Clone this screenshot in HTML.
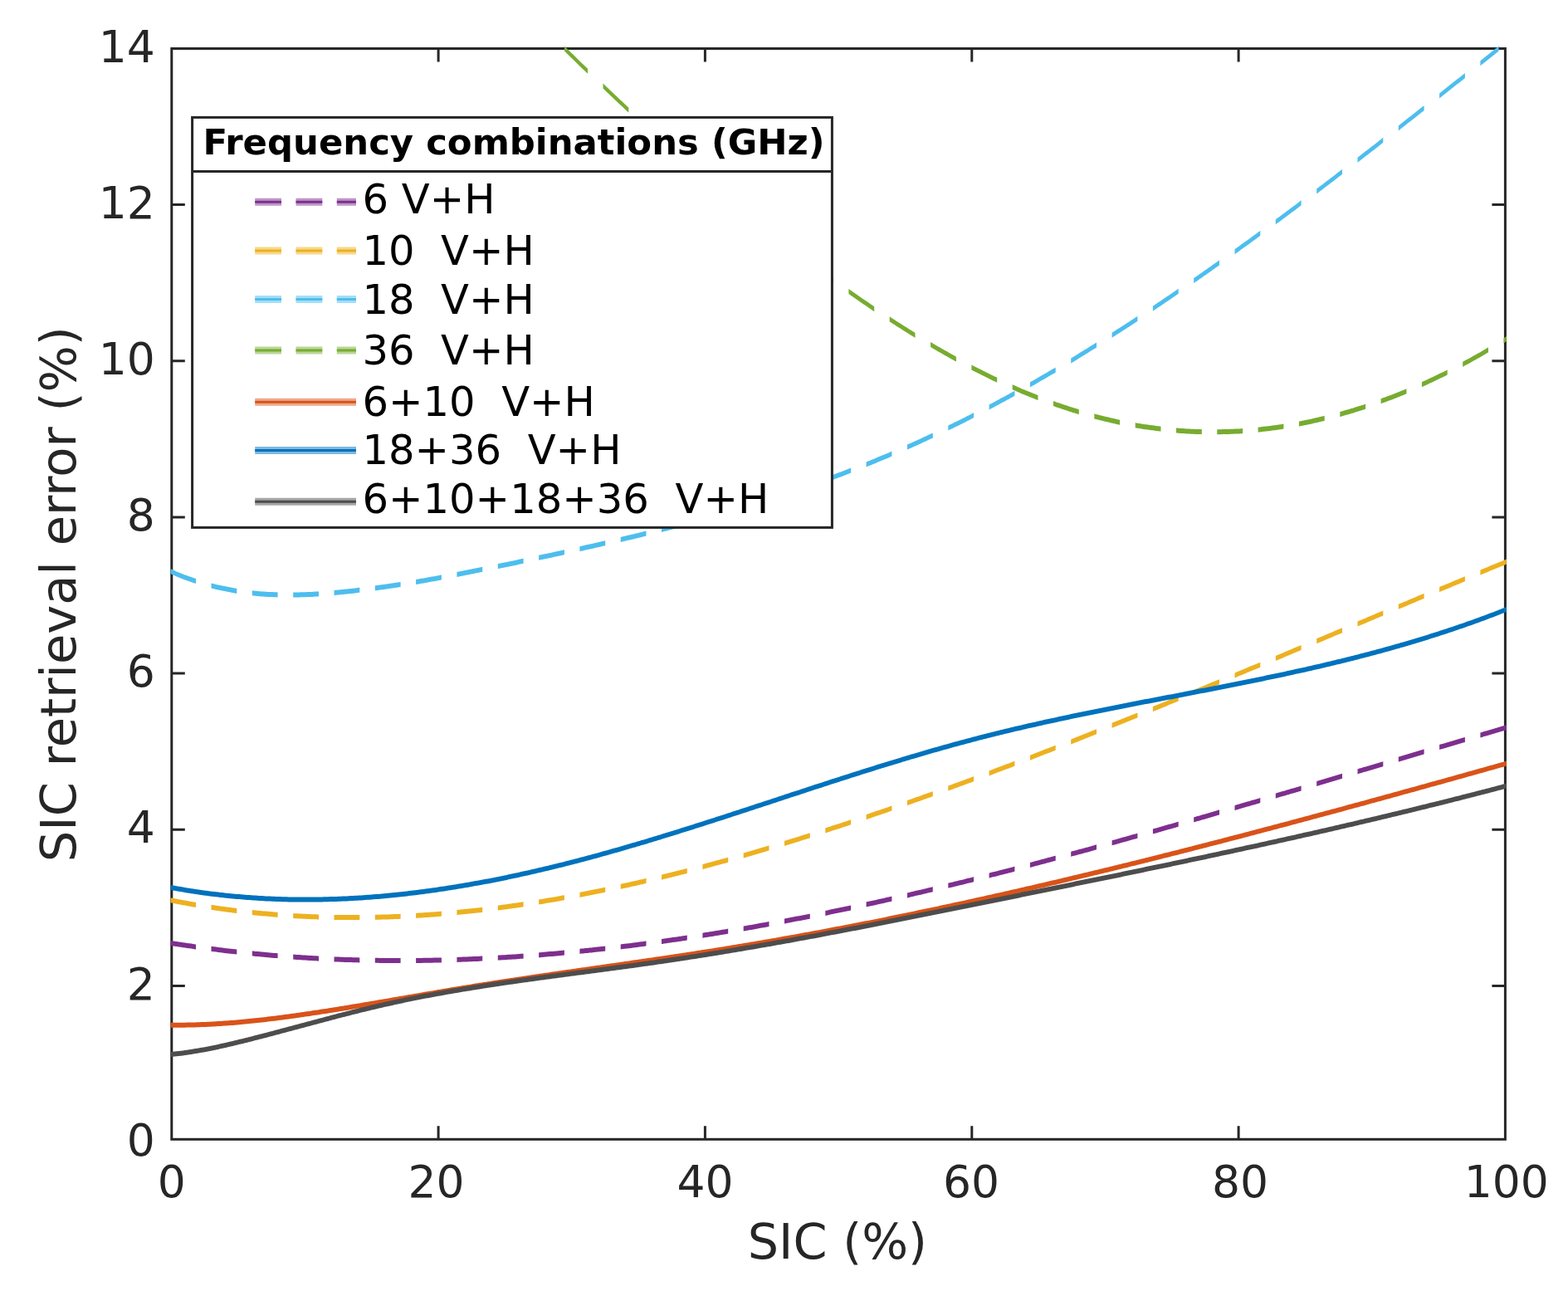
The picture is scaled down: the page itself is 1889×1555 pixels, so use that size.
<!DOCTYPE html>
<html><head><meta charset="utf-8"><title>SIC retrieval error</title>
<style>
html,body{margin:0;padding:0;background:#fff;overflow:hidden}
svg{display:block}
text{font-family:"DejaVu Sans","Liberation Sans",sans-serif}
</style></head><body>
<svg width="1889" height="1555" viewBox="0 0 1889 1555">
<rect width="1889" height="1555" fill="#fff"/>
<defs>
<clipPath id="ax"><rect x="205.3" y="40" width="1609.6" height="1340"/></clipPath>
<clipPath id="dA"><rect x="155.9" y="0" width="30.8" height="1555"/><rect x="205.2" y="0" width="30.8" height="1555"/><rect x="254.5" y="0" width="30.8" height="1555"/><rect x="303.8" y="0" width="30.8" height="1555"/><rect x="353.2" y="0" width="30.8" height="1555"/><rect x="402.5" y="0" width="30.8" height="1555"/><rect x="451.8" y="0" width="30.8" height="1555"/><rect x="501.1" y="0" width="30.8" height="1555"/><rect x="550.4" y="0" width="30.8" height="1555"/><rect x="599.8" y="0" width="30.8" height="1555"/><rect x="649.1" y="0" width="30.8" height="1555"/><rect x="698.4" y="0" width="30.8" height="1555"/><rect x="747.7" y="0" width="30.8" height="1555"/><rect x="797.0" y="0" width="30.8" height="1555"/><rect x="846.4" y="0" width="30.8" height="1555"/><rect x="895.7" y="0" width="30.8" height="1555"/><rect x="945.0" y="0" width="30.8" height="1555"/><rect x="994.3" y="0" width="30.8" height="1555"/><rect x="1043.6" y="0" width="30.8" height="1555"/><rect x="1093.0" y="0" width="30.8" height="1555"/><rect x="1142.3" y="0" width="30.8" height="1555"/><rect x="1191.6" y="0" width="30.8" height="1555"/><rect x="1240.9" y="0" width="30.8" height="1555"/><rect x="1290.2" y="0" width="30.8" height="1555"/><rect x="1339.6" y="0" width="30.8" height="1555"/><rect x="1388.9" y="0" width="30.8" height="1555"/><rect x="1438.2" y="0" width="30.8" height="1555"/><rect x="1487.5" y="0" width="30.8" height="1555"/><rect x="1536.8" y="0" width="30.8" height="1555"/><rect x="1586.2" y="0" width="30.8" height="1555"/><rect x="1635.5" y="0" width="30.8" height="1555"/><rect x="1684.8" y="0" width="30.8" height="1555"/><rect x="1734.1" y="0" width="30.8" height="1555"/><rect x="1783.4" y="0" width="32.1" height="1555"/><rect x="1832.8" y="0" width="30.8" height="1555"/></clipPath>
<clipPath id="dG"><rect x="134.7" y="0" width="30.8" height="1555"/><rect x="184.0" y="0" width="30.8" height="1555"/><rect x="233.3" y="0" width="30.8" height="1555"/><rect x="282.6" y="0" width="30.8" height="1555"/><rect x="331.9" y="0" width="30.8" height="1555"/><rect x="381.3" y="0" width="30.8" height="1555"/><rect x="430.6" y="0" width="30.8" height="1555"/><rect x="479.9" y="0" width="30.8" height="1555"/><rect x="529.2" y="0" width="30.8" height="1555"/><rect x="578.5" y="0" width="30.8" height="1555"/><rect x="627.9" y="0" width="30.8" height="1555"/><rect x="677.2" y="0" width="30.8" height="1555"/><rect x="726.5" y="0" width="30.8" height="1555"/><rect x="775.8" y="0" width="30.8" height="1555"/><rect x="825.1" y="0" width="30.8" height="1555"/><rect x="874.5" y="0" width="30.8" height="1555"/><rect x="923.8" y="0" width="30.8" height="1555"/><rect x="973.1" y="0" width="30.8" height="1555"/><rect x="1022.4" y="0" width="30.8" height="1555"/><rect x="1071.7" y="0" width="30.8" height="1555"/><rect x="1121.1" y="0" width="30.8" height="1555"/><rect x="1170.4" y="0" width="30.8" height="1555"/><rect x="1219.7" y="0" width="30.8" height="1555"/><rect x="1269.0" y="0" width="30.8" height="1555"/><rect x="1318.3" y="0" width="30.8" height="1555"/><rect x="1367.7" y="0" width="30.8" height="1555"/><rect x="1417.0" y="0" width="30.8" height="1555"/><rect x="1466.3" y="0" width="30.8" height="1555"/><rect x="1515.6" y="0" width="30.8" height="1555"/><rect x="1564.9" y="0" width="30.8" height="1555"/><rect x="1614.3" y="0" width="30.8" height="1555"/><rect x="1663.6" y="0" width="30.8" height="1555"/><rect x="1712.9" y="0" width="30.8" height="1555"/><rect x="1762.2" y="0" width="30.8" height="1555"/><rect x="1811.5" y="0" width="30.8" height="1555"/></clipPath>
</defs>
<g stroke="#262626" stroke-width="3" fill="none"><rect x="206.8" y="58.5" width="1606.6" height="1313.8"/><path d="M206.8 1187.5h16M1813.4 1187.5h-16M206.8 999.3h16M1813.4 999.3h-16M206.8 811.1h16M1813.4 811.1h-16M206.8 622.9h16M1813.4 622.9h-16M206.8 434.7h16M1813.4 434.7h-16M206.8 246.5h16M1813.4 246.5h-16M528.1 1372.3v-16M528.1 58.5v16M849.4 1372.3v-16M849.4 58.5v16M1170.8 1372.3v-16M1170.8 58.5v16M1492.1 1372.3v-16M1492.1 58.5v16"/></g>
<g clip-path="url(#ax)" stroke="none">
<g clip-path="url(#dA)"><path d="M205.3 1132.9L207.8 1133.3L210.3 1133.7L212.8 1134.1L215.3 1134.4L217.8 1134.8L220.3 1135.2L222.8 1135.6L225.3 1135.9L227.8 1136.3L230.3 1136.6L232.8 1137.0L235.3 1137.4L237.8 1137.7L240.3 1138.0L242.8 1138.4L245.3 1138.7L247.8 1139.0L250.3 1139.4L252.8 1139.7L255.3 1140.0L257.8 1140.3L260.3 1140.6L262.8 1141.0L265.3 1141.3L267.8 1141.6L270.3 1141.9L272.8 1142.2L275.3 1142.4L277.8 1142.7L280.3 1143.0L282.8 1143.3L285.3 1143.6L287.8 1143.8L290.3 1144.1L292.8 1144.4L295.3 1144.6L297.8 1144.9L300.3 1145.1L302.8 1145.4L305.3 1145.6L307.8 1145.9L310.3 1146.1L312.8 1146.3L315.3 1146.6L317.8 1146.8L320.3 1147.0L322.8 1147.2L325.3 1147.5L327.8 1147.7L330.3 1147.9L332.8 1148.1L335.3 1148.3L337.8 1148.5L340.3 1148.7L342.8 1148.9L345.3 1149.1L347.8 1149.2L350.3 1149.4L352.8 1149.6L355.3 1149.8L357.8 1149.9L360.3 1150.1L362.8 1150.3L365.3 1150.4L367.8 1150.6L370.3 1150.7L372.8 1150.9L375.3 1151.0L377.8 1151.2L380.3 1151.3L382.8 1151.4L385.3 1151.6L387.8 1151.7L390.3 1151.8L392.8 1151.9L395.3 1152.1L397.8 1152.2L400.3 1152.3L402.8 1152.4L405.3 1152.5L407.8 1152.6L410.3 1152.7L412.8 1152.8L415.3 1152.9L417.8 1152.9L420.3 1153.0L422.8 1153.1L425.3 1153.2L427.8 1153.3L430.3 1153.3L432.8 1153.4L435.3 1153.5L437.8 1153.5L440.3 1153.6L442.8 1153.6L445.3 1153.7L447.8 1153.7L450.3 1153.8L452.8 1153.8L455.3 1153.8L457.8 1153.9L460.3 1153.9L462.8 1153.9L465.3 1154.0L467.8 1154.0L470.3 1154.0L472.8 1154.0L475.3 1154.0L477.8 1154.0L480.3 1154.0L482.8 1154.0L485.3 1154.0L487.8 1154.0L490.3 1154.0L492.8 1154.0L495.3 1154.0L497.8 1154.0L500.3 1153.9L502.8 1153.9L505.3 1153.9L507.8 1153.9L510.3 1153.8L512.8 1153.8L515.3 1153.8L517.8 1153.7L520.3 1153.7L522.8 1153.6L525.3 1153.6L527.8 1153.5L530.3 1153.4L532.8 1153.4L535.3 1153.3L537.8 1153.3L540.3 1153.2L542.8 1153.1L545.3 1153.0L547.8 1153.0L550.3 1152.9L552.8 1152.8L555.3 1152.7L557.8 1152.6L560.3 1152.5L562.8 1152.4L565.3 1152.3L567.8 1152.2L570.3 1152.1L572.8 1152.0L575.3 1151.9L577.8 1151.8L580.3 1151.6L582.8 1151.5L585.3 1151.4L587.8 1151.3L590.3 1151.1L592.8 1151.0L595.3 1150.9L597.8 1150.7L600.3 1150.6L602.8 1150.4L605.3 1150.3L607.8 1150.2L610.3 1150.0L612.8 1149.8L615.3 1149.7L617.8 1149.5L620.3 1149.4L622.8 1149.2L625.3 1149.0L627.8 1148.8L630.3 1148.7L632.8 1148.5L635.3 1148.3L637.8 1148.1L640.3 1147.9L642.8 1147.8L645.3 1147.6L647.8 1147.4L650.3 1147.2L652.8 1147.0L655.3 1146.8L657.8 1146.6L660.3 1146.3L662.8 1146.1L665.3 1145.9L667.8 1145.7L670.3 1145.5L672.8 1145.3L675.3 1145.0L677.8 1144.8L680.3 1144.6L682.8 1144.3L685.3 1144.1L687.8 1143.9L690.3 1143.6L692.8 1143.4L695.3 1143.1L697.8 1142.9L700.3 1142.6L702.8 1142.4L705.3 1142.1L707.8 1141.9L710.3 1141.6L712.8 1141.4L715.3 1141.1L717.8 1140.8L720.3 1140.5L722.8 1140.3L725.3 1140.0L727.8 1139.7L730.3 1139.4L732.8 1139.1L735.3 1138.9L737.8 1138.6L740.3 1138.3L742.8 1138.0L745.3 1137.7L747.8 1137.4L750.3 1137.1L752.8 1136.8L755.3 1136.5L757.8 1136.2L760.3 1135.9L762.8 1135.5L765.3 1135.2L767.8 1134.9L770.3 1134.6L772.8 1134.3L775.3 1133.9L777.8 1133.6L780.3 1133.3L782.8 1132.9L785.3 1132.6L787.8 1132.3L790.3 1131.9L792.8 1131.6L795.3 1131.2L797.8 1130.9L800.3 1130.5L802.8 1130.2L805.3 1129.8L807.8 1129.5L810.3 1129.1L812.8 1128.8L815.3 1128.4L817.8 1128.0L820.3 1127.7L822.8 1127.3L825.3 1126.9L827.8 1126.5L830.3 1126.2L832.8 1125.8L835.3 1125.4L837.8 1125.0L840.3 1124.6L842.8 1124.3L845.3 1123.9L847.8 1123.5L850.3 1123.1L852.8 1122.7L855.3 1122.3L857.8 1121.9L860.3 1121.5L862.8 1121.1L865.3 1120.7L867.8 1120.3L870.3 1119.8L872.8 1119.4L875.3 1119.0L877.8 1118.6L880.3 1118.2L882.8 1117.7L885.3 1117.3L887.8 1116.9L890.3 1116.5L892.8 1116.0L895.3 1115.6L897.8 1115.2L900.3 1114.7L902.8 1114.3L905.3 1113.9L907.8 1113.4L910.3 1113.0L912.8 1112.5L915.3 1112.1L917.8 1111.6L920.3 1111.2L922.8 1110.7L925.3 1110.2L927.8 1109.8L930.3 1109.3L932.8 1108.9L935.3 1108.4L937.8 1107.9L940.3 1107.5L942.8 1107.0L945.3 1106.5L947.8 1106.0L950.3 1105.6L952.8 1105.1L955.3 1104.6L957.8 1104.1L960.3 1103.6L962.8 1103.2L965.3 1102.7L967.8 1102.2L970.3 1101.7L972.8 1101.2L975.3 1100.7L977.8 1100.2L980.3 1099.7L982.8 1099.2L985.3 1098.7L987.8 1098.2L990.3 1097.7L992.8 1097.2L995.3 1096.7L997.8 1096.2L1000.3 1095.6L1002.8 1095.1L1005.3 1094.6L1007.8 1094.1L1010.3 1093.6L1012.8 1093.0L1015.3 1092.5L1017.8 1092.0L1020.3 1091.5L1022.8 1090.9L1025.3 1090.4L1027.8 1089.9L1030.3 1089.3L1032.8 1088.8L1035.3 1088.3L1037.8 1087.7L1040.3 1087.2L1042.8 1086.6L1045.3 1086.1L1047.8 1085.5L1050.3 1085.0L1052.8 1084.5L1055.3 1083.9L1057.8 1083.3L1060.3 1082.8L1062.8 1082.2L1065.3 1081.7L1067.8 1081.1L1070.3 1080.6L1072.8 1080.0L1075.3 1079.4L1077.8 1078.9L1080.3 1078.3L1082.8 1077.7L1085.3 1077.2L1087.8 1076.6L1090.3 1076.0L1092.8 1075.4L1095.3 1074.9L1097.8 1074.3L1100.3 1073.7L1102.8 1073.1L1105.3 1072.5L1107.8 1072.0L1110.3 1071.4L1112.8 1070.8L1115.3 1070.2L1117.8 1069.6L1120.3 1069.0L1122.8 1068.4L1125.3 1067.8L1127.8 1067.2L1130.3 1066.6L1132.8 1066.0L1135.3 1065.4L1137.8 1064.8L1140.3 1064.2L1142.8 1063.6L1145.3 1063.0L1147.8 1062.4L1150.3 1061.8L1152.8 1061.2L1155.3 1060.6L1157.8 1060.0L1160.3 1059.4L1162.8 1058.8L1165.3 1058.1L1167.8 1057.5L1170.3 1056.9L1172.8 1056.3L1175.3 1055.7L1177.8 1055.0L1180.3 1054.4L1182.8 1053.8L1185.3 1053.2L1187.8 1052.5L1190.3 1051.9L1192.8 1051.3L1195.3 1050.6L1197.8 1050.0L1200.3 1049.4L1202.8 1048.7L1205.3 1048.1L1207.8 1047.5L1210.3 1046.8L1212.8 1046.2L1215.3 1045.5L1217.8 1044.9L1220.3 1044.3L1222.8 1043.6L1225.3 1043.0L1227.8 1042.3L1230.3 1041.7L1232.8 1041.0L1235.3 1040.4L1237.8 1039.7L1240.3 1039.1L1242.8 1038.4L1245.3 1037.8L1247.8 1037.1L1250.3 1036.4L1252.8 1035.8L1255.3 1035.1L1257.8 1034.5L1260.3 1033.8L1262.8 1033.1L1265.3 1032.5L1267.8 1031.8L1270.3 1031.1L1272.8 1030.5L1275.3 1029.8L1277.8 1029.1L1280.3 1028.5L1282.8 1027.8L1285.3 1027.1L1287.8 1026.5L1290.3 1025.8L1292.8 1025.1L1295.3 1024.4L1297.8 1023.8L1300.3 1023.1L1302.8 1022.4L1305.3 1021.7L1307.8 1021.0L1310.3 1020.4L1312.8 1019.7L1315.3 1019.0L1317.8 1018.3L1320.3 1017.6L1322.8 1016.9L1325.3 1016.3L1327.8 1015.6L1330.3 1014.9L1332.8 1014.2L1335.3 1013.5L1337.8 1012.8L1340.3 1012.1L1342.8 1011.4L1345.3 1010.7L1347.8 1010.0L1350.3 1009.3L1352.8 1008.6L1355.3 1007.9L1357.8 1007.2L1360.3 1006.5L1362.8 1005.8L1365.3 1005.1L1367.8 1004.4L1370.3 1003.7L1372.8 1003.0L1375.3 1002.3L1377.8 1001.6L1380.3 1000.9L1382.8 1000.2L1385.3 999.5L1387.8 998.8L1390.3 998.1L1392.8 997.4L1395.3 996.7L1397.8 996.0L1400.3 995.3L1402.8 994.5L1405.3 993.8L1407.8 993.1L1410.3 992.4L1412.8 991.7L1415.3 991.0L1417.8 990.3L1420.3 989.5L1422.8 988.8L1425.3 988.1L1427.8 987.4L1430.3 986.7L1432.8 986.0L1435.3 985.2L1437.8 984.5L1440.3 983.8L1442.8 983.1L1445.3 982.4L1447.8 981.6L1450.3 980.9L1452.8 980.2L1455.3 979.5L1457.8 978.7L1460.3 978.0L1462.8 977.3L1465.3 976.6L1467.8 975.8L1470.3 975.1L1472.8 974.4L1475.3 973.7L1477.8 972.9L1480.3 972.2L1482.8 971.5L1485.3 970.7L1487.8 970.0L1490.3 969.3L1492.8 968.5L1495.3 967.8L1497.8 967.1L1500.3 966.3L1502.8 965.6L1505.3 964.9L1507.8 964.1L1510.3 963.4L1512.8 962.7L1515.3 961.9L1517.8 961.2L1520.3 960.5L1522.8 959.7L1525.3 959.0L1527.8 958.3L1530.3 957.5L1532.8 956.8L1535.3 956.1L1537.8 955.3L1540.3 954.6L1542.8 953.8L1545.3 953.1L1547.8 952.4L1550.3 951.6L1552.8 950.9L1555.3 950.1L1557.8 949.4L1560.3 948.7L1562.8 947.9L1565.3 947.2L1567.8 946.4L1570.3 945.7L1572.8 945.0L1575.3 944.2L1577.8 943.5L1580.3 942.7L1582.8 942.0L1585.3 941.2L1587.8 940.5L1590.3 939.8L1592.8 939.0L1595.3 938.3L1597.8 937.5L1600.3 936.8L1602.8 936.0L1605.3 935.3L1607.8 934.6L1610.3 933.8L1612.8 933.1L1615.3 932.3L1617.8 931.6L1620.3 930.8L1622.8 930.1L1625.3 929.4L1627.8 928.6L1630.3 927.9L1632.8 927.1L1635.3 926.4L1637.8 925.6L1640.3 924.9L1642.8 924.1L1645.3 923.4L1647.8 922.7L1650.3 921.9L1652.8 921.2L1655.3 920.4L1657.8 919.7L1660.3 918.9L1662.8 918.2L1665.3 917.4L1667.8 916.7L1670.3 915.9L1672.8 915.2L1675.3 914.5L1677.8 913.7L1680.3 913.0L1682.8 912.2L1685.3 911.5L1687.8 910.7L1690.3 910.0L1692.8 909.3L1695.3 908.5L1697.8 907.8L1700.3 907.0L1702.8 906.3L1705.3 905.5L1707.8 904.8L1710.3 904.1L1712.8 903.3L1715.3 902.6L1717.8 901.8L1720.3 901.1L1722.8 900.3L1725.3 899.6L1727.8 898.9L1730.3 898.1L1732.8 897.4L1735.3 896.6L1737.8 895.9L1740.3 895.2L1742.8 894.4L1745.3 893.7L1747.8 892.9L1750.3 892.2L1752.8 891.5L1755.3 890.7L1757.8 890.0L1760.3 889.2L1762.8 888.5L1765.3 887.8L1767.8 887.0L1770.3 886.3L1772.8 885.6L1775.3 884.8L1777.8 884.1L1780.3 883.3L1782.8 882.6L1785.3 881.9L1787.8 881.1L1790.3 880.4L1792.8 879.7L1795.3 878.9L1797.8 878.2L1800.3 877.5L1802.8 876.7L1805.3 876.0L1807.8 875.3L1810.3 874.6L1812.8 873.8L1814.9 873.2L1814.9 879.2L1812.8 879.8L1810.3 880.6L1807.8 881.3L1805.3 882.0L1802.8 882.7L1800.3 883.5L1797.8 884.2L1795.3 884.9L1792.8 885.7L1790.3 886.4L1787.8 887.1L1785.3 887.9L1782.8 888.6L1780.3 889.3L1777.8 890.1L1775.3 890.8L1772.8 891.6L1770.3 892.3L1767.8 893.0L1765.3 893.8L1762.8 894.5L1760.3 895.2L1757.8 896.0L1755.3 896.7L1752.8 897.5L1750.3 898.2L1747.8 898.9L1745.3 899.7L1742.8 900.4L1740.3 901.2L1737.8 901.9L1735.3 902.6L1732.8 903.4L1730.3 904.1L1727.8 904.9L1725.3 905.6L1722.8 906.3L1720.3 907.1L1717.8 907.8L1715.3 908.6L1712.8 909.3L1710.3 910.1L1707.8 910.8L1705.3 911.5L1702.8 912.3L1700.3 913.0L1697.8 913.8L1695.3 914.5L1692.8 915.3L1690.3 916.0L1687.8 916.7L1685.3 917.5L1682.8 918.2L1680.3 919.0L1677.8 919.7L1675.3 920.5L1672.8 921.2L1670.3 921.9L1667.8 922.7L1665.3 923.4L1662.8 924.2L1660.3 924.9L1657.8 925.7L1655.3 926.4L1652.8 927.2L1650.3 927.9L1647.8 928.7L1645.3 929.4L1642.8 930.1L1640.3 930.9L1637.8 931.6L1635.3 932.4L1632.8 933.1L1630.3 933.9L1627.8 934.6L1625.3 935.4L1622.8 936.1L1620.3 936.8L1617.8 937.6L1615.3 938.3L1612.8 939.1L1610.3 939.8L1607.8 940.6L1605.3 941.3L1602.8 942.0L1600.3 942.8L1597.8 943.5L1595.3 944.3L1592.8 945.0L1590.3 945.8L1587.8 946.5L1585.3 947.2L1582.8 948.0L1580.3 948.7L1577.8 949.5L1575.3 950.2L1572.8 951.0L1570.3 951.7L1567.8 952.4L1565.3 953.2L1562.8 953.9L1560.3 954.7L1557.8 955.4L1555.3 956.1L1552.8 956.9L1550.3 957.6L1547.8 958.4L1545.3 959.1L1542.8 959.8L1540.3 960.6L1537.8 961.3L1535.3 962.1L1532.8 962.8L1530.3 963.5L1527.8 964.3L1525.3 965.0L1522.8 965.7L1520.3 966.5L1517.8 967.2L1515.3 967.9L1512.8 968.7L1510.3 969.4L1507.8 970.1L1505.3 970.9L1502.8 971.6L1500.3 972.3L1497.8 973.1L1495.3 973.8L1492.8 974.5L1490.3 975.3L1487.8 976.0L1485.3 976.7L1482.8 977.5L1480.3 978.2L1477.8 978.9L1475.3 979.7L1472.8 980.4L1470.3 981.1L1467.8 981.8L1465.3 982.6L1462.8 983.3L1460.3 984.0L1457.8 984.7L1455.3 985.5L1452.8 986.2L1450.3 986.9L1447.8 987.6L1445.3 988.4L1442.8 989.1L1440.3 989.8L1437.8 990.5L1435.3 991.2L1432.8 992.0L1430.3 992.7L1427.8 993.4L1425.3 994.1L1422.8 994.8L1420.3 995.5L1417.8 996.3L1415.3 997.0L1412.8 997.7L1410.3 998.4L1407.8 999.1L1405.3 999.8L1402.8 1000.5L1400.3 1001.3L1397.8 1002.0L1395.3 1002.7L1392.8 1003.4L1390.3 1004.1L1387.8 1004.8L1385.3 1005.5L1382.8 1006.2L1380.3 1006.9L1377.8 1007.6L1375.3 1008.3L1372.8 1009.0L1370.3 1009.7L1367.8 1010.4L1365.3 1011.1L1362.8 1011.8L1360.3 1012.5L1357.8 1013.2L1355.3 1013.9L1352.8 1014.6L1350.3 1015.3L1347.8 1016.0L1345.3 1016.7L1342.8 1017.4L1340.3 1018.1L1337.8 1018.8L1335.3 1019.5L1332.8 1020.2L1330.3 1020.9L1327.8 1021.6L1325.3 1022.3L1322.8 1022.9L1320.3 1023.6L1317.8 1024.3L1315.3 1025.0L1312.8 1025.7L1310.3 1026.4L1307.8 1027.0L1305.3 1027.7L1302.8 1028.4L1300.3 1029.1L1297.8 1029.8L1295.3 1030.4L1292.8 1031.1L1290.3 1031.8L1287.8 1032.5L1285.3 1033.1L1282.8 1033.8L1280.3 1034.5L1277.8 1035.1L1275.3 1035.8L1272.8 1036.5L1270.3 1037.1L1267.8 1037.8L1265.3 1038.5L1262.8 1039.1L1260.3 1039.8L1257.8 1040.5L1255.3 1041.1L1252.8 1041.8L1250.3 1042.4L1247.8 1043.1L1245.3 1043.8L1242.8 1044.4L1240.3 1045.1L1237.8 1045.7L1235.3 1046.4L1232.8 1047.0L1230.3 1047.7L1227.8 1048.3L1225.3 1049.0L1222.8 1049.6L1220.3 1050.3L1217.8 1050.9L1215.3 1051.5L1212.8 1052.2L1210.3 1052.8L1207.8 1053.5L1205.3 1054.1L1202.8 1054.7L1200.3 1055.4L1197.8 1056.0L1195.3 1056.6L1192.8 1057.3L1190.3 1057.9L1187.8 1058.5L1185.3 1059.2L1182.8 1059.8L1180.3 1060.4L1177.8 1061.0L1175.3 1061.7L1172.8 1062.3L1170.3 1062.9L1167.8 1063.5L1165.3 1064.1L1162.8 1064.8L1160.3 1065.4L1157.8 1066.0L1155.3 1066.6L1152.8 1067.2L1150.3 1067.8L1147.8 1068.4L1145.3 1069.0L1142.8 1069.6L1140.3 1070.2L1137.8 1070.8L1135.3 1071.4L1132.8 1072.0L1130.3 1072.6L1127.8 1073.2L1125.3 1073.8L1122.8 1074.4L1120.3 1075.0L1117.8 1075.6L1115.3 1076.2L1112.8 1076.8L1110.3 1077.4L1107.8 1078.0L1105.3 1078.5L1102.8 1079.1L1100.3 1079.7L1097.8 1080.3L1095.3 1080.9L1092.8 1081.4L1090.3 1082.0L1087.8 1082.6L1085.3 1083.2L1082.8 1083.7L1080.3 1084.3L1077.8 1084.9L1075.3 1085.4L1072.8 1086.0L1070.3 1086.6L1067.8 1087.1L1065.3 1087.7L1062.8 1088.2L1060.3 1088.8L1057.8 1089.3L1055.3 1089.9L1052.8 1090.5L1050.3 1091.0L1047.8 1091.5L1045.3 1092.1L1042.8 1092.6L1040.3 1093.2L1037.8 1093.7L1035.3 1094.3L1032.8 1094.8L1030.3 1095.3L1027.8 1095.9L1025.3 1096.4L1022.8 1096.9L1020.3 1097.5L1017.8 1098.0L1015.3 1098.5L1012.8 1099.0L1010.3 1099.6L1007.8 1100.1L1005.3 1100.6L1002.8 1101.1L1000.3 1101.6L997.8 1102.2L995.3 1102.7L992.8 1103.2L990.3 1103.7L987.8 1104.2L985.3 1104.7L982.8 1105.2L980.3 1105.7L977.8 1106.2L975.3 1106.7L972.8 1107.2L970.3 1107.7L967.8 1108.2L965.3 1108.7L962.8 1109.2L960.3 1109.6L957.8 1110.1L955.3 1110.6L952.8 1111.1L950.3 1111.6L947.8 1112.0L945.3 1112.5L942.8 1113.0L940.3 1113.5L937.8 1113.9L935.3 1114.4L932.8 1114.9L930.3 1115.3L927.8 1115.8L925.3 1116.2L922.8 1116.7L920.3 1117.2L917.8 1117.6L915.3 1118.1L912.8 1118.5L910.3 1119.0L907.8 1119.4L905.3 1119.9L902.8 1120.3L900.3 1120.7L897.8 1121.2L895.3 1121.6L892.8 1122.0L890.3 1122.5L887.8 1122.9L885.3 1123.3L882.8 1123.7L880.3 1124.2L877.8 1124.6L875.3 1125.0L872.8 1125.4L870.3 1125.8L867.8 1126.3L865.3 1126.7L862.8 1127.1L860.3 1127.5L857.8 1127.9L855.3 1128.3L852.8 1128.7L850.3 1129.1L847.8 1129.5L845.3 1129.9L842.8 1130.3L840.3 1130.6L837.8 1131.0L835.3 1131.4L832.8 1131.8L830.3 1132.2L827.8 1132.5L825.3 1132.9L822.8 1133.3L820.3 1133.7L817.8 1134.0L815.3 1134.4L812.8 1134.8L810.3 1135.1L807.8 1135.5L805.3 1135.8L802.8 1136.2L800.3 1136.5L797.8 1136.9L795.3 1137.2L792.8 1137.6L790.3 1137.9L787.8 1138.3L785.3 1138.6L782.8 1138.9L780.3 1139.3L777.8 1139.6L775.3 1139.9L772.8 1140.3L770.3 1140.6L767.8 1140.9L765.3 1141.2L762.8 1141.5L760.3 1141.9L757.8 1142.2L755.3 1142.5L752.8 1142.8L750.3 1143.1L747.8 1143.4L745.3 1143.7L742.8 1144.0L740.3 1144.3L737.8 1144.6L735.3 1144.9L732.8 1145.1L730.3 1145.4L727.8 1145.7L725.3 1146.0L722.8 1146.3L720.3 1146.5L717.8 1146.8L715.3 1147.1L712.8 1147.4L710.3 1147.6L707.8 1147.9L705.3 1148.1L702.8 1148.4L700.3 1148.6L697.8 1148.9L695.3 1149.1L692.8 1149.4L690.3 1149.6L687.8 1149.9L685.3 1150.1L682.8 1150.3L680.3 1150.6L677.8 1150.8L675.3 1151.0L672.8 1151.3L670.3 1151.5L667.8 1151.7L665.3 1151.9L662.8 1152.1L660.3 1152.3L657.8 1152.6L655.3 1152.8L652.8 1153.0L650.3 1153.2L647.8 1153.4L645.3 1153.6L642.8 1153.8L640.3 1153.9L637.8 1154.1L635.3 1154.3L632.8 1154.5L630.3 1154.7L627.8 1154.8L625.3 1155.0L622.8 1155.2L620.3 1155.4L617.8 1155.5L615.3 1155.7L612.8 1155.8L610.3 1156.0L607.8 1156.2L605.3 1156.3L602.8 1156.4L600.3 1156.6L597.8 1156.7L595.3 1156.9L592.8 1157.0L590.3 1157.1L587.8 1157.3L585.3 1157.4L582.8 1157.5L580.3 1157.6L577.8 1157.8L575.3 1157.9L572.8 1158.0L570.3 1158.1L567.8 1158.2L565.3 1158.3L562.8 1158.4L560.3 1158.5L557.8 1158.6L555.3 1158.7L552.8 1158.8L550.3 1158.9L547.8 1159.0L545.3 1159.0L542.8 1159.1L540.3 1159.2L537.8 1159.3L535.3 1159.3L532.8 1159.4L530.3 1159.4L527.8 1159.5L525.3 1159.6L522.8 1159.6L520.3 1159.7L517.8 1159.7L515.3 1159.8L512.8 1159.8L510.3 1159.8L507.8 1159.9L505.3 1159.9L502.8 1159.9L500.3 1159.9L497.8 1160.0L495.3 1160.0L492.8 1160.0L490.3 1160.0L487.8 1160.0L485.3 1160.0L482.8 1160.0L480.3 1160.0L477.8 1160.0L475.3 1160.0L472.8 1160.0L470.3 1160.0L467.8 1160.0L465.3 1160.0L462.8 1159.9L460.3 1159.9L457.8 1159.9L455.3 1159.8L452.8 1159.8L450.3 1159.8L447.8 1159.7L445.3 1159.7L442.8 1159.6L440.3 1159.6L437.8 1159.5L435.3 1159.5L432.8 1159.4L430.3 1159.3L427.8 1159.3L425.3 1159.2L422.8 1159.1L420.3 1159.0L417.8 1158.9L415.3 1158.9L412.8 1158.8L410.3 1158.7L407.8 1158.6L405.3 1158.5L402.8 1158.4L400.3 1158.3L397.8 1158.2L395.3 1158.1L392.8 1157.9L390.3 1157.8L387.8 1157.7L385.3 1157.6L382.8 1157.4L380.3 1157.3L377.8 1157.2L375.3 1157.0L372.8 1156.9L370.3 1156.7L367.8 1156.6L365.3 1156.4L362.8 1156.3L360.3 1156.1L357.8 1155.9L355.3 1155.8L352.8 1155.6L350.3 1155.4L347.8 1155.2L345.3 1155.1L342.8 1154.9L340.3 1154.7L337.8 1154.5L335.3 1154.3L332.8 1154.1L330.3 1153.9L327.8 1153.7L325.3 1153.5L322.8 1153.2L320.3 1153.0L317.8 1152.8L315.3 1152.6L312.8 1152.3L310.3 1152.1L307.8 1151.9L305.3 1151.6L302.8 1151.4L300.3 1151.1L297.8 1150.9L295.3 1150.6L292.8 1150.4L290.3 1150.1L287.8 1149.8L285.3 1149.6L282.8 1149.3L280.3 1149.0L277.8 1148.7L275.3 1148.4L272.8 1148.2L270.3 1147.9L267.8 1147.6L265.3 1147.3L262.8 1147.0L260.3 1146.6L257.8 1146.3L255.3 1146.0L252.8 1145.7L250.3 1145.4L247.8 1145.0L245.3 1144.7L242.8 1144.4L240.3 1144.0L237.8 1143.7L235.3 1143.4L232.8 1143.0L230.3 1142.6L227.8 1142.3L225.3 1141.9L222.8 1141.6L220.3 1141.2L217.8 1140.8L215.3 1140.4L212.8 1140.1L210.3 1139.7L207.8 1139.3L205.3 1138.9Z" fill="#7E2F8E"/></g>
<g clip-path="url(#dA)"><path d="M205.3 1081.3L207.8 1081.8L210.3 1082.3L212.8 1082.8L215.3 1083.2L217.8 1083.7L220.3 1084.2L222.8 1084.6L225.3 1085.1L227.8 1085.5L230.3 1085.9L232.8 1086.4L235.3 1086.8L237.8 1087.2L240.3 1087.6L242.8 1088.0L245.3 1088.4L247.8 1088.8L250.3 1089.2L252.8 1089.6L255.3 1089.9L257.8 1090.3L260.3 1090.7L262.8 1091.0L265.3 1091.4L267.8 1091.7L270.3 1092.1L272.8 1092.4L275.3 1092.7L277.8 1093.0L280.3 1093.4L282.8 1093.7L285.3 1094.0L287.8 1094.3L290.3 1094.6L292.8 1094.8L295.3 1095.1L297.8 1095.4L300.3 1095.7L302.8 1095.9L305.3 1096.2L307.8 1096.4L310.3 1096.7L312.8 1096.9L315.3 1097.2L317.8 1097.4L320.3 1097.6L322.8 1097.8L325.3 1098.0L327.8 1098.3L330.3 1098.5L332.8 1098.7L335.3 1098.8L337.8 1099.0L340.3 1099.2L342.8 1099.4L345.3 1099.6L347.8 1099.7L350.3 1099.9L352.8 1100.0L355.3 1100.2L357.8 1100.3L360.3 1100.4L362.8 1100.6L365.3 1100.7L367.8 1100.8L370.3 1100.9L372.8 1101.1L375.3 1101.2L377.8 1101.3L380.3 1101.3L382.8 1101.4L385.3 1101.5L387.8 1101.6L390.3 1101.7L392.8 1101.7L395.3 1101.8L397.8 1101.9L400.3 1101.9L402.8 1102.0L405.3 1102.0L407.8 1102.0L410.3 1102.1L412.8 1102.1L415.3 1102.1L417.8 1102.1L420.3 1102.1L422.8 1102.1L425.3 1102.1L427.8 1102.1L430.3 1102.1L432.8 1102.1L435.3 1102.1L437.8 1102.1L440.3 1102.1L442.8 1102.0L445.3 1102.0L447.8 1101.9L450.3 1101.9L452.8 1101.8L455.3 1101.8L457.8 1101.7L460.3 1101.6L462.8 1101.6L465.3 1101.5L467.8 1101.4L470.3 1101.3L472.8 1101.2L475.3 1101.1L477.8 1101.0L480.3 1100.9L482.8 1100.8L485.3 1100.7L487.8 1100.6L490.3 1100.5L492.8 1100.3L495.3 1100.2L497.8 1100.0L500.3 1099.9L502.8 1099.8L505.3 1099.6L507.8 1099.4L510.3 1099.3L512.8 1099.1L515.3 1098.9L517.8 1098.8L520.3 1098.6L522.8 1098.4L525.3 1098.2L527.8 1098.0L530.3 1097.8L532.8 1097.6L535.3 1097.4L537.8 1097.2L540.3 1097.0L542.8 1096.8L545.3 1096.5L547.8 1096.3L550.3 1096.1L552.8 1095.8L555.3 1095.6L557.8 1095.3L560.3 1095.1L562.8 1094.8L565.3 1094.6L567.8 1094.3L570.3 1094.0L572.8 1093.8L575.3 1093.5L577.8 1093.2L580.3 1092.9L582.8 1092.6L585.3 1092.3L587.8 1092.0L590.3 1091.7L592.8 1091.4L595.3 1091.1L597.8 1090.8L600.3 1090.5L602.8 1090.2L605.3 1089.8L607.8 1089.5L610.3 1089.2L612.8 1088.8L615.3 1088.5L617.8 1088.1L620.3 1087.8L622.8 1087.4L625.3 1087.1L627.8 1086.7L630.3 1086.3L632.8 1086.0L635.3 1085.6L637.8 1085.2L640.3 1084.8L642.8 1084.4L645.3 1084.1L647.8 1083.7L650.3 1083.3L652.8 1082.9L655.3 1082.5L657.8 1082.0L660.3 1081.6L662.8 1081.2L665.3 1080.8L667.8 1080.4L670.3 1079.9L672.8 1079.5L675.3 1079.1L677.8 1078.6L680.3 1078.2L682.8 1077.7L685.3 1077.3L687.8 1076.8L690.3 1076.4L692.8 1075.9L695.3 1075.4L697.8 1075.0L700.3 1074.5L702.8 1074.0L705.3 1073.5L707.8 1073.1L710.3 1072.6L712.8 1072.1L715.3 1071.6L717.8 1071.1L720.3 1070.6L722.8 1070.1L725.3 1069.6L727.8 1069.1L730.3 1068.5L732.8 1068.0L735.3 1067.5L737.8 1067.0L740.3 1066.4L742.8 1065.9L745.3 1065.4L747.8 1064.8L750.3 1064.3L752.8 1063.8L755.3 1063.2L757.8 1062.7L760.3 1062.1L762.8 1061.5L765.3 1061.0L767.8 1060.4L770.3 1059.8L772.8 1059.3L775.3 1058.7L777.8 1058.1L780.3 1057.5L782.8 1056.9L785.3 1056.4L787.8 1055.8L790.3 1055.2L792.8 1054.6L795.3 1054.0L797.8 1053.4L800.3 1052.8L802.8 1052.2L805.3 1051.5L807.8 1050.9L810.3 1050.3L812.8 1049.7L815.3 1049.1L817.8 1048.4L820.3 1047.8L822.8 1047.2L825.3 1046.5L827.8 1045.9L830.3 1045.3L832.8 1044.6L835.3 1044.0L837.8 1043.3L840.3 1042.7L842.8 1042.0L845.3 1041.3L847.8 1040.7L850.3 1040.0L852.8 1039.3L855.3 1038.7L857.8 1038.0L860.3 1037.3L862.8 1036.6L865.3 1036.0L867.8 1035.3L870.3 1034.6L872.8 1033.9L875.3 1033.2L877.8 1032.5L880.3 1031.8L882.8 1031.1L885.3 1030.4L887.8 1029.7L890.3 1029.0L892.8 1028.3L895.3 1027.6L897.8 1026.9L900.3 1026.1L902.8 1025.4L905.3 1024.7L907.8 1024.0L910.3 1023.2L912.8 1022.5L915.3 1021.8L917.8 1021.0L920.3 1020.3L922.8 1019.6L925.3 1018.8L927.8 1018.1L930.3 1017.3L932.8 1016.6L935.3 1015.8L937.8 1015.1L940.3 1014.3L942.8 1013.5L945.3 1012.8L947.8 1012.0L950.3 1011.2L952.8 1010.5L955.3 1009.7L957.8 1008.9L960.3 1008.2L962.8 1007.4L965.3 1006.6L967.8 1005.8L970.3 1005.0L972.8 1004.2L975.3 1003.5L977.8 1002.7L980.3 1001.9L982.8 1001.1L985.3 1000.3L987.8 999.5L990.3 998.7L992.8 997.9L995.3 997.1L997.8 996.3L1000.3 995.4L1002.8 994.6L1005.3 993.8L1007.8 993.0L1010.3 992.2L1012.8 991.4L1015.3 990.5L1017.8 989.7L1020.3 988.9L1022.8 988.1L1025.3 987.2L1027.8 986.4L1030.3 985.6L1032.8 984.7L1035.3 983.9L1037.8 983.1L1040.3 982.2L1042.8 981.4L1045.3 980.5L1047.8 979.7L1050.3 978.8L1052.8 978.0L1055.3 977.1L1057.8 976.3L1060.3 975.4L1062.8 974.6L1065.3 973.7L1067.8 972.9L1070.3 972.0L1072.8 971.1L1075.3 970.3L1077.8 969.4L1080.3 968.5L1082.8 967.7L1085.3 966.8L1087.8 965.9L1090.3 965.0L1092.8 964.2L1095.3 963.3L1097.8 962.4L1100.3 961.5L1102.8 960.6L1105.3 959.8L1107.8 958.9L1110.3 958.0L1112.8 957.1L1115.3 956.2L1117.8 955.3L1120.3 954.4L1122.8 953.5L1125.3 952.6L1127.8 951.7L1130.3 950.8L1132.8 949.9L1135.3 949.0L1137.8 948.1L1140.3 947.2L1142.8 946.3L1145.3 945.4L1147.8 944.5L1150.3 943.6L1152.8 942.7L1155.3 941.7L1157.8 940.8L1160.3 939.9L1162.8 939.0L1165.3 938.1L1167.8 937.2L1170.3 936.2L1172.8 935.3L1175.3 934.4L1177.8 933.5L1180.3 932.5L1182.8 931.6L1185.3 930.7L1187.8 929.7L1190.3 928.8L1192.8 927.9L1195.3 926.9L1197.8 926.0L1200.3 925.1L1202.8 924.1L1205.3 923.2L1207.8 922.2L1210.3 921.3L1212.8 920.3L1215.3 919.4L1217.8 918.4L1220.3 917.5L1222.8 916.5L1225.3 915.6L1227.8 914.6L1230.3 913.7L1232.8 912.7L1235.3 911.8L1237.8 910.8L1240.3 909.9L1242.8 908.9L1245.3 907.9L1247.8 907.0L1250.3 906.0L1252.8 905.0L1255.3 904.1L1257.8 903.1L1260.3 902.1L1262.8 901.2L1265.3 900.2L1267.8 899.2L1270.3 898.3L1272.8 897.3L1275.3 896.3L1277.8 895.3L1280.3 894.4L1282.8 893.4L1285.3 892.4L1287.8 891.4L1290.3 890.4L1292.8 889.5L1295.3 888.5L1297.8 887.5L1300.3 886.5L1302.8 885.5L1305.3 884.5L1307.8 883.6L1310.3 882.6L1312.8 881.6L1315.3 880.6L1317.8 879.6L1320.3 878.6L1322.8 877.6L1325.3 876.6L1327.8 875.6L1330.3 874.6L1332.8 873.6L1335.3 872.6L1337.8 871.6L1340.3 870.6L1342.8 869.6L1345.3 868.6L1347.8 867.6L1350.3 866.6L1352.8 865.6L1355.3 864.6L1357.8 863.6L1360.3 862.6L1362.8 861.6L1365.3 860.6L1367.8 859.6L1370.3 858.6L1372.8 857.6L1375.3 856.5L1377.8 855.5L1380.3 854.5L1382.8 853.5L1385.3 852.5L1387.8 851.5L1390.3 850.5L1392.8 849.4L1395.3 848.4L1397.8 847.4L1400.3 846.4L1402.8 845.4L1405.3 844.4L1407.8 843.3L1410.3 842.3L1412.8 841.3L1415.3 840.3L1417.8 839.2L1420.3 838.2L1422.8 837.2L1425.3 836.2L1427.8 835.1L1430.3 834.1L1432.8 833.1L1435.3 832.1L1437.8 831.0L1440.3 830.0L1442.8 829.0L1445.3 827.9L1447.8 826.9L1450.3 825.9L1452.8 824.9L1455.3 823.8L1457.8 822.8L1460.3 821.8L1462.8 820.7L1465.3 819.7L1467.8 818.7L1470.3 817.6L1472.8 816.6L1475.3 815.5L1477.8 814.5L1480.3 813.5L1482.8 812.4L1485.3 811.4L1487.8 810.4L1490.3 809.3L1492.8 808.3L1495.3 807.2L1497.8 806.2L1500.3 805.2L1502.8 804.1L1505.3 803.1L1507.8 802.0L1510.3 801.0L1512.8 800.0L1515.3 798.9L1517.8 797.9L1520.3 796.8L1522.8 795.8L1525.3 794.7L1527.8 793.7L1530.3 792.6L1532.8 791.6L1535.3 790.6L1537.8 789.5L1540.3 788.5L1542.8 787.4L1545.3 786.4L1547.8 785.3L1550.3 784.3L1552.8 783.2L1555.3 782.2L1557.8 781.1L1560.3 780.1L1562.8 779.0L1565.3 778.0L1567.8 776.9L1570.3 775.9L1572.8 774.8L1575.3 773.8L1577.8 772.7L1580.3 771.7L1582.8 770.6L1585.3 769.6L1587.8 768.5L1590.3 767.5L1592.8 766.4L1595.3 765.4L1597.8 764.3L1600.3 763.3L1602.8 762.2L1605.3 761.2L1607.8 760.1L1610.3 759.1L1612.8 758.0L1615.3 757.0L1617.8 755.9L1620.3 754.9L1622.8 753.8L1625.3 752.8L1627.8 751.7L1630.3 750.7L1632.8 749.6L1635.3 748.6L1637.8 747.5L1640.3 746.5L1642.8 745.4L1645.3 744.4L1647.8 743.3L1650.3 742.3L1652.8 741.2L1655.3 740.2L1657.8 739.1L1660.3 738.1L1662.8 737.0L1665.3 736.0L1667.8 734.9L1670.3 733.9L1672.8 732.8L1675.3 731.8L1677.8 730.7L1680.3 729.7L1682.8 728.6L1685.3 727.6L1687.8 726.5L1690.3 725.5L1692.8 724.4L1695.3 723.4L1697.8 722.3L1700.3 721.3L1702.8 720.2L1705.3 719.2L1707.8 718.1L1710.3 717.1L1712.8 716.0L1715.3 715.0L1717.8 713.9L1720.3 712.9L1722.8 711.8L1725.3 710.8L1727.8 709.7L1730.3 708.7L1732.8 707.7L1735.3 706.6L1737.8 705.6L1740.3 704.5L1742.8 703.5L1745.3 702.4L1747.8 701.4L1750.3 700.3L1752.8 699.3L1755.3 698.3L1757.8 697.2L1760.3 696.2L1762.8 695.1L1765.3 694.1L1767.8 693.1L1770.3 692.0L1772.8 691.0L1775.3 689.9L1777.8 688.9L1780.3 687.9L1782.8 686.8L1785.3 685.8L1787.8 684.7L1790.3 683.7L1792.8 682.7L1795.3 681.6L1797.8 680.6L1800.3 679.6L1802.8 678.5L1805.3 677.5L1807.8 676.5L1810.3 675.4L1812.8 674.4L1814.9 673.5L1814.9 679.5L1812.8 680.4L1810.3 681.4L1807.8 682.5L1805.3 683.5L1802.8 684.5L1800.3 685.6L1797.8 686.6L1795.3 687.6L1792.8 688.7L1790.3 689.7L1787.8 690.7L1785.3 691.8L1782.8 692.8L1780.3 693.9L1777.8 694.9L1775.3 695.9L1772.8 697.0L1770.3 698.0L1767.8 699.1L1765.3 700.1L1762.8 701.1L1760.3 702.2L1757.8 703.2L1755.3 704.3L1752.8 705.3L1750.3 706.3L1747.8 707.4L1745.3 708.4L1742.8 709.5L1740.3 710.5L1737.8 711.6L1735.3 712.6L1732.8 713.7L1730.3 714.7L1727.8 715.7L1725.3 716.8L1722.8 717.8L1720.3 718.9L1717.8 719.9L1715.3 721.0L1712.8 722.0L1710.3 723.1L1707.8 724.1L1705.3 725.2L1702.8 726.2L1700.3 727.3L1697.8 728.3L1695.3 729.4L1692.8 730.4L1690.3 731.5L1687.8 732.5L1685.3 733.6L1682.8 734.6L1680.3 735.7L1677.8 736.7L1675.3 737.8L1672.8 738.8L1670.3 739.9L1667.8 740.9L1665.3 742.0L1662.8 743.0L1660.3 744.1L1657.8 745.1L1655.3 746.2L1652.8 747.2L1650.3 748.3L1647.8 749.3L1645.3 750.4L1642.8 751.4L1640.3 752.5L1637.8 753.5L1635.3 754.6L1632.8 755.6L1630.3 756.7L1627.8 757.7L1625.3 758.8L1622.8 759.8L1620.3 760.9L1617.8 761.9L1615.3 763.0L1612.8 764.0L1610.3 765.1L1607.8 766.1L1605.3 767.2L1602.8 768.2L1600.3 769.3L1597.8 770.3L1595.3 771.4L1592.8 772.4L1590.3 773.5L1587.8 774.5L1585.3 775.6L1582.8 776.6L1580.3 777.7L1577.8 778.7L1575.3 779.8L1572.8 780.8L1570.3 781.9L1567.8 782.9L1565.3 784.0L1562.8 785.0L1560.3 786.1L1557.8 787.1L1555.3 788.2L1552.8 789.2L1550.3 790.3L1547.8 791.3L1545.3 792.4L1542.8 793.4L1540.3 794.5L1537.8 795.5L1535.3 796.6L1532.8 797.6L1530.3 798.6L1527.8 799.7L1525.3 800.7L1522.8 801.8L1520.3 802.8L1517.8 803.9L1515.3 804.9L1512.8 806.0L1510.3 807.0L1507.8 808.0L1505.3 809.1L1502.8 810.1L1500.3 811.2L1497.8 812.2L1495.3 813.2L1492.8 814.3L1490.3 815.3L1487.8 816.4L1485.3 817.4L1482.8 818.4L1480.3 819.5L1477.8 820.5L1475.3 821.5L1472.8 822.6L1470.3 823.6L1467.8 824.7L1465.3 825.7L1462.8 826.7L1460.3 827.8L1457.8 828.8L1455.3 829.8L1452.8 830.9L1450.3 831.9L1447.8 832.9L1445.3 833.9L1442.8 835.0L1440.3 836.0L1437.8 837.0L1435.3 838.1L1432.8 839.1L1430.3 840.1L1427.8 841.1L1425.3 842.2L1422.8 843.2L1420.3 844.2L1417.8 845.2L1415.3 846.3L1412.8 847.3L1410.3 848.3L1407.8 849.3L1405.3 850.4L1402.8 851.4L1400.3 852.4L1397.8 853.4L1395.3 854.4L1392.8 855.4L1390.3 856.5L1387.8 857.5L1385.3 858.5L1382.8 859.5L1380.3 860.5L1377.8 861.5L1375.3 862.5L1372.8 863.6L1370.3 864.6L1367.8 865.6L1365.3 866.6L1362.8 867.6L1360.3 868.6L1357.8 869.6L1355.3 870.6L1352.8 871.6L1350.3 872.6L1347.8 873.6L1345.3 874.6L1342.8 875.6L1340.3 876.6L1337.8 877.6L1335.3 878.6L1332.8 879.6L1330.3 880.6L1327.8 881.6L1325.3 882.6L1322.8 883.6L1320.3 884.6L1317.8 885.6L1315.3 886.6L1312.8 887.6L1310.3 888.6L1307.8 889.6L1305.3 890.5L1302.8 891.5L1300.3 892.5L1297.8 893.5L1295.3 894.5L1292.8 895.5L1290.3 896.4L1287.8 897.4L1285.3 898.4L1282.8 899.4L1280.3 900.4L1277.8 901.3L1275.3 902.3L1272.8 903.3L1270.3 904.3L1267.8 905.2L1265.3 906.2L1262.8 907.2L1260.3 908.1L1257.8 909.1L1255.3 910.1L1252.8 911.0L1250.3 912.0L1247.8 913.0L1245.3 913.9L1242.8 914.9L1240.3 915.9L1237.8 916.8L1235.3 917.8L1232.8 918.7L1230.3 919.7L1227.8 920.6L1225.3 921.6L1222.8 922.5L1220.3 923.5L1217.8 924.4L1215.3 925.4L1212.8 926.3L1210.3 927.3L1207.8 928.2L1205.3 929.2L1202.8 930.1L1200.3 931.1L1197.8 932.0L1195.3 932.9L1192.8 933.9L1190.3 934.8L1187.8 935.7L1185.3 936.7L1182.8 937.6L1180.3 938.5L1177.8 939.5L1175.3 940.4L1172.8 941.3L1170.3 942.2L1167.8 943.2L1165.3 944.1L1162.8 945.0L1160.3 945.9L1157.8 946.8L1155.3 947.7L1152.8 948.7L1150.3 949.6L1147.8 950.5L1145.3 951.4L1142.8 952.3L1140.3 953.2L1137.8 954.1L1135.3 955.0L1132.8 955.9L1130.3 956.8L1127.8 957.7L1125.3 958.6L1122.8 959.5L1120.3 960.4L1117.8 961.3L1115.3 962.2L1112.8 963.1L1110.3 964.0L1107.8 964.9L1105.3 965.8L1102.8 966.6L1100.3 967.5L1097.8 968.4L1095.3 969.3L1092.8 970.2L1090.3 971.0L1087.8 971.9L1085.3 972.8L1082.8 973.7L1080.3 974.5L1077.8 975.4L1075.3 976.3L1072.8 977.1L1070.3 978.0L1067.8 978.9L1065.3 979.7L1062.8 980.6L1060.3 981.4L1057.8 982.3L1055.3 983.1L1052.8 984.0L1050.3 984.8L1047.8 985.7L1045.3 986.5L1042.8 987.4L1040.3 988.2L1037.8 989.1L1035.3 989.9L1032.8 990.7L1030.3 991.6L1027.8 992.4L1025.3 993.2L1022.8 994.1L1020.3 994.9L1017.8 995.7L1015.3 996.5L1012.8 997.4L1010.3 998.2L1007.8 999.0L1005.3 999.8L1002.8 1000.6L1000.3 1001.4L997.8 1002.3L995.3 1003.1L992.8 1003.9L990.3 1004.7L987.8 1005.5L985.3 1006.3L982.8 1007.1L980.3 1007.9L977.8 1008.7L975.3 1009.5L972.8 1010.2L970.3 1011.0L967.8 1011.8L965.3 1012.6L962.8 1013.4L960.3 1014.2L957.8 1014.9L955.3 1015.7L952.8 1016.5L950.3 1017.2L947.8 1018.0L945.3 1018.8L942.8 1019.5L940.3 1020.3L937.8 1021.1L935.3 1021.8L932.8 1022.6L930.3 1023.3L927.8 1024.1L925.3 1024.8L922.8 1025.6L920.3 1026.3L917.8 1027.0L915.3 1027.8L912.8 1028.5L910.3 1029.2L907.8 1030.0L905.3 1030.7L902.8 1031.4L900.3 1032.1L897.8 1032.9L895.3 1033.6L892.8 1034.3L890.3 1035.0L887.8 1035.7L885.3 1036.4L882.8 1037.1L880.3 1037.8L877.8 1038.5L875.3 1039.2L872.8 1039.9L870.3 1040.6L867.8 1041.3L865.3 1042.0L862.8 1042.6L860.3 1043.3L857.8 1044.0L855.3 1044.7L852.8 1045.3L850.3 1046.0L847.8 1046.7L845.3 1047.3L842.8 1048.0L840.3 1048.7L837.8 1049.3L835.3 1050.0L832.8 1050.6L830.3 1051.3L827.8 1051.9L825.3 1052.5L822.8 1053.2L820.3 1053.8L817.8 1054.4L815.3 1055.1L812.8 1055.7L810.3 1056.3L807.8 1056.9L805.3 1057.5L802.8 1058.2L800.3 1058.8L797.8 1059.4L795.3 1060.0L792.8 1060.6L790.3 1061.2L787.8 1061.8L785.3 1062.4L782.8 1062.9L780.3 1063.5L777.8 1064.1L775.3 1064.7L772.8 1065.3L770.3 1065.8L767.8 1066.4L765.3 1067.0L762.8 1067.5L760.3 1068.1L757.8 1068.7L755.3 1069.2L752.8 1069.8L750.3 1070.3L747.8 1070.8L745.3 1071.4L742.8 1071.9L740.3 1072.4L737.8 1073.0L735.3 1073.5L732.8 1074.0L730.3 1074.5L727.8 1075.1L725.3 1075.6L722.8 1076.1L720.3 1076.6L717.8 1077.1L715.3 1077.6L712.8 1078.1L710.3 1078.6L707.8 1079.1L705.3 1079.5L702.8 1080.0L700.3 1080.5L697.8 1081.0L695.3 1081.4L692.8 1081.9L690.3 1082.4L687.8 1082.8L685.3 1083.3L682.8 1083.7L680.3 1084.2L677.8 1084.6L675.3 1085.1L672.8 1085.5L670.3 1085.9L667.8 1086.4L665.3 1086.8L662.8 1087.2L660.3 1087.6L657.8 1088.0L655.3 1088.5L652.8 1088.9L650.3 1089.3L647.8 1089.7L645.3 1090.1L642.8 1090.4L640.3 1090.8L637.8 1091.2L635.3 1091.6L632.8 1092.0L630.3 1092.3L627.8 1092.7L625.3 1093.1L622.8 1093.4L620.3 1093.8L617.8 1094.1L615.3 1094.5L612.8 1094.8L610.3 1095.2L607.8 1095.5L605.3 1095.8L602.8 1096.2L600.3 1096.5L597.8 1096.8L595.3 1097.1L592.8 1097.4L590.3 1097.7L587.8 1098.0L585.3 1098.3L582.8 1098.6L580.3 1098.9L577.8 1099.2L575.3 1099.5L572.8 1099.8L570.3 1100.0L567.8 1100.3L565.3 1100.6L562.8 1100.8L560.3 1101.1L557.8 1101.3L555.3 1101.6L552.8 1101.8L550.3 1102.1L547.8 1102.3L545.3 1102.5L542.8 1102.8L540.3 1103.0L537.8 1103.2L535.3 1103.4L532.8 1103.6L530.3 1103.8L527.8 1104.0L525.3 1104.2L522.8 1104.4L520.3 1104.6L517.8 1104.8L515.3 1104.9L512.8 1105.1L510.3 1105.3L507.8 1105.4L505.3 1105.6L502.8 1105.8L500.3 1105.9L497.8 1106.0L495.3 1106.2L492.8 1106.3L490.3 1106.5L487.8 1106.6L485.3 1106.7L482.8 1106.8L480.3 1106.9L477.8 1107.0L475.3 1107.1L472.8 1107.2L470.3 1107.3L467.8 1107.4L465.3 1107.5L462.8 1107.6L460.3 1107.6L457.8 1107.7L455.3 1107.8L452.8 1107.8L450.3 1107.9L447.8 1107.9L445.3 1108.0L442.8 1108.0L440.3 1108.1L437.8 1108.1L435.3 1108.1L432.8 1108.1L430.3 1108.1L427.8 1108.1L425.3 1108.1L422.8 1108.1L420.3 1108.1L417.8 1108.1L415.3 1108.1L412.8 1108.1L410.3 1108.1L407.8 1108.0L405.3 1108.0L402.8 1108.0L400.3 1107.9L397.8 1107.9L395.3 1107.8L392.8 1107.7L390.3 1107.7L387.8 1107.6L385.3 1107.5L382.8 1107.4L380.3 1107.3L377.8 1107.3L375.3 1107.2L372.8 1107.1L370.3 1106.9L367.8 1106.8L365.3 1106.7L362.8 1106.6L360.3 1106.4L357.8 1106.3L355.3 1106.2L352.8 1106.0L350.3 1105.9L347.8 1105.7L345.3 1105.6L342.8 1105.4L340.3 1105.2L337.8 1105.0L335.3 1104.8L332.8 1104.7L330.3 1104.5L327.8 1104.3L325.3 1104.0L322.8 1103.8L320.3 1103.6L317.8 1103.4L315.3 1103.2L312.8 1102.9L310.3 1102.7L307.8 1102.4L305.3 1102.2L302.8 1101.9L300.3 1101.7L297.8 1101.4L295.3 1101.1L292.8 1100.8L290.3 1100.6L287.8 1100.3L285.3 1100.0L282.8 1099.7L280.3 1099.4L277.8 1099.0L275.3 1098.7L272.8 1098.4L270.3 1098.1L267.8 1097.7L265.3 1097.4L262.8 1097.0L260.3 1096.7L257.8 1096.3L255.3 1095.9L252.8 1095.6L250.3 1095.2L247.8 1094.8L245.3 1094.4L242.8 1094.0L240.3 1093.6L237.8 1093.2L235.3 1092.8L232.8 1092.4L230.3 1091.9L227.8 1091.5L225.3 1091.1L222.8 1090.6L220.3 1090.2L217.8 1089.7L215.3 1089.2L212.8 1088.8L210.3 1088.3L207.8 1087.8L205.3 1087.3Z" fill="#EDB120"/></g>
<g clip-path="url(#dA)"><path d="M205.3 685.1L207.8 686.2L210.3 687.3L212.8 688.4L215.3 689.4L217.8 690.4L220.3 691.4L222.8 692.4L225.3 693.3L227.8 694.2L230.3 695.1L232.8 696.0L235.3 696.8L237.8 697.6L240.3 698.4L242.8 699.2L245.3 699.9L247.8 700.6L250.3 701.3L252.8 702.0L255.3 702.7L257.8 703.3L260.3 703.9L262.8 704.5L265.3 705.1L267.8 705.6L270.3 706.1L272.8 706.6L275.3 707.1L277.8 707.6L280.3 708.0L282.8 708.5L285.3 708.9L287.8 709.3L290.3 709.6L292.8 710.0L295.3 710.3L297.8 710.6L300.3 710.9L302.8 711.2L305.3 711.5L307.8 711.7L310.3 712.0L312.8 712.2L315.3 712.4L317.8 712.5L320.3 712.7L322.8 712.9L325.3 713.0L327.8 713.1L330.3 713.2L332.8 713.3L335.3 713.4L337.8 713.4L340.3 713.5L342.8 713.5L345.3 713.5L347.8 713.6L350.3 713.5L352.8 713.5L355.3 713.5L357.8 713.5L360.3 713.4L362.8 713.3L365.3 713.3L367.8 713.2L370.3 713.1L372.8 713.0L375.3 712.9L377.8 712.7L380.3 712.6L382.8 712.4L385.3 712.3L387.8 712.1L390.3 711.9L392.8 711.8L395.3 711.6L397.8 711.4L400.3 711.2L402.8 710.9L405.3 710.7L407.8 710.5L410.3 710.2L412.8 710.0L415.3 709.8L417.8 709.5L420.3 709.2L422.8 709.0L425.3 708.7L427.8 708.4L430.3 708.1L432.8 707.8L435.3 707.5L437.8 707.2L440.3 706.9L442.8 706.6L445.3 706.3L447.8 706.0L450.3 705.6L452.8 705.3L455.3 705.0L457.8 704.6L460.3 704.3L462.8 703.9L465.3 703.6L467.8 703.2L470.3 702.8L472.8 702.5L475.3 702.1L477.8 701.7L480.3 701.3L482.8 700.9L485.3 700.5L487.8 700.1L490.3 699.7L492.8 699.3L495.3 698.9L497.8 698.5L500.3 698.1L502.8 697.7L505.3 697.2L507.8 696.8L510.3 696.4L512.8 695.9L515.3 695.5L517.8 695.1L520.3 694.6L522.8 694.2L525.3 693.7L527.8 693.2L530.3 692.8L532.8 692.3L535.3 691.9L537.8 691.4L540.3 690.9L542.8 690.5L545.3 690.0L547.8 689.5L550.3 689.0L552.8 688.5L555.3 688.1L557.8 687.6L560.3 687.1L562.8 686.6L565.3 686.1L567.8 685.6L570.3 685.1L572.8 684.6L575.3 684.1L577.8 683.6L580.3 683.1L582.8 682.6L585.3 682.1L587.8 681.6L590.3 681.1L592.8 680.6L595.3 680.0L597.8 679.5L600.3 679.0L602.8 678.5L605.3 678.0L607.8 677.5L610.3 676.9L612.8 676.4L615.3 675.9L617.8 675.4L620.3 674.9L622.8 674.4L625.3 673.8L627.8 673.3L630.3 672.8L632.8 672.3L635.3 671.7L637.8 671.2L640.3 670.7L642.8 670.2L645.3 669.6L647.8 669.1L650.3 668.6L652.8 668.0L655.3 667.5L657.8 667.0L660.3 666.4L662.8 665.9L665.3 665.4L667.8 664.8L670.3 664.3L672.8 663.8L675.3 663.2L677.8 662.7L680.3 662.1L682.8 661.6L685.3 661.0L687.8 660.5L690.3 660.0L692.8 659.4L695.3 658.8L697.8 658.3L700.3 657.7L702.8 657.2L705.3 656.6L707.8 656.1L710.3 655.5L712.8 655.0L715.3 654.4L717.8 653.8L720.3 653.3L722.8 652.7L725.3 652.1L727.8 651.6L730.3 651.0L732.8 650.4L735.3 649.8L737.8 649.2L740.3 648.7L742.8 648.1L745.3 647.5L747.8 646.9L750.3 646.3L752.8 645.7L755.3 645.1L757.8 644.5L760.3 644.0L762.8 643.4L765.3 642.8L767.8 642.2L770.3 641.5L772.8 640.9L775.3 640.3L777.8 639.7L780.3 639.1L782.8 638.5L785.3 637.9L787.8 637.2L790.3 636.6L792.8 636.0L795.3 635.4L797.8 634.7L800.3 634.1L802.8 633.5L805.3 632.8L807.8 632.2L810.3 631.6L812.8 630.9L815.3 630.3L817.8 629.6L820.3 629.0L822.8 628.3L825.3 627.6L827.8 627.0L830.3 626.3L832.8 625.6L835.3 625.0L837.8 624.3L840.3 623.6L842.8 622.9L845.3 622.3L847.8 621.6L850.3 620.9L852.8 620.2L855.3 619.5L857.8 618.8L860.3 618.1L862.8 617.4L865.3 616.7L867.8 616.0L870.3 615.3L872.8 614.5L875.3 613.8L877.8 613.1L880.3 612.4L882.8 611.6L885.3 610.9L887.8 610.2L890.3 609.4L892.8 608.7L895.3 607.9L897.8 607.2L900.3 606.4L902.8 605.7L905.3 604.9L907.8 604.2L910.3 603.4L912.8 602.6L915.3 601.8L917.8 601.1L920.3 600.3L922.8 599.5L925.3 598.7L927.8 597.9L930.3 597.1L932.8 596.3L935.3 595.5L937.8 594.7L940.3 593.9L942.8 593.0L945.3 592.2L947.8 591.4L950.3 590.6L952.8 589.7L955.3 588.9L957.8 588.0L960.3 587.2L962.8 586.3L965.3 585.5L967.8 584.6L970.3 583.8L972.8 582.9L975.3 582.0L977.8 581.2L980.3 580.3L982.8 579.4L985.3 578.5L987.8 577.6L990.3 576.7L992.8 575.8L995.3 574.9L997.8 574.0L1000.3 573.1L1002.8 572.1L1005.3 571.2L1007.8 570.3L1010.3 569.3L1012.8 568.4L1015.3 567.5L1017.8 566.5L1020.3 565.5L1022.8 564.6L1025.3 563.6L1027.8 562.7L1030.3 561.7L1032.8 560.7L1035.3 559.7L1037.8 558.7L1040.3 557.7L1042.8 556.7L1045.3 555.7L1047.8 554.7L1050.3 553.7L1052.8 552.7L1055.3 551.7L1057.8 550.6L1060.3 549.6L1062.8 548.5L1065.3 547.5L1067.8 546.5L1070.3 545.4L1072.8 544.3L1075.3 543.3L1077.8 542.2L1080.3 541.1L1082.8 540.0L1085.3 538.9L1087.8 537.8L1090.3 536.7L1092.8 535.6L1095.3 534.5L1097.8 533.4L1100.3 532.3L1102.8 531.2L1105.3 530.0L1107.8 528.9L1110.3 527.7L1112.8 526.6L1115.3 525.4L1117.8 524.3L1120.3 523.1L1122.8 521.9L1125.3 520.7L1127.8 519.6L1130.3 518.4L1132.8 517.2L1135.3 516.0L1137.8 514.8L1140.3 513.6L1142.8 512.3L1145.3 511.1L1147.8 509.9L1150.3 508.6L1152.8 507.4L1155.3 506.2L1157.8 504.9L1160.3 503.7L1162.8 502.4L1165.3 501.1L1167.8 499.9L1170.3 498.6L1172.8 497.3L1175.3 496.0L1177.8 494.7L1180.3 493.4L1182.8 492.1L1185.3 490.8L1187.8 489.5L1190.3 488.2L1192.8 486.8L1195.3 485.5L1197.8 484.2L1200.3 482.8L1202.8 481.5L1205.3 480.1L1207.8 478.8L1210.3 477.4L1212.8 476.1L1215.3 474.7L1217.8 473.3L1220.3 471.9L1222.8 470.6L1225.3 469.2L1227.8 467.8L1230.3 466.4L1232.8 465.0L1235.3 463.6L1237.8 462.2L1240.3 460.7L1242.8 459.3L1245.3 457.9L1247.8 456.5L1250.3 455.0L1252.8 453.6L1255.3 452.1L1257.8 450.7L1260.3 449.2L1262.8 447.8L1265.3 446.3L1267.8 444.8L1270.3 443.4L1272.8 441.9L1275.3 440.4L1277.8 438.9L1280.3 437.4L1282.8 435.9L1285.3 434.4L1287.8 432.9L1290.3 431.4L1292.8 429.9L1295.3 428.4L1297.8 426.9L1300.3 425.3L1302.8 423.8L1305.3 422.3L1307.8 420.7L1310.3 419.2L1312.8 417.6L1315.3 416.1L1317.8 414.5L1320.3 413.0L1322.8 411.4L1325.3 409.8L1327.8 408.3L1330.3 406.7L1332.8 405.1L1335.3 403.5L1337.8 401.9L1340.3 400.3L1342.8 398.7L1345.3 397.1L1347.8 395.5L1350.3 393.9L1352.8 392.3L1355.3 390.7L1357.8 389.1L1360.3 387.5L1362.8 385.8L1365.3 384.2L1367.8 382.6L1370.3 380.9L1372.8 379.3L1375.3 377.6L1377.8 376.0L1380.3 374.3L1382.8 372.7L1385.3 371.0L1387.8 369.4L1390.3 367.7L1392.8 366.0L1395.3 364.3L1397.8 362.7L1400.3 361.0L1402.8 359.3L1405.3 357.6L1407.8 355.9L1410.3 354.2L1412.8 352.5L1415.3 350.8L1417.8 349.1L1420.3 347.4L1422.8 345.7L1425.3 344.0L1427.8 342.2L1430.3 340.5L1432.8 338.8L1435.3 337.1L1437.8 335.3L1440.3 333.6L1442.8 331.9L1445.3 330.1L1447.8 328.4L1450.3 326.6L1452.8 324.9L1455.3 323.1L1457.8 321.4L1460.3 319.6L1462.8 317.8L1465.3 316.1L1467.8 314.3L1470.3 312.5L1472.8 310.7L1475.3 309.0L1477.8 307.2L1480.3 305.4L1482.8 303.6L1485.3 301.8L1487.8 300.0L1490.3 298.2L1492.8 296.4L1495.3 294.6L1497.8 292.8L1500.3 291.0L1502.8 289.2L1505.3 287.4L1507.8 285.6L1510.3 283.8L1512.8 281.9L1515.3 280.1L1517.8 278.3L1520.3 276.5L1522.8 274.6L1525.3 272.8L1527.8 271.0L1530.3 269.1L1532.8 267.3L1535.3 265.4L1537.8 263.6L1540.3 261.7L1542.8 259.9L1545.3 258.0L1547.8 256.2L1550.3 254.3L1552.8 252.5L1555.3 250.6L1557.8 248.7L1560.3 246.9L1562.8 245.0L1565.3 243.1L1567.8 241.2L1570.3 239.4L1572.8 237.5L1575.3 235.6L1577.8 233.7L1580.3 231.8L1582.8 229.9L1585.3 228.1L1587.8 226.2L1590.3 224.3L1592.8 222.4L1595.3 220.5L1597.8 218.6L1600.3 216.7L1602.8 214.8L1605.3 212.9L1607.8 211.0L1610.3 209.0L1612.8 207.1L1615.3 205.2L1617.8 203.3L1620.3 201.4L1622.8 199.5L1625.3 197.5L1627.8 195.6L1630.3 193.7L1632.8 191.8L1635.3 189.8L1637.8 187.9L1640.3 186.0L1642.8 184.1L1645.3 182.1L1647.8 180.2L1650.3 178.2L1652.8 176.3L1655.3 174.4L1657.8 172.4L1660.3 170.5L1662.8 168.5L1665.3 166.6L1667.8 164.6L1670.3 162.7L1672.8 160.7L1675.3 158.8L1677.8 156.8L1680.3 154.9L1682.8 152.9L1685.3 151.0L1687.8 149.0L1690.3 147.0L1692.8 145.1L1695.3 143.1L1697.8 141.1L1700.3 139.2L1702.8 137.2L1705.3 135.2L1707.8 133.3L1710.3 131.3L1712.8 129.3L1715.3 127.4L1717.8 125.4L1720.3 123.4L1722.8 121.4L1725.3 119.4L1727.8 117.5L1730.3 115.5L1732.8 113.5L1735.3 111.5L1737.8 109.5L1740.3 107.6L1742.8 105.6L1745.3 103.6L1747.8 101.6L1750.3 99.6L1752.8 97.6L1755.3 95.6L1757.8 93.7L1760.3 91.7L1762.8 89.7L1765.3 87.7L1767.8 85.7L1770.3 83.7L1772.8 81.7L1775.3 79.7L1777.8 77.7L1780.3 75.7L1782.8 73.7L1785.3 71.7L1787.8 69.7L1790.3 67.7L1792.8 65.7L1795.3 63.7L1797.8 61.7L1800.3 59.7L1802.8 57.7L1805.3 55.7L1805.6 55.5L1805.6 61.5L1805.3 61.7L1802.8 63.7L1800.3 65.7L1797.8 67.7L1795.3 69.7L1792.8 71.7L1790.3 73.7L1787.8 75.7L1785.3 77.7L1782.8 79.7L1780.3 81.7L1777.8 83.7L1775.3 85.7L1772.8 87.7L1770.3 89.7L1767.8 91.7L1765.3 93.7L1762.8 95.7L1760.3 97.7L1757.8 99.7L1755.3 101.6L1752.8 103.6L1750.3 105.6L1747.8 107.6L1745.3 109.6L1742.8 111.6L1740.3 113.6L1737.8 115.5L1735.3 117.5L1732.8 119.5L1730.3 121.5L1727.8 123.5L1725.3 125.4L1722.8 127.4L1720.3 129.4L1717.8 131.4L1715.3 133.4L1712.8 135.3L1710.3 137.3L1707.8 139.3L1705.3 141.2L1702.8 143.2L1700.3 145.2L1697.8 147.1L1695.3 149.1L1692.8 151.1L1690.3 153.0L1687.8 155.0L1685.3 157.0L1682.8 158.9L1680.3 160.9L1677.8 162.8L1675.3 164.8L1672.8 166.7L1670.3 168.7L1667.8 170.6L1665.3 172.6L1662.8 174.5L1660.3 176.5L1657.8 178.4L1655.3 180.4L1652.8 182.3L1650.3 184.2L1647.8 186.2L1645.3 188.1L1642.8 190.1L1640.3 192.0L1637.8 193.9L1635.3 195.8L1632.8 197.8L1630.3 199.7L1627.8 201.6L1625.3 203.5L1622.8 205.5L1620.3 207.4L1617.8 209.3L1615.3 211.2L1612.8 213.1L1610.3 215.0L1607.8 217.0L1605.3 218.9L1602.8 220.8L1600.3 222.7L1597.8 224.6L1595.3 226.5L1592.8 228.4L1590.3 230.3L1587.8 232.2L1585.3 234.1L1582.8 235.9L1580.3 237.8L1577.8 239.7L1575.3 241.6L1572.8 243.5L1570.3 245.4L1567.8 247.2L1565.3 249.1L1562.8 251.0L1560.3 252.9L1557.8 254.7L1555.3 256.6L1552.8 258.5L1550.3 260.3L1547.8 262.2L1545.3 264.0L1542.8 265.9L1540.3 267.7L1537.8 269.6L1535.3 271.4L1532.8 273.3L1530.3 275.1L1527.8 277.0L1525.3 278.8L1522.8 280.6L1520.3 282.5L1517.8 284.3L1515.3 286.1L1512.8 287.9L1510.3 289.8L1507.8 291.6L1505.3 293.4L1502.8 295.2L1500.3 297.0L1497.8 298.8L1495.3 300.6L1492.8 302.4L1490.3 304.2L1487.8 306.0L1485.3 307.8L1482.8 309.6L1480.3 311.4L1477.8 313.2L1475.3 315.0L1472.8 316.7L1470.3 318.5L1467.8 320.3L1465.3 322.1L1462.8 323.8L1460.3 325.6L1457.8 327.4L1455.3 329.1L1452.8 330.9L1450.3 332.6L1447.8 334.4L1445.3 336.1L1442.8 337.9L1440.3 339.6L1437.8 341.3L1435.3 343.1L1432.8 344.8L1430.3 346.5L1427.8 348.2L1425.3 350.0L1422.8 351.7L1420.3 353.4L1417.8 355.1L1415.3 356.8L1412.8 358.5L1410.3 360.2L1407.8 361.9L1405.3 363.6L1402.8 365.3L1400.3 367.0L1397.8 368.7L1395.3 370.3L1392.8 372.0L1390.3 373.7L1387.8 375.4L1385.3 377.0L1382.8 378.7L1380.3 380.3L1377.8 382.0L1375.3 383.6L1372.8 385.3L1370.3 386.9L1367.8 388.6L1365.3 390.2L1362.8 391.8L1360.3 393.5L1357.8 395.1L1355.3 396.7L1352.8 398.3L1350.3 399.9L1347.8 401.5L1345.3 403.1L1342.8 404.7L1340.3 406.3L1337.8 407.9L1335.3 409.5L1332.8 411.1L1330.3 412.7L1327.8 414.3L1325.3 415.8L1322.8 417.4L1320.3 419.0L1317.8 420.5L1315.3 422.1L1312.8 423.6L1310.3 425.2L1307.8 426.7L1305.3 428.3L1302.8 429.8L1300.3 431.3L1297.8 432.9L1295.3 434.4L1292.8 435.9L1290.3 437.4L1287.8 438.9L1285.3 440.4L1282.8 441.9L1280.3 443.4L1277.8 444.9L1275.3 446.4L1272.8 447.9L1270.3 449.4L1267.8 450.8L1265.3 452.3L1262.8 453.8L1260.3 455.2L1257.8 456.7L1255.3 458.1L1252.8 459.6L1250.3 461.0L1247.8 462.5L1245.3 463.9L1242.8 465.3L1240.3 466.7L1237.8 468.2L1235.3 469.6L1232.8 471.0L1230.3 472.4L1227.8 473.8L1225.3 475.2L1222.8 476.6L1220.3 477.9L1217.8 479.3L1215.3 480.7L1212.8 482.1L1210.3 483.4L1207.8 484.8L1205.3 486.1L1202.8 487.5L1200.3 488.8L1197.8 490.2L1195.3 491.5L1192.8 492.8L1190.3 494.2L1187.8 495.5L1185.3 496.8L1182.8 498.1L1180.3 499.4L1177.8 500.7L1175.3 502.0L1172.8 503.3L1170.3 504.6L1167.8 505.9L1165.3 507.1L1162.8 508.4L1160.3 509.7L1157.8 510.9L1155.3 512.2L1152.8 513.4L1150.3 514.6L1147.8 515.9L1145.3 517.1L1142.8 518.3L1140.3 519.6L1137.8 520.8L1135.3 522.0L1132.8 523.2L1130.3 524.4L1127.8 525.6L1125.3 526.7L1122.8 527.9L1120.3 529.1L1117.8 530.3L1115.3 531.4L1112.8 532.6L1110.3 533.7L1107.8 534.9L1105.3 536.0L1102.8 537.2L1100.3 538.3L1097.8 539.4L1095.3 540.5L1092.8 541.6L1090.3 542.7L1087.8 543.8L1085.3 544.9L1082.8 546.0L1080.3 547.1L1077.8 548.2L1075.3 549.3L1072.8 550.3L1070.3 551.4L1067.8 552.5L1065.3 553.5L1062.8 554.5L1060.3 555.6L1057.8 556.6L1055.3 557.7L1052.8 558.7L1050.3 559.7L1047.8 560.7L1045.3 561.7L1042.8 562.7L1040.3 563.7L1037.8 564.7L1035.3 565.7L1032.8 566.7L1030.3 567.7L1027.8 568.7L1025.3 569.6L1022.8 570.6L1020.3 571.5L1017.8 572.5L1015.3 573.5L1012.8 574.4L1010.3 575.3L1007.8 576.3L1005.3 577.2L1002.8 578.1L1000.3 579.1L997.8 580.0L995.3 580.9L992.8 581.8L990.3 582.7L987.8 583.6L985.3 584.5L982.8 585.4L980.3 586.3L977.8 587.2L975.3 588.0L972.8 588.9L970.3 589.8L967.8 590.6L965.3 591.5L962.8 592.3L960.3 593.2L957.8 594.0L955.3 594.9L952.8 595.7L950.3 596.6L947.8 597.4L945.3 598.2L942.8 599.0L940.3 599.9L937.8 600.7L935.3 601.5L932.8 602.3L930.3 603.1L927.8 603.9L925.3 604.7L922.8 605.5L920.3 606.3L917.8 607.1L915.3 607.8L912.8 608.6L910.3 609.4L907.8 610.2L905.3 610.9L902.8 611.7L900.3 612.4L897.8 613.2L895.3 613.9L892.8 614.7L890.3 615.4L887.8 616.2L885.3 616.9L882.8 617.6L880.3 618.4L877.8 619.1L875.3 619.8L872.8 620.5L870.3 621.3L867.8 622.0L865.3 622.7L862.8 623.4L860.3 624.1L857.8 624.8L855.3 625.5L852.8 626.2L850.3 626.9L847.8 627.6L845.3 628.3L842.8 628.9L840.3 629.6L837.8 630.3L835.3 631.0L832.8 631.6L830.3 632.3L827.8 633.0L825.3 633.6L822.8 634.3L820.3 635.0L817.8 635.6L815.3 636.3L812.8 636.9L810.3 637.6L807.8 638.2L805.3 638.8L802.8 639.5L800.3 640.1L797.8 640.7L795.3 641.4L792.8 642.0L790.3 642.6L787.8 643.2L785.3 643.9L782.8 644.5L780.3 645.1L777.8 645.7L775.3 646.3L772.8 646.9L770.3 647.5L767.8 648.2L765.3 648.8L762.8 649.4L760.3 650.0L757.8 650.5L755.3 651.1L752.8 651.7L750.3 652.3L747.8 652.9L745.3 653.5L742.8 654.1L740.3 654.7L737.8 655.2L735.3 655.8L732.8 656.4L730.3 657.0L727.8 657.6L725.3 658.1L722.8 658.7L720.3 659.3L717.8 659.8L715.3 660.4L712.8 661.0L710.3 661.5L707.8 662.1L705.3 662.6L702.8 663.2L700.3 663.7L697.8 664.3L695.3 664.8L692.8 665.4L690.3 666.0L687.8 666.5L685.3 667.0L682.8 667.6L680.3 668.1L677.8 668.7L675.3 669.2L672.8 669.8L670.3 670.3L667.8 670.8L665.3 671.4L662.8 671.9L660.3 672.4L657.8 673.0L655.3 673.5L652.8 674.0L650.3 674.6L647.8 675.1L645.3 675.6L642.8 676.2L640.3 676.7L637.8 677.2L635.3 677.7L632.8 678.3L630.3 678.8L627.8 679.3L625.3 679.8L622.8 680.4L620.3 680.9L617.8 681.4L615.3 681.9L612.8 682.4L610.3 682.9L607.8 683.5L605.3 684.0L602.8 684.5L600.3 685.0L597.8 685.5L595.3 686.0L592.8 686.6L590.3 687.1L587.8 687.6L585.3 688.1L582.8 688.6L580.3 689.1L577.8 689.6L575.3 690.1L572.8 690.6L570.3 691.1L567.8 691.6L565.3 692.1L562.8 692.6L560.3 693.1L557.8 693.6L555.3 694.1L552.8 694.5L550.3 695.0L547.8 695.5L545.3 696.0L542.8 696.5L540.3 696.9L537.8 697.4L535.3 697.9L532.8 698.3L530.3 698.8L527.8 699.2L525.3 699.7L522.8 700.2L520.3 700.6L517.8 701.1L515.3 701.5L512.8 701.9L510.3 702.4L507.8 702.8L505.3 703.2L502.8 703.7L500.3 704.1L497.8 704.5L495.3 704.9L492.8 705.3L490.3 705.7L487.8 706.1L485.3 706.5L482.8 706.9L480.3 707.3L477.8 707.7L475.3 708.1L472.8 708.5L470.3 708.8L467.8 709.2L465.3 709.6L462.8 709.9L460.3 710.3L457.8 710.6L455.3 711.0L452.8 711.3L450.3 711.6L447.8 712.0L445.3 712.3L442.8 712.6L440.3 712.9L437.8 713.2L435.3 713.5L432.8 713.8L430.3 714.1L427.8 714.4L425.3 714.7L422.8 715.0L420.3 715.2L417.8 715.5L415.3 715.8L412.8 716.0L410.3 716.2L407.8 716.5L405.3 716.7L402.8 716.9L400.3 717.2L397.8 717.4L395.3 717.6L392.8 717.8L390.3 717.9L387.8 718.1L385.3 718.3L382.8 718.4L380.3 718.6L377.8 718.7L375.3 718.9L372.8 719.0L370.3 719.1L367.8 719.2L365.3 719.3L362.8 719.3L360.3 719.4L357.8 719.5L355.3 719.5L352.8 719.5L350.3 719.5L347.8 719.6L345.3 719.5L342.8 719.5L340.3 719.5L337.8 719.4L335.3 719.4L332.8 719.3L330.3 719.2L327.8 719.1L325.3 719.0L322.8 718.9L320.3 718.7L317.8 718.5L315.3 718.4L312.8 718.2L310.3 718.0L307.8 717.7L305.3 717.5L302.8 717.2L300.3 716.9L297.8 716.6L295.3 716.3L292.8 716.0L290.3 715.6L287.8 715.3L285.3 714.9L282.8 714.5L280.3 714.0L277.8 713.6L275.3 713.1L272.8 712.6L270.3 712.1L267.8 711.6L265.3 711.1L262.8 710.5L260.3 709.9L257.8 709.3L255.3 708.7L252.8 708.0L250.3 707.3L247.8 706.6L245.3 705.9L242.8 705.2L240.3 704.4L237.8 703.6L235.3 702.8L232.8 702.0L230.3 701.1L227.8 700.2L225.3 699.3L222.8 698.4L220.3 697.4L217.8 696.4L215.3 695.4L212.8 694.4L210.3 693.3L207.8 692.2L205.3 691.1Z" fill="#4DBEEE"/></g>
<g clip-path="url(#dG)"><path d="M680.0 55.5L680.3 55.8L682.8 58.3L685.3 60.7L687.8 63.2L690.3 65.6L692.8 68.1L695.3 70.5L697.8 72.9L700.3 75.4L702.8 77.8L705.3 80.2L707.8 82.6L710.3 85.0L712.8 87.4L715.3 89.8L717.8 92.3L720.3 94.6L722.8 97.0L725.3 99.4L727.8 101.8L730.3 104.2L732.8 106.6L735.3 108.9L737.8 111.3L740.3 113.7L742.8 116.0L745.3 118.4L747.8 120.7L750.3 123.1L752.8 125.4L755.3 127.7L757.8 130.1L760.3 132.4L762.8 134.7L765.3 137.0L767.8 139.4L770.3 141.7L772.8 144.0L775.3 146.3L777.8 148.6L780.3 150.9L782.8 153.2L785.3 155.4L787.8 157.7L790.3 160.0L792.8 162.2L795.3 164.5L797.8 166.8L800.3 169.0L802.8 171.3L805.3 173.5L807.8 175.8L810.3 178.0L812.8 180.2L815.3 182.4L817.8 184.7L820.3 186.9L822.8 189.1L825.3 191.3L827.8 193.5L830.3 195.7L832.8 197.9L835.3 200.1L837.8 202.2L840.3 204.4L842.8 206.6L845.3 208.7L847.8 210.9L850.3 213.1L852.8 215.2L855.3 217.4L857.8 219.5L860.3 221.6L862.8 223.8L865.3 225.9L867.8 228.0L870.3 230.1L872.8 232.2L875.3 234.3L877.8 236.4L880.3 238.5L882.8 240.6L885.3 242.7L887.8 244.8L890.3 246.8L892.8 248.9L895.3 250.9L897.8 253.0L900.3 255.0L902.8 257.1L905.3 259.1L907.8 261.2L910.3 263.2L912.8 265.2L915.3 267.2L917.8 269.2L920.3 271.2L922.8 273.2L925.3 275.2L927.8 277.2L930.3 279.2L932.8 281.2L935.3 283.1L937.8 285.1L940.3 287.1L942.8 289.0L945.3 291.0L947.8 292.9L950.3 294.8L952.8 296.8L955.3 298.7L957.8 300.6L960.3 302.5L962.8 304.4L965.3 306.3L967.8 308.2L970.3 310.1L972.8 312.0L975.3 313.9L977.8 315.7L980.3 317.6L982.8 319.4L985.3 321.3L987.8 323.1L990.3 325.0L992.8 326.8L995.3 328.6L997.8 330.5L1000.3 332.3L1002.8 334.1L1005.3 335.9L1007.8 337.7L1010.3 339.5L1012.8 341.2L1015.3 343.0L1017.8 344.8L1020.3 346.6L1022.8 348.3L1025.3 350.1L1027.8 351.8L1030.3 353.5L1032.8 355.3L1035.3 357.0L1037.8 358.7L1040.3 360.4L1042.8 362.1L1045.3 363.8L1047.8 365.5L1050.3 367.2L1052.8 368.9L1055.3 370.6L1057.8 372.2L1060.3 373.9L1062.8 375.5L1065.3 377.2L1067.8 378.8L1070.3 380.5L1072.8 382.1L1075.3 383.7L1077.8 385.3L1080.3 386.9L1082.8 388.5L1085.3 390.1L1087.8 391.7L1090.3 393.3L1092.8 394.8L1095.3 396.4L1097.8 397.9L1100.3 399.5L1102.8 401.0L1105.3 402.5L1107.8 404.1L1110.3 405.6L1112.8 407.1L1115.3 408.6L1117.8 410.1L1120.3 411.6L1122.8 413.0L1125.3 414.5L1127.8 415.9L1130.3 417.4L1132.8 418.8L1135.3 420.3L1137.8 421.7L1140.3 423.1L1142.8 424.5L1145.3 425.9L1147.8 427.3L1150.3 428.7L1152.8 430.0L1155.3 431.4L1157.8 432.8L1160.3 434.1L1162.8 435.4L1165.3 436.8L1167.8 438.1L1170.3 439.4L1172.8 440.7L1175.3 442.0L1177.8 443.3L1180.3 444.5L1182.8 445.8L1185.3 447.0L1187.8 448.3L1190.3 449.5L1192.8 450.7L1195.3 452.0L1197.8 453.2L1200.3 454.3L1202.8 455.5L1205.3 456.7L1207.8 457.9L1210.3 459.0L1212.8 460.2L1215.3 461.3L1217.8 462.4L1220.3 463.5L1222.8 464.6L1225.3 465.7L1227.8 466.8L1230.3 467.9L1232.8 468.9L1235.3 470.0L1237.8 471.0L1240.3 472.0L1242.8 473.1L1245.3 474.1L1247.8 475.1L1250.3 476.0L1252.8 477.0L1255.3 478.0L1257.8 478.9L1260.3 479.9L1262.8 480.8L1265.3 481.7L1267.8 482.6L1270.3 483.5L1272.8 484.4L1275.3 485.3L1277.8 486.1L1280.3 487.0L1282.8 487.8L1285.3 488.6L1287.8 489.4L1290.3 490.2L1292.8 491.0L1295.3 491.8L1297.8 492.6L1300.3 493.3L1302.8 494.1L1305.3 494.8L1307.8 495.5L1310.3 496.2L1312.8 496.9L1315.3 497.6L1317.8 498.3L1320.3 498.9L1322.8 499.6L1325.3 500.2L1327.8 500.8L1330.3 501.4L1332.8 502.0L1335.3 502.6L1337.8 503.2L1340.3 503.8L1342.8 504.3L1345.3 504.9L1347.8 505.4L1350.3 505.9L1352.8 506.4L1355.3 506.9L1357.8 507.4L1360.3 507.9L1362.8 508.3L1365.3 508.8L1367.8 509.2L1370.3 509.7L1372.8 510.1L1375.3 510.5L1377.8 510.9L1380.3 511.2L1382.8 511.6L1385.3 512.0L1387.8 512.3L1390.3 512.6L1392.8 513.0L1395.3 513.3L1397.8 513.6L1400.3 513.9L1402.8 514.1L1405.3 514.4L1407.8 514.6L1410.3 514.9L1412.8 515.1L1415.3 515.3L1417.8 515.5L1420.3 515.7L1422.8 515.9L1425.3 516.1L1427.8 516.2L1430.3 516.4L1432.8 516.5L1435.3 516.7L1437.8 516.8L1440.3 516.9L1442.8 517.0L1445.3 517.0L1447.8 517.1L1450.3 517.2L1452.8 517.2L1455.3 517.2L1457.8 517.3L1460.3 517.3L1462.8 517.3L1465.3 517.3L1467.8 517.2L1470.3 517.2L1472.8 517.1L1475.3 517.1L1477.8 517.0L1480.3 516.9L1482.8 516.8L1485.3 516.7L1487.8 516.6L1490.3 516.5L1492.8 516.4L1495.3 516.2L1497.8 516.1L1500.3 515.9L1502.8 515.7L1505.3 515.5L1507.8 515.3L1510.3 515.1L1512.8 514.8L1515.3 514.6L1517.8 514.4L1520.3 514.1L1522.8 513.8L1525.3 513.5L1527.8 513.2L1530.3 512.9L1532.8 512.6L1535.3 512.3L1537.8 511.9L1540.3 511.6L1542.8 511.2L1545.3 510.8L1547.8 510.5L1550.3 510.1L1552.8 509.6L1555.3 509.2L1557.8 508.8L1560.3 508.3L1562.8 507.9L1565.3 507.4L1567.8 506.9L1570.3 506.5L1572.8 506.0L1575.3 505.4L1577.8 504.9L1580.3 504.4L1582.8 503.8L1585.3 503.3L1587.8 502.7L1590.3 502.1L1592.8 501.6L1595.3 501.0L1597.8 500.3L1600.3 499.7L1602.8 499.1L1605.3 498.4L1607.8 497.8L1610.3 497.1L1612.8 496.4L1615.3 495.7L1617.8 495.0L1620.3 494.3L1622.8 493.6L1625.3 492.9L1627.8 492.1L1630.3 491.4L1632.8 490.6L1635.3 489.8L1637.8 489.0L1640.3 488.2L1642.8 487.4L1645.3 486.6L1647.8 485.8L1650.3 484.9L1652.8 484.1L1655.3 483.2L1657.8 482.3L1660.3 481.4L1662.8 480.5L1665.3 479.6L1667.8 478.7L1670.3 477.8L1672.8 476.8L1675.3 475.9L1677.8 474.9L1680.3 473.9L1682.8 472.9L1685.3 471.9L1687.8 470.9L1690.3 469.9L1692.8 468.9L1695.3 467.8L1697.8 466.8L1700.3 465.7L1702.8 464.6L1705.3 463.5L1707.8 462.4L1710.3 461.3L1712.8 460.2L1715.3 459.1L1717.8 457.9L1720.3 456.8L1722.8 455.6L1725.3 454.4L1727.8 453.2L1730.3 452.1L1732.8 450.8L1735.3 449.6L1737.8 448.4L1740.3 447.2L1742.8 445.9L1745.3 444.6L1747.8 443.4L1750.3 442.1L1752.8 440.8L1755.3 439.5L1757.8 438.2L1760.3 436.8L1762.8 435.5L1765.3 434.1L1767.8 432.8L1770.3 431.4L1772.8 430.0L1775.3 428.6L1777.8 427.2L1780.3 425.8L1782.8 424.4L1785.3 423.0L1787.8 421.5L1790.3 420.1L1792.8 418.6L1795.3 417.1L1797.8 415.6L1800.3 414.1L1802.8 412.6L1805.3 411.1L1807.8 409.6L1810.3 408.0L1812.8 406.5L1814.9 405.1L1814.9 411.1L1812.8 412.5L1810.3 414.0L1807.8 415.6L1805.3 417.1L1802.8 418.6L1800.3 420.1L1797.8 421.6L1795.3 423.1L1792.8 424.6L1790.3 426.1L1787.8 427.5L1785.3 429.0L1782.8 430.4L1780.3 431.8L1777.8 433.2L1775.3 434.6L1772.8 436.0L1770.3 437.4L1767.8 438.8L1765.3 440.1L1762.8 441.5L1760.3 442.8L1757.8 444.2L1755.3 445.5L1752.8 446.8L1750.3 448.1L1747.8 449.4L1745.3 450.6L1742.8 451.9L1740.3 453.2L1737.8 454.4L1735.3 455.6L1732.8 456.8L1730.3 458.1L1727.8 459.2L1725.3 460.4L1722.8 461.6L1720.3 462.8L1717.8 463.9L1715.3 465.1L1712.8 466.2L1710.3 467.3L1707.8 468.4L1705.3 469.5L1702.8 470.6L1700.3 471.7L1697.8 472.8L1695.3 473.8L1692.8 474.9L1690.3 475.9L1687.8 476.9L1685.3 477.9L1682.8 478.9L1680.3 479.9L1677.8 480.9L1675.3 481.9L1672.8 482.8L1670.3 483.8L1667.8 484.7L1665.3 485.6L1662.8 486.5L1660.3 487.4L1657.8 488.3L1655.3 489.2L1652.8 490.1L1650.3 490.9L1647.8 491.8L1645.3 492.6L1642.8 493.4L1640.3 494.2L1637.8 495.0L1635.3 495.8L1632.8 496.6L1630.3 497.4L1627.8 498.1L1625.3 498.9L1622.8 499.6L1620.3 500.3L1617.8 501.0L1615.3 501.7L1612.8 502.4L1610.3 503.1L1607.8 503.8L1605.3 504.4L1602.8 505.1L1600.3 505.7L1597.8 506.3L1595.3 507.0L1592.8 507.6L1590.3 508.1L1587.8 508.7L1585.3 509.3L1582.8 509.8L1580.3 510.4L1577.8 510.9L1575.3 511.4L1572.8 512.0L1570.3 512.5L1567.8 512.9L1565.3 513.4L1562.8 513.9L1560.3 514.3L1557.8 514.8L1555.3 515.2L1552.8 515.6L1550.3 516.1L1547.8 516.5L1545.3 516.8L1542.8 517.2L1540.3 517.6L1537.8 517.9L1535.3 518.3L1532.8 518.6L1530.3 518.9L1527.8 519.2L1525.3 519.5L1522.8 519.8L1520.3 520.1L1517.8 520.4L1515.3 520.6L1512.8 520.8L1510.3 521.1L1507.8 521.3L1505.3 521.5L1502.8 521.7L1500.3 521.9L1497.8 522.1L1495.3 522.2L1492.8 522.4L1490.3 522.5L1487.8 522.6L1485.3 522.7L1482.8 522.8L1480.3 522.9L1477.8 523.0L1475.3 523.1L1472.8 523.1L1470.3 523.2L1467.8 523.2L1465.3 523.3L1462.8 523.3L1460.3 523.3L1457.8 523.3L1455.3 523.2L1452.8 523.2L1450.3 523.2L1447.8 523.1L1445.3 523.0L1442.8 523.0L1440.3 522.9L1437.8 522.8L1435.3 522.7L1432.8 522.5L1430.3 522.4L1427.8 522.2L1425.3 522.1L1422.8 521.9L1420.3 521.7L1417.8 521.5L1415.3 521.3L1412.8 521.1L1410.3 520.9L1407.8 520.6L1405.3 520.4L1402.8 520.1L1400.3 519.9L1397.8 519.6L1395.3 519.3L1392.8 519.0L1390.3 518.6L1387.8 518.3L1385.3 518.0L1382.8 517.6L1380.3 517.2L1377.8 516.9L1375.3 516.5L1372.8 516.1L1370.3 515.7L1367.8 515.2L1365.3 514.8L1362.8 514.3L1360.3 513.9L1357.8 513.4L1355.3 512.9L1352.8 512.4L1350.3 511.9L1347.8 511.4L1345.3 510.9L1342.8 510.3L1340.3 509.8L1337.8 509.2L1335.3 508.6L1332.8 508.0L1330.3 507.4L1327.8 506.8L1325.3 506.2L1322.8 505.6L1320.3 504.9L1317.8 504.3L1315.3 503.6L1312.8 502.9L1310.3 502.2L1307.8 501.5L1305.3 500.8L1302.8 500.1L1300.3 499.3L1297.8 498.6L1295.3 497.8L1292.8 497.0L1290.3 496.2L1287.8 495.4L1285.3 494.6L1282.8 493.8L1280.3 493.0L1277.8 492.1L1275.3 491.3L1272.8 490.4L1270.3 489.5L1267.8 488.6L1265.3 487.7L1262.8 486.8L1260.3 485.9L1257.8 484.9L1255.3 484.0L1252.8 483.0L1250.3 482.0L1247.8 481.1L1245.3 480.1L1242.8 479.1L1240.3 478.0L1237.8 477.0L1235.3 476.0L1232.8 474.9L1230.3 473.9L1227.8 472.8L1225.3 471.7L1222.8 470.6L1220.3 469.5L1217.8 468.4L1215.3 467.3L1212.8 466.2L1210.3 465.0L1207.8 463.9L1205.3 462.7L1202.8 461.5L1200.3 460.3L1197.8 459.2L1195.3 458.0L1192.8 456.7L1190.3 455.5L1187.8 454.3L1185.3 453.0L1182.8 451.8L1180.3 450.5L1177.8 449.3L1175.3 448.0L1172.8 446.7L1170.3 445.4L1167.8 444.1L1165.3 442.8L1162.8 441.4L1160.3 440.1L1157.8 438.8L1155.3 437.4L1152.8 436.0L1150.3 434.7L1147.8 433.3L1145.3 431.9L1142.8 430.5L1140.3 429.1L1137.8 427.7L1135.3 426.3L1132.8 424.8L1130.3 423.4L1127.8 421.9L1125.3 420.5L1122.8 419.0L1120.3 417.6L1117.8 416.1L1115.3 414.6L1112.8 413.1L1110.3 411.6L1107.8 410.1L1105.3 408.5L1102.8 407.0L1100.3 405.5L1097.8 403.9L1095.3 402.4L1092.8 400.8L1090.3 399.3L1087.8 397.7L1085.3 396.1L1082.8 394.5L1080.3 392.9L1077.8 391.3L1075.3 389.7L1072.8 388.1L1070.3 386.5L1067.8 384.8L1065.3 383.2L1062.8 381.5L1060.3 379.9L1057.8 378.2L1055.3 376.6L1052.8 374.9L1050.3 373.2L1047.8 371.5L1045.3 369.8L1042.8 368.1L1040.3 366.4L1037.8 364.7L1035.3 363.0L1032.8 361.3L1030.3 359.5L1027.8 357.8L1025.3 356.1L1022.8 354.3L1020.3 352.6L1017.8 350.8L1015.3 349.0L1012.8 347.2L1010.3 345.5L1007.8 343.7L1005.3 341.9L1002.8 340.1L1000.3 338.3L997.8 336.5L995.3 334.6L992.8 332.8L990.3 331.0L987.8 329.1L985.3 327.3L982.8 325.4L980.3 323.6L977.8 321.7L975.3 319.9L972.8 318.0L970.3 316.1L967.8 314.2L965.3 312.3L962.8 310.4L960.3 308.5L957.8 306.6L955.3 304.7L952.8 302.8L950.3 300.8L947.8 298.9L945.3 297.0L942.8 295.0L940.3 293.1L937.8 291.1L935.3 289.1L932.8 287.2L930.3 285.2L927.8 283.2L925.3 281.2L922.8 279.2L920.3 277.2L917.8 275.2L915.3 273.2L912.8 271.2L910.3 269.2L907.8 267.2L905.3 265.1L902.8 263.1L900.3 261.0L897.8 259.0L895.3 256.9L892.8 254.9L890.3 252.8L887.8 250.8L885.3 248.7L882.8 246.6L880.3 244.5L877.8 242.4L875.3 240.3L872.8 238.2L870.3 236.1L867.8 234.0L865.3 231.9L862.8 229.8L860.3 227.6L857.8 225.5L855.3 223.4L852.8 221.2L850.3 219.1L847.8 216.9L845.3 214.7L842.8 212.6L840.3 210.4L837.8 208.2L835.3 206.1L832.8 203.9L830.3 201.7L827.8 199.5L825.3 197.3L822.8 195.1L820.3 192.9L817.8 190.7L815.3 188.4L812.8 186.2L810.3 184.0L807.8 181.8L805.3 179.5L802.8 177.3L800.3 175.0L797.8 172.8L795.3 170.5L792.8 168.2L790.3 166.0L787.8 163.7L785.3 161.4L782.8 159.2L780.3 156.9L777.8 154.6L775.3 152.3L772.8 150.0L770.3 147.7L767.8 145.4L765.3 143.0L762.8 140.7L760.3 138.4L757.8 136.1L755.3 133.7L752.8 131.4L750.3 129.1L747.8 126.7L745.3 124.4L742.8 122.0L740.3 119.7L737.8 117.3L735.3 114.9L732.8 112.6L730.3 110.2L727.8 107.8L725.3 105.4L722.8 103.0L720.3 100.6L717.8 98.3L715.3 95.8L712.8 93.4L710.3 91.0L707.8 88.6L705.3 86.2L702.8 83.8L700.3 81.4L697.8 78.9L695.3 76.5L692.8 74.1L690.3 71.6L687.8 69.2L685.3 66.7L682.8 64.3L680.3 61.8L680.0 61.5Z" fill="#77AC30"/></g>
<path d="M205.3 1231.7L207.8 1231.7L210.3 1231.8L212.8 1231.8L215.3 1231.8L217.8 1231.7L220.3 1231.7L222.8 1231.7L225.3 1231.6L227.8 1231.6L230.3 1231.5L232.8 1231.5L235.3 1231.4L237.8 1231.3L240.3 1231.2L242.8 1231.1L245.3 1231.0L247.8 1230.9L250.3 1230.8L252.8 1230.7L255.3 1230.6L257.8 1230.4L260.3 1230.3L262.8 1230.1L265.3 1230.0L267.8 1229.8L270.3 1229.6L272.8 1229.4L275.3 1229.2L277.8 1229.1L280.3 1228.9L282.8 1228.7L285.3 1228.4L287.8 1228.2L290.3 1228.0L292.8 1227.8L295.3 1227.5L297.8 1227.3L300.3 1227.0L302.8 1226.8L305.3 1226.5L307.8 1226.3L310.3 1226.0L312.8 1225.7L315.3 1225.5L317.8 1225.2L320.3 1224.9L322.8 1224.6L325.3 1224.3L327.8 1224.0L330.3 1223.7L332.8 1223.4L335.3 1223.1L337.8 1222.7L340.3 1222.4L342.8 1222.1L345.3 1221.8L347.8 1221.4L350.3 1221.1L352.8 1220.7L355.3 1220.4L357.8 1220.0L360.3 1219.7L362.8 1219.3L365.3 1219.0L367.8 1218.6L370.3 1218.3L372.8 1217.9L375.3 1217.5L377.8 1217.1L380.3 1216.8L382.8 1216.4L385.3 1216.0L387.8 1215.6L390.3 1215.2L392.8 1214.9L395.3 1214.5L397.8 1214.1L400.3 1213.7L402.8 1213.3L405.3 1212.9L407.8 1212.5L410.3 1212.1L412.8 1211.7L415.3 1211.3L417.8 1210.9L420.3 1210.4L422.8 1210.0L425.3 1209.6L427.8 1209.2L430.3 1208.8L432.8 1208.4L435.3 1208.0L437.8 1207.5L440.3 1207.1L442.8 1206.7L445.3 1206.3L447.8 1205.8L450.3 1205.4L452.8 1205.0L455.3 1204.6L457.8 1204.1L460.3 1203.7L462.8 1203.3L465.3 1202.9L467.8 1202.4L470.3 1202.0L472.8 1201.6L475.3 1201.1L477.8 1200.7L480.3 1200.3L482.8 1199.8L485.3 1199.4L487.8 1199.0L490.3 1198.5L492.8 1198.1L495.3 1197.7L497.8 1197.2L500.3 1196.8L502.8 1196.4L505.3 1195.9L507.8 1195.5L510.3 1195.1L512.8 1194.6L515.3 1194.2L517.8 1193.8L520.3 1193.4L522.8 1192.9L525.3 1192.5L527.8 1192.1L530.3 1191.7L532.8 1191.2L535.3 1190.8L537.8 1190.4L540.3 1190.0L542.8 1189.6L545.3 1189.1L547.8 1188.7L550.3 1188.3L552.8 1187.9L555.3 1187.5L557.8 1187.1L560.3 1186.7L562.8 1186.3L565.3 1185.9L567.8 1185.4L570.3 1185.0L572.8 1184.6L575.3 1184.2L577.8 1183.8L580.3 1183.4L582.8 1183.1L585.3 1182.7L587.8 1182.3L590.3 1181.9L592.8 1181.5L595.3 1181.1L597.8 1180.7L600.3 1180.3L602.8 1179.9L605.3 1179.6L607.8 1179.2L610.3 1178.8L612.8 1178.4L615.3 1178.0L617.8 1177.7L620.3 1177.3L622.8 1176.9L625.3 1176.5L627.8 1176.2L630.3 1175.8L632.8 1175.4L635.3 1175.0L637.8 1174.7L640.3 1174.3L642.8 1173.9L645.3 1173.6L647.8 1173.2L650.3 1172.8L652.8 1172.5L655.3 1172.1L657.8 1171.7L660.3 1171.4L662.8 1171.0L665.3 1170.6L667.8 1170.3L670.3 1169.9L672.8 1169.6L675.3 1169.2L677.8 1168.8L680.3 1168.5L682.8 1168.1L685.3 1167.8L687.8 1167.4L690.3 1167.0L692.8 1166.7L695.3 1166.3L697.8 1166.0L700.3 1165.6L702.8 1165.2L705.3 1164.9L707.8 1164.5L710.3 1164.2L712.8 1163.8L715.3 1163.5L717.8 1163.1L720.3 1162.7L722.8 1162.4L725.3 1162.0L727.8 1161.7L730.3 1161.3L732.8 1161.0L735.3 1160.6L737.8 1160.2L740.3 1159.9L742.8 1159.5L745.3 1159.2L747.8 1158.8L750.3 1158.4L752.8 1158.1L755.3 1157.7L757.8 1157.4L760.3 1157.0L762.8 1156.6L765.3 1156.3L767.8 1155.9L770.3 1155.6L772.8 1155.2L775.3 1154.8L777.8 1154.5L780.3 1154.1L782.8 1153.7L785.3 1153.4L787.8 1153.0L790.3 1152.6L792.8 1152.3L795.3 1151.9L797.8 1151.5L800.3 1151.2L802.8 1150.8L805.3 1150.4L807.8 1150.1L810.3 1149.7L812.8 1149.3L815.3 1148.9L817.8 1148.6L820.3 1148.2L822.8 1147.8L825.3 1147.4L827.8 1147.0L830.3 1146.7L832.8 1146.3L835.3 1145.9L837.8 1145.5L840.3 1145.1L842.8 1144.7L845.3 1144.3L847.8 1143.9L850.3 1143.6L852.8 1143.2L855.3 1142.8L857.8 1142.4L860.3 1142.0L862.8 1141.6L865.3 1141.2L867.8 1140.8L870.3 1140.4L872.8 1140.0L875.3 1139.6L877.8 1139.2L880.3 1138.7L882.8 1138.3L885.3 1137.9L887.8 1137.5L890.3 1137.1L892.8 1136.7L895.3 1136.3L897.8 1135.8L900.3 1135.4L902.8 1135.0L905.3 1134.6L907.8 1134.2L910.3 1133.7L912.8 1133.3L915.3 1132.9L917.8 1132.5L920.3 1132.0L922.8 1131.6L925.3 1131.2L927.8 1130.7L930.3 1130.3L932.8 1129.9L935.3 1129.4L937.8 1129.0L940.3 1128.5L942.8 1128.1L945.3 1127.6L947.8 1127.2L950.3 1126.8L952.8 1126.3L955.3 1125.9L957.8 1125.4L960.3 1125.0L962.8 1124.5L965.3 1124.0L967.8 1123.6L970.3 1123.1L972.8 1122.7L975.3 1122.2L977.8 1121.8L980.3 1121.3L982.8 1120.8L985.3 1120.4L987.8 1119.9L990.3 1119.4L992.8 1119.0L995.3 1118.5L997.8 1118.0L1000.3 1117.6L1002.8 1117.1L1005.3 1116.6L1007.8 1116.1L1010.3 1115.7L1012.8 1115.2L1015.3 1114.7L1017.8 1114.2L1020.3 1113.7L1022.8 1113.3L1025.3 1112.8L1027.8 1112.3L1030.3 1111.8L1032.8 1111.3L1035.3 1110.8L1037.8 1110.3L1040.3 1109.8L1042.8 1109.3L1045.3 1108.9L1047.8 1108.4L1050.3 1107.9L1052.8 1107.4L1055.3 1106.9L1057.8 1106.4L1060.3 1105.9L1062.8 1105.4L1065.3 1104.9L1067.8 1104.4L1070.3 1103.8L1072.8 1103.3L1075.3 1102.8L1077.8 1102.3L1080.3 1101.8L1082.8 1101.3L1085.3 1100.8L1087.8 1100.3L1090.3 1099.8L1092.8 1099.2L1095.3 1098.7L1097.8 1098.2L1100.3 1097.7L1102.8 1097.2L1105.3 1096.6L1107.8 1096.1L1110.3 1095.6L1112.8 1095.1L1115.3 1094.6L1117.8 1094.0L1120.3 1093.5L1122.8 1093.0L1125.3 1092.4L1127.8 1091.9L1130.3 1091.4L1132.8 1090.8L1135.3 1090.3L1137.8 1089.8L1140.3 1089.2L1142.8 1088.7L1145.3 1088.2L1147.8 1087.6L1150.3 1087.1L1152.8 1086.5L1155.3 1086.0L1157.8 1085.4L1160.3 1084.9L1162.8 1084.4L1165.3 1083.8L1167.8 1083.3L1170.3 1082.7L1172.8 1082.2L1175.3 1081.6L1177.8 1081.1L1180.3 1080.5L1182.8 1080.0L1185.3 1079.4L1187.8 1078.8L1190.3 1078.3L1192.8 1077.7L1195.3 1077.2L1197.8 1076.6L1200.3 1076.0L1202.8 1075.5L1205.3 1074.9L1207.8 1074.4L1210.3 1073.8L1212.8 1073.2L1215.3 1072.7L1217.8 1072.1L1220.3 1071.5L1222.8 1071.0L1225.3 1070.4L1227.8 1069.8L1230.3 1069.2L1232.8 1068.7L1235.3 1068.1L1237.8 1067.5L1240.3 1066.9L1242.8 1066.4L1245.3 1065.8L1247.8 1065.2L1250.3 1064.6L1252.8 1064.0L1255.3 1063.5L1257.8 1062.9L1260.3 1062.3L1262.8 1061.7L1265.3 1061.1L1267.8 1060.5L1270.3 1060.0L1272.8 1059.4L1275.3 1058.8L1277.8 1058.2L1280.3 1057.6L1282.8 1057.0L1285.3 1056.4L1287.8 1055.8L1290.3 1055.2L1292.8 1054.6L1295.3 1054.0L1297.8 1053.4L1300.3 1052.8L1302.8 1052.2L1305.3 1051.6L1307.8 1051.0L1310.3 1050.4L1312.8 1049.8L1315.3 1049.2L1317.8 1048.6L1320.3 1048.0L1322.8 1047.4L1325.3 1046.8L1327.8 1046.2L1330.3 1045.6L1332.8 1045.0L1335.3 1044.4L1337.8 1043.8L1340.3 1043.2L1342.8 1042.6L1345.3 1041.9L1347.8 1041.3L1350.3 1040.7L1352.8 1040.1L1355.3 1039.5L1357.8 1038.9L1360.3 1038.2L1362.8 1037.6L1365.3 1037.0L1367.8 1036.4L1370.3 1035.8L1372.8 1035.2L1375.3 1034.5L1377.8 1033.9L1380.3 1033.3L1382.8 1032.7L1385.3 1032.0L1387.8 1031.4L1390.3 1030.8L1392.8 1030.2L1395.3 1029.5L1397.8 1028.9L1400.3 1028.3L1402.8 1027.6L1405.3 1027.0L1407.8 1026.4L1410.3 1025.7L1412.8 1025.1L1415.3 1024.5L1417.8 1023.9L1420.3 1023.2L1422.8 1022.6L1425.3 1021.9L1427.8 1021.3L1430.3 1020.7L1432.8 1020.0L1435.3 1019.4L1437.8 1018.8L1440.3 1018.1L1442.8 1017.5L1445.3 1016.8L1447.8 1016.2L1450.3 1015.5L1452.8 1014.9L1455.3 1014.3L1457.8 1013.6L1460.3 1013.0L1462.8 1012.3L1465.3 1011.7L1467.8 1011.0L1470.3 1010.4L1472.8 1009.7L1475.3 1009.1L1477.8 1008.4L1480.3 1007.8L1482.8 1007.1L1485.3 1006.5L1487.8 1005.8L1490.3 1005.2L1492.8 1004.5L1495.3 1003.9L1497.8 1003.2L1500.3 1002.6L1502.8 1001.9L1505.3 1001.3L1507.8 1000.6L1510.3 999.9L1512.8 999.3L1515.3 998.6L1517.8 998.0L1520.3 997.3L1522.8 996.6L1525.3 996.0L1527.8 995.3L1530.3 994.7L1532.8 994.0L1535.3 993.3L1537.8 992.7L1540.3 992.0L1542.8 991.3L1545.3 990.7L1547.8 990.0L1550.3 989.4L1552.8 988.7L1555.3 988.0L1557.8 987.3L1560.3 986.7L1562.8 986.0L1565.3 985.3L1567.8 984.7L1570.3 984.0L1572.8 983.3L1575.3 982.7L1577.8 982.0L1580.3 981.3L1582.8 980.6L1585.3 980.0L1587.8 979.3L1590.3 978.6L1592.8 978.0L1595.3 977.3L1597.8 976.6L1600.3 975.9L1602.8 975.3L1605.3 974.6L1607.8 973.9L1610.3 973.2L1612.8 972.5L1615.3 971.9L1617.8 971.2L1620.3 970.5L1622.8 969.8L1625.3 969.1L1627.8 968.5L1630.3 967.8L1632.8 967.1L1635.3 966.4L1637.8 965.7L1640.3 965.1L1642.8 964.4L1645.3 963.7L1647.8 963.0L1650.3 962.3L1652.8 961.6L1655.3 961.0L1657.8 960.3L1660.3 959.6L1662.8 958.9L1665.3 958.2L1667.8 957.5L1670.3 956.8L1672.8 956.2L1675.3 955.5L1677.8 954.8L1680.3 954.1L1682.8 953.4L1685.3 952.7L1687.8 952.0L1690.3 951.3L1692.8 950.6L1695.3 950.0L1697.8 949.3L1700.3 948.6L1702.8 947.9L1705.3 947.2L1707.8 946.5L1710.3 945.8L1712.8 945.1L1715.3 944.4L1717.8 943.7L1720.3 943.0L1722.8 942.3L1725.3 941.6L1727.8 941.0L1730.3 940.3L1732.8 939.6L1735.3 938.9L1737.8 938.2L1740.3 937.5L1742.8 936.8L1745.3 936.1L1747.8 935.4L1750.3 934.7L1752.8 934.0L1755.3 933.3L1757.8 932.6L1760.3 931.9L1762.8 931.2L1765.3 930.5L1767.8 929.8L1770.3 929.1L1772.8 928.4L1775.3 927.7L1777.8 927.0L1780.3 926.3L1782.8 925.6L1785.3 924.9L1787.8 924.2L1790.3 923.5L1792.8 922.8L1795.3 922.1L1797.8 921.4L1800.3 920.7L1802.8 920.0L1805.3 919.3L1807.8 918.6L1810.3 917.9L1812.8 917.2L1814.9 916.6L1814.9 922.6L1812.8 923.2L1810.3 923.9L1807.8 924.6L1805.3 925.3L1802.8 926.0L1800.3 926.7L1797.8 927.4L1795.3 928.1L1792.8 928.8L1790.3 929.5L1787.8 930.2L1785.3 930.9L1782.8 931.6L1780.3 932.3L1777.8 933.0L1775.3 933.7L1772.8 934.4L1770.3 935.1L1767.8 935.8L1765.3 936.5L1762.8 937.2L1760.3 937.9L1757.8 938.6L1755.3 939.3L1752.8 940.0L1750.3 940.7L1747.8 941.4L1745.3 942.1L1742.8 942.8L1740.3 943.5L1737.8 944.2L1735.3 944.9L1732.8 945.6L1730.3 946.3L1727.8 947.0L1725.3 947.6L1722.8 948.3L1720.3 949.0L1717.8 949.7L1715.3 950.4L1712.8 951.1L1710.3 951.8L1707.8 952.5L1705.3 953.2L1702.8 953.9L1700.3 954.6L1697.8 955.3L1695.3 956.0L1692.8 956.6L1690.3 957.3L1687.8 958.0L1685.3 958.7L1682.8 959.4L1680.3 960.1L1677.8 960.8L1675.3 961.5L1672.8 962.2L1670.3 962.8L1667.8 963.5L1665.3 964.2L1662.8 964.9L1660.3 965.6L1657.8 966.3L1655.3 967.0L1652.8 967.6L1650.3 968.3L1647.8 969.0L1645.3 969.7L1642.8 970.4L1640.3 971.1L1637.8 971.7L1635.3 972.4L1632.8 973.1L1630.3 973.8L1627.8 974.5L1625.3 975.1L1622.8 975.8L1620.3 976.5L1617.8 977.2L1615.3 977.9L1612.8 978.5L1610.3 979.2L1607.8 979.9L1605.3 980.6L1602.8 981.3L1600.3 981.9L1597.8 982.6L1595.3 983.3L1592.8 984.0L1590.3 984.6L1587.8 985.3L1585.3 986.0L1582.8 986.6L1580.3 987.3L1577.8 988.0L1575.3 988.7L1572.8 989.3L1570.3 990.0L1567.8 990.7L1565.3 991.3L1562.8 992.0L1560.3 992.7L1557.8 993.3L1555.3 994.0L1552.8 994.7L1550.3 995.4L1547.8 996.0L1545.3 996.7L1542.8 997.3L1540.3 998.0L1537.8 998.7L1535.3 999.3L1532.8 1000.0L1530.3 1000.7L1527.8 1001.3L1525.3 1002.0L1522.8 1002.6L1520.3 1003.3L1517.8 1004.0L1515.3 1004.6L1512.8 1005.3L1510.3 1005.9L1507.8 1006.6L1505.3 1007.3L1502.8 1007.9L1500.3 1008.6L1497.8 1009.2L1495.3 1009.9L1492.8 1010.5L1490.3 1011.2L1487.8 1011.8L1485.3 1012.5L1482.8 1013.1L1480.3 1013.8L1477.8 1014.4L1475.3 1015.1L1472.8 1015.7L1470.3 1016.4L1467.8 1017.0L1465.3 1017.7L1462.8 1018.3L1460.3 1019.0L1457.8 1019.6L1455.3 1020.3L1452.8 1020.9L1450.3 1021.5L1447.8 1022.2L1445.3 1022.8L1442.8 1023.5L1440.3 1024.1L1437.8 1024.8L1435.3 1025.4L1432.8 1026.0L1430.3 1026.7L1427.8 1027.3L1425.3 1027.9L1422.8 1028.6L1420.3 1029.2L1417.8 1029.9L1415.3 1030.5L1412.8 1031.1L1410.3 1031.7L1407.8 1032.4L1405.3 1033.0L1402.8 1033.6L1400.3 1034.3L1397.8 1034.9L1395.3 1035.5L1392.8 1036.2L1390.3 1036.8L1387.8 1037.4L1385.3 1038.0L1382.8 1038.7L1380.3 1039.3L1377.8 1039.9L1375.3 1040.5L1372.8 1041.2L1370.3 1041.8L1367.8 1042.4L1365.3 1043.0L1362.8 1043.6L1360.3 1044.2L1357.8 1044.9L1355.3 1045.5L1352.8 1046.1L1350.3 1046.7L1347.8 1047.3L1345.3 1047.9L1342.8 1048.6L1340.3 1049.2L1337.8 1049.8L1335.3 1050.4L1332.8 1051.0L1330.3 1051.6L1327.8 1052.2L1325.3 1052.8L1322.8 1053.4L1320.3 1054.0L1317.8 1054.6L1315.3 1055.2L1312.8 1055.8L1310.3 1056.4L1307.8 1057.0L1305.3 1057.6L1302.8 1058.2L1300.3 1058.8L1297.8 1059.4L1295.3 1060.0L1292.8 1060.6L1290.3 1061.2L1287.8 1061.8L1285.3 1062.4L1282.8 1063.0L1280.3 1063.6L1277.8 1064.2L1275.3 1064.8L1272.8 1065.4L1270.3 1066.0L1267.8 1066.5L1265.3 1067.1L1262.8 1067.7L1260.3 1068.3L1257.8 1068.9L1255.3 1069.5L1252.8 1070.0L1250.3 1070.6L1247.8 1071.2L1245.3 1071.8L1242.8 1072.4L1240.3 1072.9L1237.8 1073.5L1235.3 1074.1L1232.8 1074.7L1230.3 1075.2L1227.8 1075.8L1225.3 1076.4L1222.8 1077.0L1220.3 1077.5L1217.8 1078.1L1215.3 1078.7L1212.8 1079.2L1210.3 1079.8L1207.8 1080.4L1205.3 1080.9L1202.8 1081.5L1200.3 1082.0L1197.8 1082.6L1195.3 1083.2L1192.8 1083.7L1190.3 1084.3L1187.8 1084.8L1185.3 1085.4L1182.8 1086.0L1180.3 1086.5L1177.8 1087.1L1175.3 1087.6L1172.8 1088.2L1170.3 1088.7L1167.8 1089.3L1165.3 1089.8L1162.8 1090.4L1160.3 1090.9L1157.8 1091.4L1155.3 1092.0L1152.8 1092.5L1150.3 1093.1L1147.8 1093.6L1145.3 1094.2L1142.8 1094.7L1140.3 1095.2L1137.8 1095.8L1135.3 1096.3L1132.8 1096.8L1130.3 1097.4L1127.8 1097.9L1125.3 1098.4L1122.8 1099.0L1120.3 1099.5L1117.8 1100.0L1115.3 1100.6L1112.8 1101.1L1110.3 1101.6L1107.8 1102.1L1105.3 1102.6L1102.8 1103.2L1100.3 1103.7L1097.8 1104.2L1095.3 1104.7L1092.8 1105.2L1090.3 1105.8L1087.8 1106.3L1085.3 1106.8L1082.8 1107.3L1080.3 1107.8L1077.8 1108.3L1075.3 1108.8L1072.8 1109.3L1070.3 1109.8L1067.8 1110.4L1065.3 1110.9L1062.8 1111.4L1060.3 1111.9L1057.8 1112.4L1055.3 1112.9L1052.8 1113.4L1050.3 1113.9L1047.8 1114.4L1045.3 1114.9L1042.8 1115.3L1040.3 1115.8L1037.8 1116.3L1035.3 1116.8L1032.8 1117.3L1030.3 1117.8L1027.8 1118.3L1025.3 1118.8L1022.8 1119.3L1020.3 1119.7L1017.8 1120.2L1015.3 1120.7L1012.8 1121.2L1010.3 1121.7L1007.8 1122.1L1005.3 1122.6L1002.8 1123.1L1000.3 1123.6L997.8 1124.0L995.3 1124.5L992.8 1125.0L990.3 1125.4L987.8 1125.9L985.3 1126.4L982.8 1126.8L980.3 1127.3L977.8 1127.8L975.3 1128.2L972.8 1128.7L970.3 1129.1L967.8 1129.6L965.3 1130.0L962.8 1130.5L960.3 1131.0L957.8 1131.4L955.3 1131.9L952.8 1132.3L950.3 1132.8L947.8 1133.2L945.3 1133.6L942.8 1134.1L940.3 1134.5L937.8 1135.0L935.3 1135.4L932.8 1135.9L930.3 1136.3L927.8 1136.7L925.3 1137.2L922.8 1137.6L920.3 1138.0L917.8 1138.5L915.3 1138.9L912.8 1139.3L910.3 1139.7L907.8 1140.2L905.3 1140.6L902.8 1141.0L900.3 1141.4L897.8 1141.8L895.3 1142.3L892.8 1142.7L890.3 1143.1L887.8 1143.5L885.3 1143.9L882.8 1144.3L880.3 1144.7L877.8 1145.2L875.3 1145.6L872.8 1146.0L870.3 1146.4L867.8 1146.8L865.3 1147.2L862.8 1147.6L860.3 1148.0L857.8 1148.4L855.3 1148.8L852.8 1149.2L850.3 1149.6L847.8 1149.9L845.3 1150.3L842.8 1150.7L840.3 1151.1L837.8 1151.5L835.3 1151.9L832.8 1152.3L830.3 1152.7L827.8 1153.0L825.3 1153.4L822.8 1153.8L820.3 1154.2L817.8 1154.6L815.3 1154.9L812.8 1155.3L810.3 1155.7L807.8 1156.1L805.3 1156.4L802.8 1156.8L800.3 1157.2L797.8 1157.5L795.3 1157.9L792.8 1158.3L790.3 1158.6L787.8 1159.0L785.3 1159.4L782.8 1159.7L780.3 1160.1L777.8 1160.5L775.3 1160.8L772.8 1161.2L770.3 1161.6L767.8 1161.9L765.3 1162.3L762.8 1162.6L760.3 1163.0L757.8 1163.4L755.3 1163.7L752.8 1164.1L750.3 1164.4L747.8 1164.8L745.3 1165.2L742.8 1165.5L740.3 1165.9L737.8 1166.2L735.3 1166.6L732.8 1167.0L730.3 1167.3L727.8 1167.7L725.3 1168.0L722.8 1168.4L720.3 1168.7L717.8 1169.1L715.3 1169.5L712.8 1169.8L710.3 1170.2L707.8 1170.5L705.3 1170.9L702.8 1171.2L700.3 1171.6L697.8 1172.0L695.3 1172.3L692.8 1172.7L690.3 1173.0L687.8 1173.4L685.3 1173.8L682.8 1174.1L680.3 1174.5L677.8 1174.8L675.3 1175.2L672.8 1175.6L670.3 1175.9L667.8 1176.3L665.3 1176.6L662.8 1177.0L660.3 1177.4L657.8 1177.7L655.3 1178.1L652.8 1178.5L650.3 1178.8L647.8 1179.2L645.3 1179.6L642.8 1179.9L640.3 1180.3L637.8 1180.7L635.3 1181.0L632.8 1181.4L630.3 1181.8L627.8 1182.2L625.3 1182.5L622.8 1182.9L620.3 1183.3L617.8 1183.7L615.3 1184.0L612.8 1184.4L610.3 1184.8L607.8 1185.2L605.3 1185.6L602.8 1185.9L600.3 1186.3L597.8 1186.7L595.3 1187.1L592.8 1187.5L590.3 1187.9L587.8 1188.3L585.3 1188.7L582.8 1189.1L580.3 1189.4L577.8 1189.8L575.3 1190.2L572.8 1190.6L570.3 1191.0L567.8 1191.4L565.3 1191.9L562.8 1192.3L560.3 1192.7L557.8 1193.1L555.3 1193.5L552.8 1193.9L550.3 1194.3L547.8 1194.7L545.3 1195.1L542.8 1195.6L540.3 1196.0L537.8 1196.4L535.3 1196.8L532.8 1197.2L530.3 1197.7L527.8 1198.1L525.3 1198.5L522.8 1198.9L520.3 1199.4L517.8 1199.8L515.3 1200.2L512.8 1200.6L510.3 1201.1L507.8 1201.5L505.3 1201.9L502.8 1202.4L500.3 1202.8L497.8 1203.2L495.3 1203.7L492.8 1204.1L490.3 1204.5L487.8 1205.0L485.3 1205.4L482.8 1205.8L480.3 1206.3L477.8 1206.7L475.3 1207.1L472.8 1207.6L470.3 1208.0L467.8 1208.4L465.3 1208.9L462.8 1209.3L460.3 1209.7L457.8 1210.1L455.3 1210.6L452.8 1211.0L450.3 1211.4L447.8 1211.8L445.3 1212.3L442.8 1212.7L440.3 1213.1L437.8 1213.5L435.3 1214.0L432.8 1214.4L430.3 1214.8L427.8 1215.2L425.3 1215.6L422.8 1216.0L420.3 1216.4L417.8 1216.9L415.3 1217.3L412.8 1217.7L410.3 1218.1L407.8 1218.5L405.3 1218.9L402.8 1219.3L400.3 1219.7L397.8 1220.1L395.3 1220.5L392.8 1220.9L390.3 1221.2L387.8 1221.6L385.3 1222.0L382.8 1222.4L380.3 1222.8L377.8 1223.1L375.3 1223.5L372.8 1223.9L370.3 1224.3L367.8 1224.6L365.3 1225.0L362.8 1225.3L360.3 1225.7L357.8 1226.0L355.3 1226.4L352.8 1226.7L350.3 1227.1L347.8 1227.4L345.3 1227.8L342.8 1228.1L340.3 1228.4L337.8 1228.7L335.3 1229.1L332.8 1229.4L330.3 1229.7L327.8 1230.0L325.3 1230.3L322.8 1230.6L320.3 1230.9L317.8 1231.2L315.3 1231.5L312.8 1231.7L310.3 1232.0L307.8 1232.3L305.3 1232.5L302.8 1232.8L300.3 1233.0L297.8 1233.3L295.3 1233.5L292.8 1233.8L290.3 1234.0L287.8 1234.2L285.3 1234.4L282.8 1234.7L280.3 1234.9L277.8 1235.1L275.3 1235.2L272.8 1235.4L270.3 1235.6L267.8 1235.8L265.3 1236.0L262.8 1236.1L260.3 1236.3L257.8 1236.4L255.3 1236.6L252.8 1236.7L250.3 1236.8L247.8 1236.9L245.3 1237.0L242.8 1237.1L240.3 1237.2L237.8 1237.3L235.3 1237.4L232.8 1237.5L230.3 1237.5L227.8 1237.6L225.3 1237.6L222.8 1237.7L220.3 1237.7L217.8 1237.7L215.3 1237.8L212.8 1237.8L210.3 1237.8L207.8 1237.7L205.3 1237.7Z" fill="#D95319"/>
<path d="M205.3 1065.9L207.8 1066.4L210.3 1066.8L212.8 1067.3L215.3 1067.7L217.8 1068.1L220.3 1068.6L222.8 1069.0L225.3 1069.4L227.8 1069.8L230.3 1070.2L232.8 1070.5L235.3 1070.9L237.8 1071.3L240.3 1071.7L242.8 1072.0L245.3 1072.4L247.8 1072.7L250.3 1073.0L252.8 1073.4L255.3 1073.7L257.8 1074.0L260.3 1074.3L262.8 1074.6L265.3 1074.9L267.8 1075.1L270.3 1075.4L272.8 1075.7L275.3 1075.9L277.8 1076.2L280.3 1076.4L282.8 1076.7L285.3 1076.9L287.8 1077.1L290.3 1077.3L292.8 1077.5L295.3 1077.7L297.8 1077.9L300.3 1078.1L302.8 1078.3L305.3 1078.5L307.8 1078.6L310.3 1078.8L312.8 1079.0L315.3 1079.1L317.8 1079.2L320.3 1079.4L322.8 1079.5L325.3 1079.6L327.8 1079.7L330.3 1079.8L332.8 1079.9L335.3 1080.0L337.8 1080.1L340.3 1080.2L342.8 1080.2L345.3 1080.3L347.8 1080.4L350.3 1080.4L352.8 1080.5L355.3 1080.5L357.8 1080.5L360.3 1080.5L362.8 1080.6L365.3 1080.6L367.8 1080.6L370.3 1080.6L372.8 1080.6L375.3 1080.6L377.8 1080.5L380.3 1080.5L382.8 1080.5L385.3 1080.4L387.8 1080.4L390.3 1080.3L392.8 1080.3L395.3 1080.2L397.8 1080.1L400.3 1080.1L402.8 1080.0L405.3 1079.9L407.8 1079.8L410.3 1079.7L412.8 1079.6L415.3 1079.5L417.8 1079.4L420.3 1079.2L422.8 1079.1L425.3 1079.0L427.8 1078.8L430.3 1078.7L432.8 1078.5L435.3 1078.4L437.8 1078.2L440.3 1078.0L442.8 1077.8L445.3 1077.7L447.8 1077.5L450.3 1077.3L452.8 1077.1L455.3 1076.9L457.8 1076.7L460.3 1076.4L462.8 1076.2L465.3 1076.0L467.8 1075.8L470.3 1075.5L472.8 1075.3L475.3 1075.0L477.8 1074.8L480.3 1074.5L482.8 1074.2L485.3 1074.0L487.8 1073.7L490.3 1073.4L492.8 1073.1L495.3 1072.8L497.8 1072.5L500.3 1072.2L502.8 1071.9L505.3 1071.6L507.8 1071.3L510.3 1070.9L512.8 1070.6L515.3 1070.3L517.8 1069.9L520.3 1069.6L522.8 1069.2L525.3 1068.9L527.8 1068.5L530.3 1068.1L532.8 1067.8L535.3 1067.4L537.8 1067.0L540.3 1066.6L542.8 1066.2L545.3 1065.8L547.8 1065.4L550.3 1065.0L552.8 1064.6L555.3 1064.2L557.8 1063.8L560.3 1063.3L562.8 1062.9L565.3 1062.5L567.8 1062.0L570.3 1061.6L572.8 1061.1L575.3 1060.7L577.8 1060.2L580.3 1059.8L582.8 1059.3L585.3 1058.8L587.8 1058.4L590.3 1057.9L592.8 1057.4L595.3 1056.9L597.8 1056.4L600.3 1055.9L602.8 1055.4L605.3 1054.9L607.8 1054.4L610.3 1053.9L612.8 1053.3L615.3 1052.8L617.8 1052.3L620.3 1051.8L622.8 1051.2L625.3 1050.7L627.8 1050.1L630.3 1049.6L632.8 1049.0L635.3 1048.5L637.8 1047.9L640.3 1047.3L642.8 1046.8L645.3 1046.2L647.8 1045.6L650.3 1045.0L652.8 1044.4L655.3 1043.8L657.8 1043.3L660.3 1042.7L662.8 1042.1L665.3 1041.4L667.8 1040.8L670.3 1040.2L672.8 1039.6L675.3 1039.0L677.8 1038.4L680.3 1037.7L682.8 1037.1L685.3 1036.5L687.8 1035.8L690.3 1035.2L692.8 1034.5L695.3 1033.9L697.8 1033.2L700.3 1032.6L702.8 1031.9L705.3 1031.2L707.8 1030.6L710.3 1029.9L712.8 1029.2L715.3 1028.6L717.8 1027.9L720.3 1027.2L722.8 1026.5L725.3 1025.8L727.8 1025.1L730.3 1024.4L732.8 1023.7L735.3 1023.0L737.8 1022.3L740.3 1021.6L742.8 1020.9L745.3 1020.2L747.8 1019.5L750.3 1018.7L752.8 1018.0L755.3 1017.3L757.8 1016.6L760.3 1015.8L762.8 1015.1L765.3 1014.4L767.8 1013.6L770.3 1012.9L772.8 1012.1L775.3 1011.4L777.8 1010.7L780.3 1009.9L782.8 1009.1L785.3 1008.4L787.8 1007.6L790.3 1006.9L792.8 1006.1L795.3 1005.4L797.8 1004.6L800.3 1003.8L802.8 1003.1L805.3 1002.3L807.8 1001.5L810.3 1000.7L812.8 1000.0L815.3 999.2L817.8 998.4L820.3 997.6L822.8 996.8L825.3 996.0L827.8 995.3L830.3 994.5L832.8 993.7L835.3 992.9L837.8 992.1L840.3 991.3L842.8 990.5L845.3 989.7L847.8 988.9L850.3 988.1L852.8 987.3L855.3 986.5L857.8 985.7L860.3 984.9L862.8 984.1L865.3 983.3L867.8 982.5L870.3 981.7L872.8 980.9L875.3 980.0L877.8 979.2L880.3 978.4L882.8 977.6L885.3 976.8L887.8 976.0L890.3 975.2L892.8 974.3L895.3 973.5L897.8 972.7L900.3 971.9L902.8 971.1L905.3 970.3L907.8 969.4L910.3 968.6L912.8 967.8L915.3 967.0L917.8 966.2L920.3 965.3L922.8 964.5L925.3 963.7L927.8 962.9L930.3 962.0L932.8 961.2L935.3 960.4L937.8 959.6L940.3 958.8L942.8 957.9L945.3 957.1L947.8 956.3L950.3 955.5L952.8 954.6L955.3 953.8L957.8 953.0L960.3 952.2L962.8 951.4L965.3 950.5L967.8 949.7L970.3 948.9L972.8 948.1L975.3 947.3L977.8 946.5L980.3 945.6L982.8 944.8L985.3 944.0L987.8 943.2L990.3 942.4L992.8 941.6L995.3 940.8L997.8 939.9L1000.3 939.1L1002.8 938.3L1005.3 937.5L1007.8 936.7L1010.3 935.9L1012.8 935.1L1015.3 934.3L1017.8 933.5L1020.3 932.7L1022.8 931.9L1025.3 931.1L1027.8 930.3L1030.3 929.5L1032.8 928.7L1035.3 927.9L1037.8 927.1L1040.3 926.3L1042.8 925.5L1045.3 924.7L1047.8 924.0L1050.3 923.2L1052.8 922.4L1055.3 921.6L1057.8 920.8L1060.3 920.1L1062.8 919.3L1065.3 918.5L1067.8 917.7L1070.3 917.0L1072.8 916.2L1075.3 915.4L1077.8 914.7L1080.3 913.9L1082.8 913.2L1085.3 912.4L1087.8 911.6L1090.3 910.9L1092.8 910.1L1095.3 909.4L1097.8 908.6L1100.3 907.9L1102.8 907.2L1105.3 906.4L1107.8 905.7L1110.3 905.0L1112.8 904.2L1115.3 903.5L1117.8 902.8L1120.3 902.0L1122.8 901.3L1125.3 900.6L1127.8 899.9L1130.3 899.2L1132.8 898.5L1135.3 897.8L1137.8 897.1L1140.3 896.4L1142.8 895.7L1145.3 895.0L1147.8 894.3L1150.3 893.6L1152.8 892.9L1155.3 892.2L1157.8 891.6L1160.3 890.9L1162.8 890.2L1165.3 889.5L1167.8 888.9L1170.3 888.2L1172.8 887.6L1175.3 886.9L1177.8 886.2L1180.3 885.6L1182.8 885.0L1185.3 884.3L1187.8 883.7L1190.3 883.0L1192.8 882.4L1195.3 881.8L1197.8 881.2L1200.3 880.6L1202.8 879.9L1205.3 879.3L1207.8 878.7L1210.3 878.1L1212.8 877.5L1215.3 876.9L1217.8 876.3L1220.3 875.7L1222.8 875.1L1225.3 874.5L1227.8 873.9L1230.3 873.4L1232.8 872.8L1235.3 872.2L1237.8 871.6L1240.3 871.1L1242.8 870.5L1245.3 869.9L1247.8 869.4L1250.3 868.8L1252.8 868.2L1255.3 867.7L1257.8 867.1L1260.3 866.6L1262.8 866.0L1265.3 865.5L1267.8 864.9L1270.3 864.4L1272.8 863.9L1275.3 863.3L1277.8 862.8L1280.3 862.2L1282.8 861.7L1285.3 861.2L1287.8 860.7L1290.3 860.1L1292.8 859.6L1295.3 859.1L1297.8 858.6L1300.3 858.0L1302.8 857.5L1305.3 857.0L1307.8 856.5L1310.3 856.0L1312.8 855.5L1315.3 855.0L1317.8 854.5L1320.3 854.0L1322.8 853.4L1325.3 852.9L1327.8 852.4L1330.3 851.9L1332.8 851.4L1335.3 850.9L1337.8 850.4L1340.3 849.9L1342.8 849.5L1345.3 849.0L1347.8 848.5L1350.3 848.0L1352.8 847.5L1355.3 847.0L1357.8 846.5L1360.3 846.0L1362.8 845.5L1365.3 845.0L1367.8 844.6L1370.3 844.1L1372.8 843.6L1375.3 843.1L1377.8 842.6L1380.3 842.1L1382.8 841.7L1385.3 841.2L1387.8 840.7L1390.3 840.2L1392.8 839.7L1395.3 839.2L1397.8 838.8L1400.3 838.3L1402.8 837.8L1405.3 837.3L1407.8 836.8L1410.3 836.4L1412.8 835.9L1415.3 835.4L1417.8 834.9L1420.3 834.4L1422.8 834.0L1425.3 833.5L1427.8 833.0L1430.3 832.5L1432.8 832.0L1435.3 831.6L1437.8 831.1L1440.3 830.6L1442.8 830.1L1445.3 829.6L1447.8 829.1L1450.3 828.7L1452.8 828.2L1455.3 827.7L1457.8 827.2L1460.3 826.7L1462.8 826.2L1465.3 825.7L1467.8 825.2L1470.3 824.8L1472.8 824.3L1475.3 823.8L1477.8 823.3L1480.3 822.8L1482.8 822.3L1485.3 821.8L1487.8 821.3L1490.3 820.8L1492.8 820.3L1495.3 819.8L1497.8 819.3L1500.3 818.8L1502.8 818.3L1505.3 817.8L1507.8 817.3L1510.3 816.7L1512.8 816.2L1515.3 815.7L1517.8 815.2L1520.3 814.7L1522.8 814.2L1525.3 813.6L1527.8 813.1L1530.3 812.6L1532.8 812.1L1535.3 811.5L1537.8 811.0L1540.3 810.5L1542.8 809.9L1545.3 809.4L1547.8 808.9L1550.3 808.3L1552.8 807.8L1555.3 807.2L1557.8 806.7L1560.3 806.1L1562.8 805.6L1565.3 805.0L1567.8 804.5L1570.3 803.9L1572.8 803.4L1575.3 802.8L1577.8 802.2L1580.3 801.7L1582.8 801.1L1585.3 800.5L1587.8 799.9L1590.3 799.4L1592.8 798.8L1595.3 798.2L1597.8 797.6L1600.3 797.0L1602.8 796.4L1605.3 795.8L1607.8 795.2L1610.3 794.6L1612.8 794.0L1615.3 793.4L1617.8 792.8L1620.3 792.2L1622.8 791.5L1625.3 790.9L1627.8 790.3L1630.3 789.7L1632.8 789.0L1635.3 788.4L1637.8 787.8L1640.3 787.1L1642.8 786.5L1645.3 785.8L1647.8 785.2L1650.3 784.5L1652.8 783.8L1655.3 783.2L1657.8 782.5L1660.3 781.8L1662.8 781.2L1665.3 780.5L1667.8 779.8L1670.3 779.1L1672.8 778.4L1675.3 777.7L1677.8 777.0L1680.3 776.3L1682.8 775.6L1685.3 774.9L1687.8 774.1L1690.3 773.4L1692.8 772.7L1695.3 772.0L1697.8 771.2L1700.3 770.5L1702.8 769.7L1705.3 769.0L1707.8 768.2L1710.3 767.5L1712.8 766.7L1715.3 765.9L1717.8 765.2L1720.3 764.4L1722.8 763.6L1725.3 762.8L1727.8 762.0L1730.3 761.2L1732.8 760.4L1735.3 759.6L1737.8 758.8L1740.3 758.0L1742.8 757.2L1745.3 756.3L1747.8 755.5L1750.3 754.7L1752.8 753.8L1755.3 753.0L1757.8 752.1L1760.3 751.2L1762.8 750.4L1765.3 749.5L1767.8 748.6L1770.3 747.7L1772.8 746.9L1775.3 746.0L1777.8 745.1L1780.3 744.2L1782.8 743.2L1785.3 742.3L1787.8 741.4L1790.3 740.5L1792.8 739.5L1795.3 738.6L1797.8 737.7L1800.3 736.7L1802.8 735.7L1805.3 734.8L1807.8 733.8L1810.3 732.8L1812.8 731.8L1814.9 731.0L1814.9 737.0L1812.8 737.8L1810.3 738.8L1807.8 739.8L1805.3 740.8L1802.8 741.7L1800.3 742.7L1797.8 743.7L1795.3 744.6L1792.8 745.5L1790.3 746.5L1787.8 747.4L1785.3 748.3L1782.8 749.2L1780.3 750.2L1777.8 751.1L1775.3 752.0L1772.8 752.9L1770.3 753.7L1767.8 754.6L1765.3 755.5L1762.8 756.4L1760.3 757.2L1757.8 758.1L1755.3 759.0L1752.8 759.8L1750.3 760.7L1747.8 761.5L1745.3 762.3L1742.8 763.2L1740.3 764.0L1737.8 764.8L1735.3 765.6L1732.8 766.4L1730.3 767.2L1727.8 768.0L1725.3 768.8L1722.8 769.6L1720.3 770.4L1717.8 771.2L1715.3 771.9L1712.8 772.7L1710.3 773.5L1707.8 774.2L1705.3 775.0L1702.8 775.7L1700.3 776.5L1697.8 777.2L1695.3 778.0L1692.8 778.7L1690.3 779.4L1687.8 780.1L1685.3 780.9L1682.8 781.6L1680.3 782.3L1677.8 783.0L1675.3 783.7L1672.8 784.4L1670.3 785.1L1667.8 785.8L1665.3 786.5L1662.8 787.2L1660.3 787.8L1657.8 788.5L1655.3 789.2L1652.8 789.8L1650.3 790.5L1647.8 791.2L1645.3 791.8L1642.8 792.5L1640.3 793.1L1637.8 793.8L1635.3 794.4L1632.8 795.0L1630.3 795.7L1627.8 796.3L1625.3 796.9L1622.8 797.5L1620.3 798.2L1617.8 798.8L1615.3 799.4L1612.8 800.0L1610.3 800.6L1607.8 801.2L1605.3 801.8L1602.8 802.4L1600.3 803.0L1597.8 803.6L1595.3 804.2L1592.8 804.8L1590.3 805.4L1587.8 805.9L1585.3 806.5L1582.8 807.1L1580.3 807.7L1577.8 808.2L1575.3 808.8L1572.8 809.4L1570.3 809.9L1567.8 810.5L1565.3 811.0L1562.8 811.6L1560.3 812.1L1557.8 812.7L1555.3 813.2L1552.8 813.8L1550.3 814.3L1547.8 814.9L1545.3 815.4L1542.8 815.9L1540.3 816.5L1537.8 817.0L1535.3 817.5L1532.8 818.1L1530.3 818.6L1527.8 819.1L1525.3 819.6L1522.8 820.2L1520.3 820.7L1517.8 821.2L1515.3 821.7L1512.8 822.2L1510.3 822.7L1507.8 823.3L1505.3 823.8L1502.8 824.3L1500.3 824.8L1497.8 825.3L1495.3 825.8L1492.8 826.3L1490.3 826.8L1487.8 827.3L1485.3 827.8L1482.8 828.3L1480.3 828.8L1477.8 829.3L1475.3 829.8L1472.8 830.3L1470.3 830.8L1467.8 831.2L1465.3 831.7L1462.8 832.2L1460.3 832.7L1457.8 833.2L1455.3 833.7L1452.8 834.2L1450.3 834.7L1447.8 835.1L1445.3 835.6L1442.8 836.1L1440.3 836.6L1437.8 837.1L1435.3 837.6L1432.8 838.0L1430.3 838.5L1427.8 839.0L1425.3 839.5L1422.8 840.0L1420.3 840.4L1417.8 840.9L1415.3 841.4L1412.8 841.9L1410.3 842.4L1407.8 842.8L1405.3 843.3L1402.8 843.8L1400.3 844.3L1397.8 844.8L1395.3 845.2L1392.8 845.7L1390.3 846.2L1387.8 846.7L1385.3 847.2L1382.8 847.7L1380.3 848.1L1377.8 848.6L1375.3 849.1L1372.8 849.6L1370.3 850.1L1367.8 850.6L1365.3 851.0L1362.8 851.5L1360.3 852.0L1357.8 852.5L1355.3 853.0L1352.8 853.5L1350.3 854.0L1347.8 854.5L1345.3 855.0L1342.8 855.5L1340.3 855.9L1337.8 856.4L1335.3 856.9L1332.8 857.4L1330.3 857.9L1327.8 858.4L1325.3 858.9L1322.8 859.4L1320.3 860.0L1317.8 860.5L1315.3 861.0L1312.8 861.5L1310.3 862.0L1307.8 862.5L1305.3 863.0L1302.8 863.5L1300.3 864.0L1297.8 864.6L1295.3 865.1L1292.8 865.6L1290.3 866.1L1287.8 866.7L1285.3 867.2L1282.8 867.7L1280.3 868.2L1277.8 868.8L1275.3 869.3L1272.8 869.9L1270.3 870.4L1267.8 870.9L1265.3 871.5L1262.8 872.0L1260.3 872.6L1257.8 873.1L1255.3 873.7L1252.8 874.2L1250.3 874.8L1247.8 875.4L1245.3 875.9L1242.8 876.5L1240.3 877.1L1237.8 877.6L1235.3 878.2L1232.8 878.8L1230.3 879.4L1227.8 879.9L1225.3 880.5L1222.8 881.1L1220.3 881.7L1217.8 882.3L1215.3 882.9L1212.8 883.5L1210.3 884.1L1207.8 884.7L1205.3 885.3L1202.8 885.9L1200.3 886.6L1197.8 887.2L1195.3 887.8L1192.8 888.4L1190.3 889.0L1187.8 889.7L1185.3 890.3L1182.8 891.0L1180.3 891.6L1177.8 892.2L1175.3 892.9L1172.8 893.6L1170.3 894.2L1167.8 894.9L1165.3 895.5L1162.8 896.2L1160.3 896.9L1157.8 897.6L1155.3 898.2L1152.8 898.9L1150.3 899.6L1147.8 900.3L1145.3 901.0L1142.8 901.7L1140.3 902.4L1137.8 903.1L1135.3 903.8L1132.8 904.5L1130.3 905.2L1127.8 905.9L1125.3 906.6L1122.8 907.3L1120.3 908.0L1117.8 908.8L1115.3 909.5L1112.8 910.2L1110.3 911.0L1107.8 911.7L1105.3 912.4L1102.8 913.2L1100.3 913.9L1097.8 914.6L1095.3 915.4L1092.8 916.1L1090.3 916.9L1087.8 917.6L1085.3 918.4L1082.8 919.2L1080.3 919.9L1077.8 920.7L1075.3 921.4L1072.8 922.2L1070.3 923.0L1067.8 923.7L1065.3 924.5L1062.8 925.3L1060.3 926.1L1057.8 926.8L1055.3 927.6L1052.8 928.4L1050.3 929.2L1047.8 930.0L1045.3 930.7L1042.8 931.5L1040.3 932.3L1037.8 933.1L1035.3 933.9L1032.8 934.7L1030.3 935.5L1027.8 936.3L1025.3 937.1L1022.8 937.9L1020.3 938.7L1017.8 939.5L1015.3 940.3L1012.8 941.1L1010.3 941.9L1007.8 942.7L1005.3 943.5L1002.8 944.3L1000.3 945.1L997.8 945.9L995.3 946.8L992.8 947.6L990.3 948.4L987.8 949.2L985.3 950.0L982.8 950.8L980.3 951.6L977.8 952.5L975.3 953.3L972.8 954.1L970.3 954.9L967.8 955.7L965.3 956.5L962.8 957.4L960.3 958.2L957.8 959.0L955.3 959.8L952.8 960.6L950.3 961.5L947.8 962.3L945.3 963.1L942.8 963.9L940.3 964.8L937.8 965.6L935.3 966.4L932.8 967.2L930.3 968.0L927.8 968.9L925.3 969.7L922.8 970.5L920.3 971.3L917.8 972.2L915.3 973.0L912.8 973.8L910.3 974.6L907.8 975.4L905.3 976.3L902.8 977.1L900.3 977.9L897.8 978.7L895.3 979.5L892.8 980.3L890.3 981.2L887.8 982.0L885.3 982.8L882.8 983.6L880.3 984.4L877.8 985.2L875.3 986.0L872.8 986.9L870.3 987.7L867.8 988.5L865.3 989.3L862.8 990.1L860.3 990.9L857.8 991.7L855.3 992.5L852.8 993.3L850.3 994.1L847.8 994.9L845.3 995.7L842.8 996.5L840.3 997.3L837.8 998.1L835.3 998.9L832.8 999.7L830.3 1000.5L827.8 1001.3L825.3 1002.0L822.8 1002.8L820.3 1003.6L817.8 1004.4L815.3 1005.2L812.8 1006.0L810.3 1006.7L807.8 1007.5L805.3 1008.3L802.8 1009.1L800.3 1009.8L797.8 1010.6L795.3 1011.4L792.8 1012.1L790.3 1012.9L787.8 1013.6L785.3 1014.4L782.8 1015.1L780.3 1015.9L777.8 1016.7L775.3 1017.4L772.8 1018.1L770.3 1018.9L767.8 1019.6L765.3 1020.4L762.8 1021.1L760.3 1021.8L757.8 1022.6L755.3 1023.3L752.8 1024.0L750.3 1024.7L747.8 1025.5L745.3 1026.2L742.8 1026.9L740.3 1027.6L737.8 1028.3L735.3 1029.0L732.8 1029.7L730.3 1030.4L727.8 1031.1L725.3 1031.8L722.8 1032.5L720.3 1033.2L717.8 1033.9L715.3 1034.6L712.8 1035.2L710.3 1035.9L707.8 1036.6L705.3 1037.2L702.8 1037.9L700.3 1038.6L697.8 1039.2L695.3 1039.9L692.8 1040.5L690.3 1041.2L687.8 1041.8L685.3 1042.5L682.8 1043.1L680.3 1043.7L677.8 1044.4L675.3 1045.0L672.8 1045.6L670.3 1046.2L667.8 1046.8L665.3 1047.4L662.8 1048.1L660.3 1048.7L657.8 1049.3L655.3 1049.8L652.8 1050.4L650.3 1051.0L647.8 1051.6L645.3 1052.2L642.8 1052.8L640.3 1053.3L637.8 1053.9L635.3 1054.5L632.8 1055.0L630.3 1055.6L627.8 1056.1L625.3 1056.7L622.8 1057.2L620.3 1057.8L617.8 1058.3L615.3 1058.8L612.8 1059.3L610.3 1059.9L607.8 1060.4L605.3 1060.9L602.8 1061.4L600.3 1061.9L597.8 1062.4L595.3 1062.9L592.8 1063.4L590.3 1063.9L587.8 1064.4L585.3 1064.8L582.8 1065.3L580.3 1065.8L577.8 1066.2L575.3 1066.7L572.8 1067.1L570.3 1067.6L567.8 1068.0L565.3 1068.5L562.8 1068.9L560.3 1069.3L557.8 1069.8L555.3 1070.2L552.8 1070.6L550.3 1071.0L547.8 1071.4L545.3 1071.8L542.8 1072.2L540.3 1072.6L537.8 1073.0L535.3 1073.4L532.8 1073.8L530.3 1074.1L527.8 1074.5L525.3 1074.9L522.8 1075.2L520.3 1075.6L517.8 1075.9L515.3 1076.3L512.8 1076.6L510.3 1076.9L507.8 1077.3L505.3 1077.6L502.8 1077.9L500.3 1078.2L497.8 1078.5L495.3 1078.8L492.8 1079.1L490.3 1079.4L487.8 1079.7L485.3 1080.0L482.8 1080.2L480.3 1080.5L477.8 1080.8L475.3 1081.0L472.8 1081.3L470.3 1081.5L467.8 1081.8L465.3 1082.0L462.8 1082.2L460.3 1082.4L457.8 1082.7L455.3 1082.9L452.8 1083.1L450.3 1083.3L447.8 1083.5L445.3 1083.7L442.8 1083.8L440.3 1084.0L437.8 1084.2L435.3 1084.4L432.8 1084.5L430.3 1084.7L427.8 1084.8L425.3 1085.0L422.8 1085.1L420.3 1085.2L417.8 1085.4L415.3 1085.5L412.8 1085.6L410.3 1085.7L407.8 1085.8L405.3 1085.9L402.8 1086.0L400.3 1086.1L397.8 1086.1L395.3 1086.2L392.8 1086.3L390.3 1086.3L387.8 1086.4L385.3 1086.4L382.8 1086.5L380.3 1086.5L377.8 1086.5L375.3 1086.6L372.8 1086.6L370.3 1086.6L367.8 1086.6L365.3 1086.6L362.8 1086.6L360.3 1086.5L357.8 1086.5L355.3 1086.5L352.8 1086.5L350.3 1086.4L347.8 1086.4L345.3 1086.3L342.8 1086.2L340.3 1086.2L337.8 1086.1L335.3 1086.0L332.8 1085.9L330.3 1085.8L327.8 1085.7L325.3 1085.6L322.8 1085.5L320.3 1085.4L317.8 1085.2L315.3 1085.1L312.8 1085.0L310.3 1084.8L307.8 1084.6L305.3 1084.5L302.8 1084.3L300.3 1084.1L297.8 1083.9L295.3 1083.7L292.8 1083.5L290.3 1083.3L287.8 1083.1L285.3 1082.9L282.8 1082.7L280.3 1082.4L277.8 1082.2L275.3 1081.9L272.8 1081.7L270.3 1081.4L267.8 1081.1L265.3 1080.9L262.8 1080.6L260.3 1080.3L257.8 1080.0L255.3 1079.7L252.8 1079.4L250.3 1079.0L247.8 1078.7L245.3 1078.4L242.8 1078.0L240.3 1077.7L237.8 1077.3L235.3 1076.9L232.8 1076.5L230.3 1076.2L227.8 1075.8L225.3 1075.4L222.8 1075.0L220.3 1074.6L217.8 1074.1L215.3 1073.7L212.8 1073.3L210.3 1072.8L207.8 1072.4L205.3 1071.9Z" fill="#0072BD"/>
<path d="M205.3 1267.1L207.8 1266.8L210.3 1266.6L212.8 1266.3L215.3 1266.0L217.8 1265.7L220.3 1265.4L222.8 1265.0L225.3 1264.7L227.8 1264.3L230.3 1263.9L232.8 1263.5L235.3 1263.1L237.8 1262.7L240.3 1262.3L242.8 1261.8L245.3 1261.4L247.8 1260.9L250.3 1260.4L252.8 1259.9L255.3 1259.4L257.8 1258.9L260.3 1258.4L262.8 1257.9L265.3 1257.3L267.8 1256.8L270.3 1256.2L272.8 1255.7L275.3 1255.1L277.8 1254.5L280.3 1253.9L282.8 1253.3L285.3 1252.7L287.8 1252.1L290.3 1251.5L292.8 1250.9L295.3 1250.3L297.8 1249.7L300.3 1249.0L302.8 1248.4L305.3 1247.8L307.8 1247.1L310.3 1246.5L312.8 1245.8L315.3 1245.2L317.8 1244.5L320.3 1243.9L322.8 1243.2L325.3 1242.6L327.8 1241.9L330.3 1241.2L332.8 1240.6L335.3 1239.9L337.8 1239.2L340.3 1238.6L342.8 1237.9L345.3 1237.2L347.8 1236.6L350.3 1235.9L352.8 1235.2L355.3 1234.6L357.8 1233.9L360.3 1233.2L362.8 1232.6L365.3 1231.9L367.8 1231.2L370.3 1230.5L372.8 1229.9L375.3 1229.2L377.8 1228.5L380.3 1227.9L382.8 1227.2L385.3 1226.5L387.8 1225.9L390.3 1225.2L392.8 1224.5L395.3 1223.9L397.8 1223.2L400.3 1222.6L402.8 1221.9L405.3 1221.3L407.8 1220.6L410.3 1220.0L412.8 1219.3L415.3 1218.7L417.8 1218.0L420.3 1217.4L422.8 1216.8L425.3 1216.1L427.8 1215.5L430.3 1214.9L432.8 1214.3L435.3 1213.6L437.8 1213.0L440.3 1212.4L442.8 1211.8L445.3 1211.2L447.8 1210.6L450.3 1210.0L452.8 1209.4L455.3 1208.8L457.8 1208.2L460.3 1207.7L462.8 1207.1L465.3 1206.5L467.8 1206.0L470.3 1205.4L472.8 1204.9L475.3 1204.3L477.8 1203.8L480.3 1203.2L482.8 1202.7L485.3 1202.2L487.8 1201.6L490.3 1201.1L492.8 1200.6L495.3 1200.1L497.8 1199.6L500.3 1199.1L502.8 1198.6L505.3 1198.1L507.8 1197.6L510.3 1197.1L512.8 1196.6L515.3 1196.2L517.8 1195.7L520.3 1195.2L522.8 1194.8L525.3 1194.3L527.8 1193.8L530.3 1193.4L532.8 1192.9L535.3 1192.5L537.8 1192.0L540.3 1191.6L542.8 1191.2L545.3 1190.7L547.8 1190.3L550.3 1189.9L552.8 1189.4L555.3 1189.0L557.8 1188.6L560.3 1188.2L562.8 1187.8L565.3 1187.4L567.8 1187.0L570.3 1186.6L572.8 1186.2L575.3 1185.8L577.8 1185.4L580.3 1185.0L582.8 1184.6L585.3 1184.2L587.8 1183.8L590.3 1183.4L592.8 1183.1L595.3 1182.7L597.8 1182.3L600.3 1181.9L602.8 1181.6L605.3 1181.2L607.8 1180.8L610.3 1180.5L612.8 1180.1L615.3 1179.7L617.8 1179.4L620.3 1179.0L622.8 1178.7L625.3 1178.3L627.8 1177.9L630.3 1177.6L632.8 1177.2L635.3 1176.9L637.8 1176.6L640.3 1176.2L642.8 1175.9L645.3 1175.5L647.8 1175.2L650.3 1174.8L652.8 1174.5L655.3 1174.2L657.8 1173.8L660.3 1173.5L662.8 1173.2L665.3 1172.8L667.8 1172.5L670.3 1172.2L672.8 1171.8L675.3 1171.5L677.8 1171.2L680.3 1170.8L682.8 1170.5L685.3 1170.2L687.8 1169.8L690.3 1169.5L692.8 1169.2L695.3 1168.8L697.8 1168.5L700.3 1168.2L702.8 1167.9L705.3 1167.5L707.8 1167.2L710.3 1166.9L712.8 1166.5L715.3 1166.2L717.8 1165.9L720.3 1165.6L722.8 1165.2L725.3 1164.9L727.8 1164.6L730.3 1164.2L732.8 1163.9L735.3 1163.6L737.8 1163.2L740.3 1162.9L742.8 1162.6L745.3 1162.2L747.8 1161.9L750.3 1161.6L752.8 1161.2L755.3 1160.9L757.8 1160.5L760.3 1160.2L762.8 1159.9L765.3 1159.5L767.8 1159.2L770.3 1158.8L772.8 1158.5L775.3 1158.1L777.8 1157.8L780.3 1157.4L782.8 1157.1L785.3 1156.7L787.8 1156.4L790.3 1156.0L792.8 1155.6L795.3 1155.3L797.8 1154.9L800.3 1154.5L802.8 1154.2L805.3 1153.8L807.8 1153.4L810.3 1153.1L812.8 1152.7L815.3 1152.3L817.8 1151.9L820.3 1151.6L822.8 1151.2L825.3 1150.8L827.8 1150.4L830.3 1150.0L832.8 1149.6L835.3 1149.3L837.8 1148.9L840.3 1148.5L842.8 1148.1L845.3 1147.7L847.8 1147.3L850.3 1146.9L852.8 1146.5L855.3 1146.1L857.8 1145.7L860.3 1145.3L862.8 1144.9L865.3 1144.5L867.8 1144.1L870.3 1143.7L872.8 1143.3L875.3 1142.8L877.8 1142.4L880.3 1142.0L882.8 1141.6L885.3 1141.2L887.8 1140.8L890.3 1140.3L892.8 1139.9L895.3 1139.5L897.8 1139.1L900.3 1138.6L902.8 1138.2L905.3 1137.8L907.8 1137.4L910.3 1136.9L912.8 1136.5L915.3 1136.1L917.8 1135.6L920.3 1135.2L922.8 1134.8L925.3 1134.3L927.8 1133.9L930.3 1133.4L932.8 1133.0L935.3 1132.6L937.8 1132.1L940.3 1131.7L942.8 1131.2L945.3 1130.8L947.8 1130.3L950.3 1129.9L952.8 1129.4L955.3 1129.0L957.8 1128.5L960.3 1128.1L962.8 1127.6L965.3 1127.1L967.8 1126.7L970.3 1126.2L972.8 1125.8L975.3 1125.3L977.8 1124.8L980.3 1124.4L982.8 1123.9L985.3 1123.4L987.8 1123.0L990.3 1122.5L992.8 1122.0L995.3 1121.6L997.8 1121.1L1000.3 1120.6L1002.8 1120.1L1005.3 1119.7L1007.8 1119.2L1010.3 1118.7L1012.8 1118.2L1015.3 1117.7L1017.8 1117.3L1020.3 1116.8L1022.8 1116.3L1025.3 1115.8L1027.8 1115.3L1030.3 1114.9L1032.8 1114.4L1035.3 1113.9L1037.8 1113.4L1040.3 1112.9L1042.8 1112.4L1045.3 1111.9L1047.8 1111.4L1050.3 1110.9L1052.8 1110.5L1055.3 1110.0L1057.8 1109.5L1060.3 1109.0L1062.8 1108.5L1065.3 1108.0L1067.8 1107.5L1070.3 1107.0L1072.8 1106.5L1075.3 1106.0L1077.8 1105.5L1080.3 1105.0L1082.8 1104.5L1085.3 1104.0L1087.8 1103.5L1090.3 1103.0L1092.8 1102.5L1095.3 1102.0L1097.8 1101.5L1100.3 1101.0L1102.8 1100.5L1105.3 1100.0L1107.8 1099.5L1110.3 1099.0L1112.8 1098.5L1115.3 1098.0L1117.8 1097.5L1120.3 1097.0L1122.8 1096.5L1125.3 1096.0L1127.8 1095.5L1130.3 1095.0L1132.8 1094.5L1135.3 1094.0L1137.8 1093.5L1140.3 1093.0L1142.8 1092.5L1145.3 1092.0L1147.8 1091.5L1150.3 1091.0L1152.8 1090.5L1155.3 1090.0L1157.8 1089.5L1160.3 1089.0L1162.8 1088.5L1165.3 1088.0L1167.8 1087.5L1170.3 1087.0L1172.8 1086.5L1175.3 1085.9L1177.8 1085.4L1180.3 1084.9L1182.8 1084.4L1185.3 1083.9L1187.8 1083.4L1190.3 1082.9L1192.8 1082.4L1195.3 1081.9L1197.8 1081.4L1200.3 1080.9L1202.8 1080.4L1205.3 1079.9L1207.8 1079.4L1210.3 1078.9L1212.8 1078.4L1215.3 1077.9L1217.8 1077.4L1220.3 1076.9L1222.8 1076.4L1225.3 1075.9L1227.8 1075.4L1230.3 1074.8L1232.8 1074.3L1235.3 1073.8L1237.8 1073.3L1240.3 1072.8L1242.8 1072.3L1245.3 1071.8L1247.8 1071.3L1250.3 1070.8L1252.8 1070.3L1255.3 1069.8L1257.8 1069.3L1260.3 1068.8L1262.8 1068.3L1265.3 1067.8L1267.8 1067.2L1270.3 1066.7L1272.8 1066.2L1275.3 1065.7L1277.8 1065.2L1280.3 1064.7L1282.8 1064.2L1285.3 1063.7L1287.8 1063.2L1290.3 1062.7L1292.8 1062.2L1295.3 1061.6L1297.8 1061.1L1300.3 1060.6L1302.8 1060.1L1305.3 1059.6L1307.8 1059.1L1310.3 1058.6L1312.8 1058.1L1315.3 1057.6L1317.8 1057.0L1320.3 1056.5L1322.8 1056.0L1325.3 1055.5L1327.8 1055.0L1330.3 1054.5L1332.8 1054.0L1335.3 1053.5L1337.8 1052.9L1340.3 1052.4L1342.8 1051.9L1345.3 1051.4L1347.8 1050.9L1350.3 1050.4L1352.8 1049.8L1355.3 1049.3L1357.8 1048.8L1360.3 1048.3L1362.8 1047.8L1365.3 1047.3L1367.8 1046.7L1370.3 1046.2L1372.8 1045.7L1375.3 1045.2L1377.8 1044.7L1380.3 1044.1L1382.8 1043.6L1385.3 1043.1L1387.8 1042.6L1390.3 1042.1L1392.8 1041.5L1395.3 1041.0L1397.8 1040.5L1400.3 1040.0L1402.8 1039.4L1405.3 1038.9L1407.8 1038.4L1410.3 1037.9L1412.8 1037.3L1415.3 1036.8L1417.8 1036.3L1420.3 1035.8L1422.8 1035.2L1425.3 1034.7L1427.8 1034.2L1430.3 1033.7L1432.8 1033.1L1435.3 1032.6L1437.8 1032.1L1440.3 1031.5L1442.8 1031.0L1445.3 1030.5L1447.8 1029.9L1450.3 1029.4L1452.8 1028.9L1455.3 1028.3L1457.8 1027.8L1460.3 1027.3L1462.8 1026.7L1465.3 1026.2L1467.8 1025.7L1470.3 1025.1L1472.8 1024.6L1475.3 1024.0L1477.8 1023.5L1480.3 1023.0L1482.8 1022.4L1485.3 1021.9L1487.8 1021.3L1490.3 1020.8L1492.8 1020.3L1495.3 1019.7L1497.8 1019.2L1500.3 1018.6L1502.8 1018.1L1505.3 1017.5L1507.8 1017.0L1510.3 1016.4L1512.8 1015.9L1515.3 1015.4L1517.8 1014.8L1520.3 1014.3L1522.8 1013.7L1525.3 1013.2L1527.8 1012.6L1530.3 1012.1L1532.8 1011.5L1535.3 1010.9L1537.8 1010.4L1540.3 1009.8L1542.8 1009.3L1545.3 1008.7L1547.8 1008.2L1550.3 1007.6L1552.8 1007.1L1555.3 1006.5L1557.8 1005.9L1560.3 1005.4L1562.8 1004.8L1565.3 1004.2L1567.8 1003.7L1570.3 1003.1L1572.8 1002.6L1575.3 1002.0L1577.8 1001.4L1580.3 1000.9L1582.8 1000.3L1585.3 999.7L1587.8 999.2L1590.3 998.6L1592.8 998.0L1595.3 997.4L1597.8 996.9L1600.3 996.3L1602.8 995.7L1605.3 995.2L1607.8 994.6L1610.3 994.0L1612.8 993.4L1615.3 992.8L1617.8 992.3L1620.3 991.7L1622.8 991.1L1625.3 990.5L1627.8 989.9L1630.3 989.4L1632.8 988.8L1635.3 988.2L1637.8 987.6L1640.3 987.0L1642.8 986.4L1645.3 985.8L1647.8 985.3L1650.3 984.7L1652.8 984.1L1655.3 983.5L1657.8 982.9L1660.3 982.3L1662.8 981.7L1665.3 981.1L1667.8 980.5L1670.3 979.9L1672.8 979.3L1675.3 978.7L1677.8 978.1L1680.3 977.5L1682.8 976.9L1685.3 976.3L1687.8 975.7L1690.3 975.1L1692.8 974.5L1695.3 973.9L1697.8 973.3L1700.3 972.7L1702.8 972.1L1705.3 971.4L1707.8 970.8L1710.3 970.2L1712.8 969.6L1715.3 969.0L1717.8 968.4L1720.3 967.8L1722.8 967.1L1725.3 966.5L1727.8 965.9L1730.3 965.3L1732.8 964.7L1735.3 964.0L1737.8 963.4L1740.3 962.8L1742.8 962.2L1745.3 961.5L1747.8 960.9L1750.3 960.3L1752.8 959.6L1755.3 959.0L1757.8 958.4L1760.3 957.7L1762.8 957.1L1765.3 956.5L1767.8 955.8L1770.3 955.2L1772.8 954.6L1775.3 953.9L1777.8 953.3L1780.3 952.6L1782.8 952.0L1785.3 951.3L1787.8 950.7L1790.3 950.0L1792.8 949.4L1795.3 948.7L1797.8 948.1L1800.3 947.4L1802.8 946.8L1805.3 946.1L1807.8 945.5L1810.3 944.8L1812.8 944.1L1814.9 943.6L1814.9 949.6L1812.8 950.1L1810.3 950.8L1807.8 951.5L1805.3 952.1L1802.8 952.8L1800.3 953.4L1797.8 954.1L1795.3 954.7L1792.8 955.4L1790.3 956.0L1787.8 956.7L1785.3 957.3L1782.8 958.0L1780.3 958.6L1777.8 959.3L1775.3 959.9L1772.8 960.6L1770.3 961.2L1767.8 961.8L1765.3 962.5L1762.8 963.1L1760.3 963.7L1757.8 964.4L1755.3 965.0L1752.8 965.6L1750.3 966.3L1747.8 966.9L1745.3 967.5L1742.8 968.2L1740.3 968.8L1737.8 969.4L1735.3 970.0L1732.8 970.7L1730.3 971.3L1727.8 971.9L1725.3 972.5L1722.8 973.1L1720.3 973.8L1717.8 974.4L1715.3 975.0L1712.8 975.6L1710.3 976.2L1707.8 976.8L1705.3 977.4L1702.8 978.1L1700.3 978.7L1697.8 979.3L1695.3 979.9L1692.8 980.5L1690.3 981.1L1687.8 981.7L1685.3 982.3L1682.8 982.9L1680.3 983.5L1677.8 984.1L1675.3 984.7L1672.8 985.3L1670.3 985.9L1667.8 986.5L1665.3 987.1L1662.8 987.7L1660.3 988.3L1657.8 988.9L1655.3 989.5L1652.8 990.1L1650.3 990.7L1647.8 991.3L1645.3 991.8L1642.8 992.4L1640.3 993.0L1637.8 993.6L1635.3 994.2L1632.8 994.8L1630.3 995.4L1627.8 995.9L1625.3 996.5L1622.8 997.1L1620.3 997.7L1617.8 998.3L1615.3 998.8L1612.8 999.4L1610.3 1000.0L1607.8 1000.6L1605.3 1001.2L1602.8 1001.7L1600.3 1002.3L1597.8 1002.9L1595.3 1003.4L1592.8 1004.0L1590.3 1004.6L1587.8 1005.2L1585.3 1005.7L1582.8 1006.3L1580.3 1006.9L1577.8 1007.4L1575.3 1008.0L1572.8 1008.6L1570.3 1009.1L1567.8 1009.7L1565.3 1010.2L1562.8 1010.8L1560.3 1011.4L1557.8 1011.9L1555.3 1012.5L1552.8 1013.1L1550.3 1013.6L1547.8 1014.2L1545.3 1014.7L1542.8 1015.3L1540.3 1015.8L1537.8 1016.4L1535.3 1016.9L1532.8 1017.5L1530.3 1018.1L1527.8 1018.6L1525.3 1019.2L1522.8 1019.7L1520.3 1020.3L1517.8 1020.8L1515.3 1021.4L1512.8 1021.9L1510.3 1022.4L1507.8 1023.0L1505.3 1023.5L1502.8 1024.1L1500.3 1024.6L1497.8 1025.2L1495.3 1025.7L1492.8 1026.3L1490.3 1026.8L1487.8 1027.3L1485.3 1027.9L1482.8 1028.4L1480.3 1029.0L1477.8 1029.5L1475.3 1030.0L1472.8 1030.6L1470.3 1031.1L1467.8 1031.7L1465.3 1032.2L1462.8 1032.7L1460.3 1033.3L1457.8 1033.8L1455.3 1034.3L1452.8 1034.9L1450.3 1035.4L1447.8 1035.9L1445.3 1036.5L1442.8 1037.0L1440.3 1037.5L1437.8 1038.1L1435.3 1038.6L1432.8 1039.1L1430.3 1039.7L1427.8 1040.2L1425.3 1040.7L1422.8 1041.2L1420.3 1041.8L1417.8 1042.3L1415.3 1042.8L1412.8 1043.3L1410.3 1043.9L1407.8 1044.4L1405.3 1044.9L1402.8 1045.4L1400.3 1046.0L1397.8 1046.5L1395.3 1047.0L1392.8 1047.5L1390.3 1048.1L1387.8 1048.6L1385.3 1049.1L1382.8 1049.6L1380.3 1050.1L1377.8 1050.7L1375.3 1051.2L1372.8 1051.7L1370.3 1052.2L1367.8 1052.7L1365.3 1053.3L1362.8 1053.8L1360.3 1054.3L1357.8 1054.8L1355.3 1055.3L1352.8 1055.8L1350.3 1056.4L1347.8 1056.9L1345.3 1057.4L1342.8 1057.9L1340.3 1058.4L1337.8 1058.9L1335.3 1059.5L1332.8 1060.0L1330.3 1060.5L1327.8 1061.0L1325.3 1061.5L1322.8 1062.0L1320.3 1062.5L1317.8 1063.0L1315.3 1063.6L1312.8 1064.1L1310.3 1064.6L1307.8 1065.1L1305.3 1065.6L1302.8 1066.1L1300.3 1066.6L1297.8 1067.1L1295.3 1067.6L1292.8 1068.2L1290.3 1068.7L1287.8 1069.2L1285.3 1069.7L1282.8 1070.2L1280.3 1070.7L1277.8 1071.2L1275.3 1071.7L1272.8 1072.2L1270.3 1072.7L1267.8 1073.2L1265.3 1073.8L1262.8 1074.3L1260.3 1074.8L1257.8 1075.3L1255.3 1075.8L1252.8 1076.3L1250.3 1076.8L1247.8 1077.3L1245.3 1077.8L1242.8 1078.3L1240.3 1078.8L1237.8 1079.3L1235.3 1079.8L1232.8 1080.3L1230.3 1080.8L1227.8 1081.4L1225.3 1081.9L1222.8 1082.4L1220.3 1082.9L1217.8 1083.4L1215.3 1083.9L1212.8 1084.4L1210.3 1084.9L1207.8 1085.4L1205.3 1085.9L1202.8 1086.4L1200.3 1086.9L1197.8 1087.4L1195.3 1087.9L1192.8 1088.4L1190.3 1088.9L1187.8 1089.4L1185.3 1089.9L1182.8 1090.4L1180.3 1090.9L1177.8 1091.4L1175.3 1091.9L1172.8 1092.5L1170.3 1093.0L1167.8 1093.5L1165.3 1094.0L1162.8 1094.5L1160.3 1095.0L1157.8 1095.5L1155.3 1096.0L1152.8 1096.5L1150.3 1097.0L1147.8 1097.5L1145.3 1098.0L1142.8 1098.5L1140.3 1099.0L1137.8 1099.5L1135.3 1100.0L1132.8 1100.5L1130.3 1101.0L1127.8 1101.5L1125.3 1102.0L1122.8 1102.5L1120.3 1103.0L1117.8 1103.5L1115.3 1104.0L1112.8 1104.5L1110.3 1105.0L1107.8 1105.5L1105.3 1106.0L1102.8 1106.5L1100.3 1107.0L1097.8 1107.5L1095.3 1108.0L1092.8 1108.5L1090.3 1109.0L1087.8 1109.5L1085.3 1110.0L1082.8 1110.5L1080.3 1111.0L1077.8 1111.5L1075.3 1112.0L1072.8 1112.5L1070.3 1113.0L1067.8 1113.5L1065.3 1114.0L1062.8 1114.5L1060.3 1115.0L1057.8 1115.5L1055.3 1116.0L1052.8 1116.5L1050.3 1116.9L1047.8 1117.4L1045.3 1117.9L1042.8 1118.4L1040.3 1118.9L1037.8 1119.4L1035.3 1119.9L1032.8 1120.4L1030.3 1120.9L1027.8 1121.3L1025.3 1121.8L1022.8 1122.3L1020.3 1122.8L1017.8 1123.3L1015.3 1123.7L1012.8 1124.2L1010.3 1124.7L1007.8 1125.2L1005.3 1125.7L1002.8 1126.1L1000.3 1126.6L997.8 1127.1L995.3 1127.6L992.8 1128.0L990.3 1128.5L987.8 1129.0L985.3 1129.4L982.8 1129.9L980.3 1130.4L977.8 1130.8L975.3 1131.3L972.8 1131.8L970.3 1132.2L967.8 1132.7L965.3 1133.1L962.8 1133.6L960.3 1134.1L957.8 1134.5L955.3 1135.0L952.8 1135.4L950.3 1135.9L947.8 1136.3L945.3 1136.8L942.8 1137.2L940.3 1137.7L937.8 1138.1L935.3 1138.6L932.8 1139.0L930.3 1139.4L927.8 1139.9L925.3 1140.3L922.8 1140.8L920.3 1141.2L917.8 1141.6L915.3 1142.1L912.8 1142.5L910.3 1142.9L907.8 1143.4L905.3 1143.8L902.8 1144.2L900.3 1144.6L897.8 1145.1L895.3 1145.5L892.8 1145.9L890.3 1146.3L887.8 1146.8L885.3 1147.2L882.8 1147.6L880.3 1148.0L877.8 1148.4L875.3 1148.8L872.8 1149.3L870.3 1149.7L867.8 1150.1L865.3 1150.5L862.8 1150.9L860.3 1151.3L857.8 1151.7L855.3 1152.1L852.8 1152.5L850.3 1152.9L847.8 1153.3L845.3 1153.7L842.8 1154.1L840.3 1154.5L837.8 1154.9L835.3 1155.3L832.8 1155.6L830.3 1156.0L827.8 1156.4L825.3 1156.8L822.8 1157.2L820.3 1157.6L817.8 1157.9L815.3 1158.3L812.8 1158.7L810.3 1159.1L807.8 1159.4L805.3 1159.8L802.8 1160.2L800.3 1160.5L797.8 1160.9L795.3 1161.3L792.8 1161.6L790.3 1162.0L787.8 1162.4L785.3 1162.7L782.8 1163.1L780.3 1163.4L777.8 1163.8L775.3 1164.1L772.8 1164.5L770.3 1164.8L767.8 1165.2L765.3 1165.5L762.8 1165.9L760.3 1166.2L757.8 1166.5L755.3 1166.9L752.8 1167.2L750.3 1167.6L747.8 1167.9L745.3 1168.2L742.8 1168.6L740.3 1168.9L737.8 1169.2L735.3 1169.6L732.8 1169.9L730.3 1170.2L727.8 1170.6L725.3 1170.9L722.8 1171.2L720.3 1171.6L717.8 1171.9L715.3 1172.2L712.8 1172.5L710.3 1172.9L707.8 1173.2L705.3 1173.5L702.8 1173.9L700.3 1174.2L697.8 1174.5L695.3 1174.8L692.8 1175.2L690.3 1175.5L687.8 1175.8L685.3 1176.2L682.8 1176.5L680.3 1176.8L677.8 1177.2L675.3 1177.5L672.8 1177.8L670.3 1178.2L667.8 1178.5L665.3 1178.8L662.8 1179.2L660.3 1179.5L657.8 1179.8L655.3 1180.2L652.8 1180.5L650.3 1180.8L647.8 1181.2L645.3 1181.5L642.8 1181.9L640.3 1182.2L637.8 1182.6L635.3 1182.9L632.8 1183.2L630.3 1183.6L627.8 1183.9L625.3 1184.3L622.8 1184.7L620.3 1185.0L617.8 1185.4L615.3 1185.7L612.8 1186.1L610.3 1186.5L607.8 1186.8L605.3 1187.2L602.8 1187.6L600.3 1187.9L597.8 1188.3L595.3 1188.7L592.8 1189.1L590.3 1189.4L587.8 1189.8L585.3 1190.2L582.8 1190.6L580.3 1191.0L577.8 1191.4L575.3 1191.8L572.8 1192.2L570.3 1192.6L567.8 1193.0L565.3 1193.4L562.8 1193.8L560.3 1194.2L557.8 1194.6L555.3 1195.0L552.8 1195.4L550.3 1195.9L547.8 1196.3L545.3 1196.7L542.8 1197.2L540.3 1197.6L537.8 1198.0L535.3 1198.5L532.8 1198.9L530.3 1199.4L527.8 1199.8L525.3 1200.3L522.8 1200.8L520.3 1201.2L517.8 1201.7L515.3 1202.2L512.8 1202.6L510.3 1203.1L507.8 1203.6L505.3 1204.1L502.8 1204.6L500.3 1205.1L497.8 1205.6L495.3 1206.1L492.8 1206.6L490.3 1207.1L487.8 1207.6L485.3 1208.2L482.8 1208.7L480.3 1209.2L477.8 1209.8L475.3 1210.3L472.8 1210.9L470.3 1211.4L467.8 1212.0L465.3 1212.5L462.8 1213.1L460.3 1213.7L457.8 1214.2L455.3 1214.8L452.8 1215.4L450.3 1216.0L447.8 1216.6L445.3 1217.2L442.8 1217.8L440.3 1218.4L437.8 1219.0L435.3 1219.6L432.8 1220.3L430.3 1220.9L427.8 1221.5L425.3 1222.1L422.8 1222.8L420.3 1223.4L417.8 1224.0L415.3 1224.7L412.8 1225.3L410.3 1226.0L407.8 1226.6L405.3 1227.3L402.8 1227.9L400.3 1228.6L397.8 1229.2L395.3 1229.9L392.8 1230.5L390.3 1231.2L387.8 1231.9L385.3 1232.5L382.8 1233.2L380.3 1233.9L377.8 1234.5L375.3 1235.2L372.8 1235.9L370.3 1236.5L367.8 1237.2L365.3 1237.9L362.8 1238.6L360.3 1239.2L357.8 1239.9L355.3 1240.6L352.8 1241.2L350.3 1241.9L347.8 1242.6L345.3 1243.2L342.8 1243.9L340.3 1244.6L337.8 1245.2L335.3 1245.9L332.8 1246.6L330.3 1247.2L327.8 1247.9L325.3 1248.6L322.8 1249.2L320.3 1249.9L317.8 1250.5L315.3 1251.2L312.8 1251.8L310.3 1252.5L307.8 1253.1L305.3 1253.8L302.8 1254.4L300.3 1255.0L297.8 1255.7L295.3 1256.3L292.8 1256.9L290.3 1257.5L287.8 1258.1L285.3 1258.7L282.8 1259.3L280.3 1259.9L277.8 1260.5L275.3 1261.1L272.8 1261.7L270.3 1262.2L267.8 1262.8L265.3 1263.3L262.8 1263.9L260.3 1264.4L257.8 1264.9L255.3 1265.4L252.8 1265.9L250.3 1266.4L247.8 1266.9L245.3 1267.4L242.8 1267.8L240.3 1268.3L237.8 1268.7L235.3 1269.1L232.8 1269.5L230.3 1269.9L227.8 1270.3L225.3 1270.7L222.8 1271.0L220.3 1271.4L217.8 1271.7L215.3 1272.0L212.8 1272.3L210.3 1272.6L207.8 1272.8L205.3 1273.1Z" fill="#4D4D4D"/>
</g>
<rect x="231.6" y="141.4" width="770.8" height="494.0" fill="#fff" stroke="#262626" stroke-width="3"/>
<path d="M231.6 206.4H1002.4" stroke="#262626" stroke-width="3"/>
<text x="244.4" y="186.1" font-size="43.35" font-weight="bold" fill="#000">Frequency combinations (GHz)</text>
<path d="M307.2 243.3H339.0M356.5 243.3H388.3M405.8 243.3H429.0" stroke="#7E2F8E" stroke-width="9" stroke-opacity="0.5"/>
<path d="M307.2 243.3H339.0M356.5 243.3H388.3M405.8 243.3H429.0" stroke="#7E2F8E" stroke-width="3"/>
<text x="436.4" y="257.0" font-size="49.6" fill="#000" xml:space="preserve" style="white-space:pre">6 V+H</text>
<path d="M307.2 302.0H339.0M356.5 302.0H388.3M405.8 302.0H429.0" stroke="#EDB120" stroke-width="9" stroke-opacity="0.5"/>
<path d="M307.2 302.0H339.0M356.5 302.0H388.3M405.8 302.0H429.0" stroke="#EDB120" stroke-width="3"/>
<text x="436.4" y="318.8" font-size="49.6" fill="#000" xml:space="preserve" style="white-space:pre">10  V+H</text>
<path d="M307.2 360.4H339.0M356.5 360.4H388.3M405.8 360.4H429.0" stroke="#4DBEEE" stroke-width="9" stroke-opacity="0.5"/>
<path d="M307.2 360.4H339.0M356.5 360.4H388.3M405.8 360.4H429.0" stroke="#4DBEEE" stroke-width="3"/>
<text x="436.4" y="377.6" font-size="49.6" fill="#000" xml:space="preserve" style="white-space:pre">18  V+H</text>
<path d="M307.2 422.1H339.0M356.5 422.1H388.3M405.8 422.1H429.0" stroke="#77AC30" stroke-width="9" stroke-opacity="0.5"/>
<path d="M307.2 422.1H339.0M356.5 422.1H388.3M405.8 422.1H429.0" stroke="#77AC30" stroke-width="3"/>
<text x="436.4" y="438.5" font-size="49.6" fill="#000" xml:space="preserve" style="white-space:pre">36  V+H</text>
<path d="M307.2 484.2H429.0" stroke="#D95319" stroke-width="9" stroke-opacity="0.5"/>
<path d="M307.2 484.2H429.0" stroke="#D95319" stroke-width="3"/>
<text x="436.4" y="500.8" font-size="49.6" fill="#000" xml:space="preserve" style="white-space:pre">6+10  V+H</text>
<path d="M307.2 542.5H429.0" stroke="#0072BD" stroke-width="9" stroke-opacity="0.5"/>
<path d="M307.2 542.5H429.0" stroke="#0072BD" stroke-width="3"/>
<text x="436.4" y="559.3" font-size="49.6" fill="#000" xml:space="preserve" style="white-space:pre">18+36  V+H</text>
<path d="M307.2 604.3H429.0" stroke="#4D4D4D" stroke-width="9" stroke-opacity="0.5"/>
<path d="M307.2 604.3H429.0" stroke="#4D4D4D" stroke-width="3"/>
<text x="436.4" y="617.7" font-size="49.6" fill="#000" xml:space="preserve" style="white-space:pre">6+10+18+36  V+H</text>
<g font-size="53.5" fill="#262626">
<text x="186.8" y="1391.6" text-anchor="end">0</text>
<text x="186.8" y="1203.5" text-anchor="end">2</text>
<text x="186.8" y="1015.4" text-anchor="end">4</text>
<text x="186.8" y="827.3" text-anchor="end">6</text>
<text x="186.8" y="639.2" text-anchor="end">8</text>
<text x="186.8" y="451.1" text-anchor="end">10</text>
<text x="186.8" y="263.0" text-anchor="end">12</text>
<text x="186.8" y="74.9" text-anchor="end">14</text>
<text x="206.8" y="1442.2" text-anchor="middle">0</text>
<text x="525.6" y="1442.2" text-anchor="middle">20</text>
<text x="849.5" y="1442.2" text-anchor="middle">40</text>
<text x="1170.1" y="1442.2" text-anchor="middle">60</text>
<text x="1494.0" y="1442.2" text-anchor="middle">80</text>
<text x="1814.7" y="1442.2" text-anchor="middle">100</text>
</g>
<text x="900.8" y="1515.6" font-size="58.8" fill="#262626">SIC (%)</text>
<text transform="translate(90.8 715.75) rotate(-90)" text-anchor="middle" font-size="59.1" fill="#262626">SIC retrieval error (%)</text>
</svg></body></html>
